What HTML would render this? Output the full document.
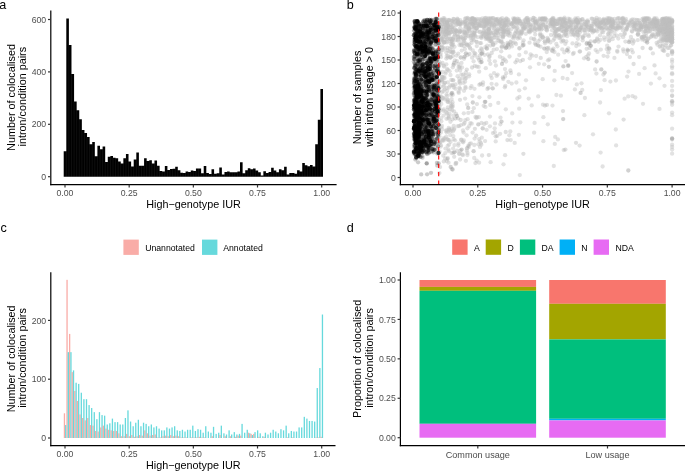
<!DOCTYPE html><html><head><meta charset="utf-8"><style>html,body{margin:0;padding:0;background:#fff;}svg{display:block;will-change:transform}text{font-family:"Liberation Sans", sans-serif;}</style></head><body>
<svg width="685" height="472" viewBox="0 0 685 472">
<rect x="0" y="0" width="685" height="472" fill="#fff"/>
<text x="-0.80" y="9.40" font-size="12.6" fill="#000" text-anchor="start" >a</text>
<text x="346.70" y="9.30" font-size="12.6" fill="#000" text-anchor="start" >b</text>
<text x="0.40" y="232.20" font-size="12.6" fill="#000" text-anchor="start" >c</text>
<text x="346.70" y="232.10" font-size="12.6" fill="#000" text-anchor="start" >d</text>
<path d="M63.70,176.70 L63.70,151.29 L66.30,151.29 L66.30,18.45 L68.89,18.45 L68.89,44.91 L71.48,44.91 L71.48,74.00 L74.08,74.00 L74.08,101.51 L76.67,101.51 L76.67,110.15 L79.26,110.15 L79.26,119.32 L81.85,119.32 L81.85,130.06 L84.45,130.06 L84.45,132.95 L87.04,132.95 L87.04,136.88 L89.63,136.88 L89.63,144.21 L92.23,144.21 L92.23,142.12 L94.82,142.12 L94.82,156.26 L97.41,156.26 L97.41,145.78 L100.00,145.78 L100.00,149.19 L102.60,149.19 L102.60,146.57 L105.19,146.57 L105.19,162.03 L107.78,162.03 L107.78,156.79 L110.38,156.79 L110.38,156.00 L112.97,156.00 L112.97,157.84 L115.56,157.84 L115.56,158.36 L118.16,158.36 L118.16,161.50 L120.75,161.50 L120.75,163.60 L123.34,163.60 L123.34,158.36 L125.93,158.36 L125.93,153.91 L128.53,153.91 L128.53,161.50 L131.12,161.50 L131.12,166.48 L133.71,166.48 L133.71,159.41 L136.31,159.41 L136.31,152.60 L138.90,152.60 L138.90,165.70 L141.49,165.70 L141.49,165.70 L144.08,165.70 L144.08,158.36 L146.68,158.36 L146.68,160.98 L149.27,160.98 L149.27,160.19 L151.86,160.19 L151.86,163.60 L154.46,163.60 L154.46,160.46 L157.05,160.46 L157.05,165.70 L159.64,165.70 L159.64,170.94 L162.23,170.94 L162.23,171.46 L164.83,171.46 L164.83,165.96 L167.42,165.96 L167.42,169.89 L170.01,169.89 L170.01,169.10 L172.61,169.10 L172.61,168.84 L175.20,168.84 L175.20,166.74 L177.79,166.74 L177.79,170.15 L180.39,170.15 L180.39,172.77 L182.98,172.77 L182.98,173.03 L185.57,173.03 L185.57,171.46 L188.16,171.46 L188.16,171.98 L190.76,171.98 L190.76,170.41 L193.35,170.41 L193.35,170.94 L195.94,170.94 L195.94,168.58 L198.54,168.58 L198.54,168.58 L201.13,168.58 L201.13,173.29 L203.72,173.29 L203.72,165.96 L206.31,165.96 L206.31,173.03 L208.91,173.03 L208.91,174.08 L211.50,174.08 L211.50,169.36 L214.09,169.36 L214.09,173.82 L216.69,173.82 L216.69,173.29 L219.28,173.29 L219.28,167.53 L221.87,167.53 L221.87,174.60 L224.47,174.60 L224.47,171.98 L227.06,171.98 L227.06,171.46 L229.65,171.46 L229.65,172.25 L232.24,172.25 L232.24,172.25 L234.84,172.25 L234.84,172.25 L237.43,172.25 L237.43,171.46 L240.02,171.46 L240.02,162.29 L242.62,162.29 L242.62,173.29 L245.21,173.29 L245.21,170.15 L247.80,170.15 L247.80,168.32 L250.39,168.32 L250.39,169.36 L252.99,169.36 L252.99,168.58 L255.58,168.58 L255.58,170.41 L258.17,170.41 L258.17,172.25 L260.77,172.25 L260.77,175.39 L263.36,175.39 L263.36,171.20 L265.95,171.20 L265.95,173.03 L268.54,173.03 L268.54,171.98 L271.14,171.98 L271.14,167.79 L273.73,167.79 L273.73,170.41 L276.32,170.41 L276.32,172.25 L278.92,172.25 L278.92,169.36 L281.51,169.36 L281.51,170.15 L284.10,170.15 L284.10,166.74 L286.70,166.74 L286.70,174.60 L289.29,174.60 L289.29,173.03 L291.88,173.03 L291.88,173.03 L294.47,173.03 L294.47,173.82 L297.07,173.82 L297.07,170.15 L299.66,170.15 L299.66,171.46 L302.25,171.46 L302.25,163.08 L304.85,163.08 L304.85,165.17 L307.44,165.17 L307.44,166.22 L310.03,166.22 L310.03,164.91 L312.62,164.91 L312.62,166.48 L315.22,166.48 L315.22,144.21 L317.81,144.21 L317.81,119.85 L320.40,119.85 L320.40,88.93 L323.00,88.93 L323.00,176.70 Z" fill="#000"/>
<line x1="66.30" y1="151.29" x2="66.30" y2="176.70" stroke="#fff" stroke-opacity="0.18" stroke-width="0.35"/>
<line x1="68.89" y1="44.91" x2="68.89" y2="176.70" stroke="#fff" stroke-opacity="0.18" stroke-width="0.35"/>
<line x1="71.48" y1="74.00" x2="71.48" y2="176.70" stroke="#fff" stroke-opacity="0.18" stroke-width="0.35"/>
<line x1="74.08" y1="101.51" x2="74.08" y2="176.70" stroke="#fff" stroke-opacity="0.18" stroke-width="0.35"/>
<line x1="76.67" y1="110.15" x2="76.67" y2="176.70" stroke="#fff" stroke-opacity="0.18" stroke-width="0.35"/>
<line x1="79.26" y1="119.32" x2="79.26" y2="176.70" stroke="#fff" stroke-opacity="0.18" stroke-width="0.35"/>
<line x1="81.85" y1="130.06" x2="81.85" y2="176.70" stroke="#fff" stroke-opacity="0.18" stroke-width="0.35"/>
<line x1="84.45" y1="132.95" x2="84.45" y2="176.70" stroke="#fff" stroke-opacity="0.18" stroke-width="0.35"/>
<line x1="87.04" y1="136.88" x2="87.04" y2="176.70" stroke="#fff" stroke-opacity="0.18" stroke-width="0.35"/>
<line x1="89.63" y1="144.21" x2="89.63" y2="176.70" stroke="#fff" stroke-opacity="0.18" stroke-width="0.35"/>
<line x1="92.23" y1="144.21" x2="92.23" y2="176.70" stroke="#fff" stroke-opacity="0.18" stroke-width="0.35"/>
<line x1="94.82" y1="156.26" x2="94.82" y2="176.70" stroke="#fff" stroke-opacity="0.18" stroke-width="0.35"/>
<line x1="97.41" y1="156.26" x2="97.41" y2="176.70" stroke="#fff" stroke-opacity="0.18" stroke-width="0.35"/>
<line x1="100.00" y1="149.19" x2="100.00" y2="176.70" stroke="#fff" stroke-opacity="0.18" stroke-width="0.35"/>
<line x1="102.60" y1="149.19" x2="102.60" y2="176.70" stroke="#fff" stroke-opacity="0.18" stroke-width="0.35"/>
<line x1="105.19" y1="162.03" x2="105.19" y2="176.70" stroke="#fff" stroke-opacity="0.18" stroke-width="0.35"/>
<line x1="107.78" y1="162.03" x2="107.78" y2="176.70" stroke="#fff" stroke-opacity="0.18" stroke-width="0.35"/>
<line x1="110.38" y1="156.79" x2="110.38" y2="176.70" stroke="#fff" stroke-opacity="0.18" stroke-width="0.35"/>
<line x1="112.97" y1="157.84" x2="112.97" y2="176.70" stroke="#fff" stroke-opacity="0.18" stroke-width="0.35"/>
<line x1="115.56" y1="158.36" x2="115.56" y2="176.70" stroke="#fff" stroke-opacity="0.18" stroke-width="0.35"/>
<line x1="118.16" y1="161.50" x2="118.16" y2="176.70" stroke="#fff" stroke-opacity="0.18" stroke-width="0.35"/>
<line x1="120.75" y1="163.60" x2="120.75" y2="176.70" stroke="#fff" stroke-opacity="0.18" stroke-width="0.35"/>
<line x1="123.34" y1="163.60" x2="123.34" y2="176.70" stroke="#fff" stroke-opacity="0.18" stroke-width="0.35"/>
<line x1="125.93" y1="158.36" x2="125.93" y2="176.70" stroke="#fff" stroke-opacity="0.18" stroke-width="0.35"/>
<line x1="128.53" y1="161.50" x2="128.53" y2="176.70" stroke="#fff" stroke-opacity="0.18" stroke-width="0.35"/>
<line x1="131.12" y1="166.48" x2="131.12" y2="176.70" stroke="#fff" stroke-opacity="0.18" stroke-width="0.35"/>
<line x1="133.71" y1="166.48" x2="133.71" y2="176.70" stroke="#fff" stroke-opacity="0.18" stroke-width="0.35"/>
<line x1="136.31" y1="159.41" x2="136.31" y2="176.70" stroke="#fff" stroke-opacity="0.18" stroke-width="0.35"/>
<line x1="138.90" y1="165.70" x2="138.90" y2="176.70" stroke="#fff" stroke-opacity="0.18" stroke-width="0.35"/>
<line x1="141.49" y1="165.70" x2="141.49" y2="176.70" stroke="#fff" stroke-opacity="0.18" stroke-width="0.35"/>
<line x1="144.08" y1="165.70" x2="144.08" y2="176.70" stroke="#fff" stroke-opacity="0.18" stroke-width="0.35"/>
<line x1="146.68" y1="160.98" x2="146.68" y2="176.70" stroke="#fff" stroke-opacity="0.18" stroke-width="0.35"/>
<line x1="149.27" y1="160.98" x2="149.27" y2="176.70" stroke="#fff" stroke-opacity="0.18" stroke-width="0.35"/>
<line x1="151.86" y1="163.60" x2="151.86" y2="176.70" stroke="#fff" stroke-opacity="0.18" stroke-width="0.35"/>
<line x1="154.46" y1="163.60" x2="154.46" y2="176.70" stroke="#fff" stroke-opacity="0.18" stroke-width="0.35"/>
<line x1="157.05" y1="165.70" x2="157.05" y2="176.70" stroke="#fff" stroke-opacity="0.18" stroke-width="0.35"/>
<line x1="159.64" y1="170.94" x2="159.64" y2="176.70" stroke="#fff" stroke-opacity="0.18" stroke-width="0.35"/>
<line x1="162.23" y1="171.46" x2="162.23" y2="176.70" stroke="#fff" stroke-opacity="0.18" stroke-width="0.35"/>
<line x1="164.83" y1="171.46" x2="164.83" y2="176.70" stroke="#fff" stroke-opacity="0.18" stroke-width="0.35"/>
<line x1="167.42" y1="169.89" x2="167.42" y2="176.70" stroke="#fff" stroke-opacity="0.18" stroke-width="0.35"/>
<line x1="170.01" y1="169.89" x2="170.01" y2="176.70" stroke="#fff" stroke-opacity="0.18" stroke-width="0.35"/>
<line x1="172.61" y1="169.10" x2="172.61" y2="176.70" stroke="#fff" stroke-opacity="0.18" stroke-width="0.35"/>
<line x1="175.20" y1="168.84" x2="175.20" y2="176.70" stroke="#fff" stroke-opacity="0.18" stroke-width="0.35"/>
<line x1="177.79" y1="170.15" x2="177.79" y2="176.70" stroke="#fff" stroke-opacity="0.18" stroke-width="0.35"/>
<line x1="180.39" y1="172.77" x2="180.39" y2="176.70" stroke="#fff" stroke-opacity="0.18" stroke-width="0.35"/>
<line x1="182.98" y1="173.03" x2="182.98" y2="176.70" stroke="#fff" stroke-opacity="0.18" stroke-width="0.35"/>
<line x1="185.57" y1="173.03" x2="185.57" y2="176.70" stroke="#fff" stroke-opacity="0.18" stroke-width="0.35"/>
<line x1="188.16" y1="171.98" x2="188.16" y2="176.70" stroke="#fff" stroke-opacity="0.18" stroke-width="0.35"/>
<line x1="190.76" y1="171.98" x2="190.76" y2="176.70" stroke="#fff" stroke-opacity="0.18" stroke-width="0.35"/>
<line x1="193.35" y1="170.94" x2="193.35" y2="176.70" stroke="#fff" stroke-opacity="0.18" stroke-width="0.35"/>
<line x1="195.94" y1="170.94" x2="195.94" y2="176.70" stroke="#fff" stroke-opacity="0.18" stroke-width="0.35"/>
<line x1="198.54" y1="168.58" x2="198.54" y2="176.70" stroke="#fff" stroke-opacity="0.18" stroke-width="0.35"/>
<line x1="201.13" y1="173.29" x2="201.13" y2="176.70" stroke="#fff" stroke-opacity="0.18" stroke-width="0.35"/>
<line x1="203.72" y1="173.29" x2="203.72" y2="176.70" stroke="#fff" stroke-opacity="0.18" stroke-width="0.35"/>
<line x1="206.31" y1="173.03" x2="206.31" y2="176.70" stroke="#fff" stroke-opacity="0.18" stroke-width="0.35"/>
<line x1="208.91" y1="174.08" x2="208.91" y2="176.70" stroke="#fff" stroke-opacity="0.18" stroke-width="0.35"/>
<line x1="211.50" y1="174.08" x2="211.50" y2="176.70" stroke="#fff" stroke-opacity="0.18" stroke-width="0.35"/>
<line x1="214.09" y1="173.82" x2="214.09" y2="176.70" stroke="#fff" stroke-opacity="0.18" stroke-width="0.35"/>
<line x1="216.69" y1="173.82" x2="216.69" y2="176.70" stroke="#fff" stroke-opacity="0.18" stroke-width="0.35"/>
<line x1="219.28" y1="173.29" x2="219.28" y2="176.70" stroke="#fff" stroke-opacity="0.18" stroke-width="0.35"/>
<line x1="221.87" y1="174.60" x2="221.87" y2="176.70" stroke="#fff" stroke-opacity="0.18" stroke-width="0.35"/>
<line x1="224.47" y1="174.60" x2="224.47" y2="176.70" stroke="#fff" stroke-opacity="0.18" stroke-width="0.35"/>
<line x1="227.06" y1="171.98" x2="227.06" y2="176.70" stroke="#fff" stroke-opacity="0.18" stroke-width="0.35"/>
<line x1="229.65" y1="172.25" x2="229.65" y2="176.70" stroke="#fff" stroke-opacity="0.18" stroke-width="0.35"/>
<line x1="232.24" y1="172.25" x2="232.24" y2="176.70" stroke="#fff" stroke-opacity="0.18" stroke-width="0.35"/>
<line x1="234.84" y1="172.25" x2="234.84" y2="176.70" stroke="#fff" stroke-opacity="0.18" stroke-width="0.35"/>
<line x1="237.43" y1="172.25" x2="237.43" y2="176.70" stroke="#fff" stroke-opacity="0.18" stroke-width="0.35"/>
<line x1="240.02" y1="171.46" x2="240.02" y2="176.70" stroke="#fff" stroke-opacity="0.18" stroke-width="0.35"/>
<line x1="242.62" y1="173.29" x2="242.62" y2="176.70" stroke="#fff" stroke-opacity="0.18" stroke-width="0.35"/>
<line x1="245.21" y1="173.29" x2="245.21" y2="176.70" stroke="#fff" stroke-opacity="0.18" stroke-width="0.35"/>
<line x1="247.80" y1="170.15" x2="247.80" y2="176.70" stroke="#fff" stroke-opacity="0.18" stroke-width="0.35"/>
<line x1="250.39" y1="169.36" x2="250.39" y2="176.70" stroke="#fff" stroke-opacity="0.18" stroke-width="0.35"/>
<line x1="252.99" y1="169.36" x2="252.99" y2="176.70" stroke="#fff" stroke-opacity="0.18" stroke-width="0.35"/>
<line x1="255.58" y1="170.41" x2="255.58" y2="176.70" stroke="#fff" stroke-opacity="0.18" stroke-width="0.35"/>
<line x1="258.17" y1="172.25" x2="258.17" y2="176.70" stroke="#fff" stroke-opacity="0.18" stroke-width="0.35"/>
<line x1="260.77" y1="175.39" x2="260.77" y2="176.70" stroke="#fff" stroke-opacity="0.18" stroke-width="0.35"/>
<line x1="263.36" y1="175.39" x2="263.36" y2="176.70" stroke="#fff" stroke-opacity="0.18" stroke-width="0.35"/>
<line x1="265.95" y1="173.03" x2="265.95" y2="176.70" stroke="#fff" stroke-opacity="0.18" stroke-width="0.35"/>
<line x1="268.54" y1="173.03" x2="268.54" y2="176.70" stroke="#fff" stroke-opacity="0.18" stroke-width="0.35"/>
<line x1="271.14" y1="171.98" x2="271.14" y2="176.70" stroke="#fff" stroke-opacity="0.18" stroke-width="0.35"/>
<line x1="273.73" y1="170.41" x2="273.73" y2="176.70" stroke="#fff" stroke-opacity="0.18" stroke-width="0.35"/>
<line x1="276.32" y1="172.25" x2="276.32" y2="176.70" stroke="#fff" stroke-opacity="0.18" stroke-width="0.35"/>
<line x1="278.92" y1="172.25" x2="278.92" y2="176.70" stroke="#fff" stroke-opacity="0.18" stroke-width="0.35"/>
<line x1="281.51" y1="170.15" x2="281.51" y2="176.70" stroke="#fff" stroke-opacity="0.18" stroke-width="0.35"/>
<line x1="284.10" y1="170.15" x2="284.10" y2="176.70" stroke="#fff" stroke-opacity="0.18" stroke-width="0.35"/>
<line x1="286.70" y1="174.60" x2="286.70" y2="176.70" stroke="#fff" stroke-opacity="0.18" stroke-width="0.35"/>
<line x1="289.29" y1="174.60" x2="289.29" y2="176.70" stroke="#fff" stroke-opacity="0.18" stroke-width="0.35"/>
<line x1="291.88" y1="173.03" x2="291.88" y2="176.70" stroke="#fff" stroke-opacity="0.18" stroke-width="0.35"/>
<line x1="294.47" y1="173.82" x2="294.47" y2="176.70" stroke="#fff" stroke-opacity="0.18" stroke-width="0.35"/>
<line x1="297.07" y1="173.82" x2="297.07" y2="176.70" stroke="#fff" stroke-opacity="0.18" stroke-width="0.35"/>
<line x1="299.66" y1="171.46" x2="299.66" y2="176.70" stroke="#fff" stroke-opacity="0.18" stroke-width="0.35"/>
<line x1="302.25" y1="171.46" x2="302.25" y2="176.70" stroke="#fff" stroke-opacity="0.18" stroke-width="0.35"/>
<line x1="304.85" y1="165.17" x2="304.85" y2="176.70" stroke="#fff" stroke-opacity="0.18" stroke-width="0.35"/>
<line x1="307.44" y1="166.22" x2="307.44" y2="176.70" stroke="#fff" stroke-opacity="0.18" stroke-width="0.35"/>
<line x1="310.03" y1="166.22" x2="310.03" y2="176.70" stroke="#fff" stroke-opacity="0.18" stroke-width="0.35"/>
<line x1="312.62" y1="166.48" x2="312.62" y2="176.70" stroke="#fff" stroke-opacity="0.18" stroke-width="0.35"/>
<line x1="315.22" y1="166.48" x2="315.22" y2="176.70" stroke="#fff" stroke-opacity="0.18" stroke-width="0.35"/>
<line x1="317.81" y1="144.21" x2="317.81" y2="176.70" stroke="#fff" stroke-opacity="0.18" stroke-width="0.35"/>
<line x1="320.40" y1="119.85" x2="320.40" y2="176.70" stroke="#fff" stroke-opacity="0.18" stroke-width="0.35"/>
<line x1="50.80" y1="10.60" x2="50.80" y2="185.30" stroke="#000" stroke-width="1.2" />
<line x1="48.00" y1="176.70" x2="50.80" y2="176.70" stroke="#333" stroke-width="1.2" />
<text x="46.20" y="179.80" font-size="8.7" fill="#4d4d4d" text-anchor="end" >0</text>
<line x1="48.00" y1="124.30" x2="50.80" y2="124.30" stroke="#333" stroke-width="1.2" />
<text x="46.20" y="127.40" font-size="8.7" fill="#4d4d4d" text-anchor="end" >200</text>
<line x1="48.00" y1="71.90" x2="50.80" y2="71.90" stroke="#333" stroke-width="1.2" />
<text x="46.20" y="75.00" font-size="8.7" fill="#4d4d4d" text-anchor="end" >400</text>
<line x1="48.00" y1="19.50" x2="50.80" y2="19.50" stroke="#333" stroke-width="1.2" />
<text x="46.20" y="22.60" font-size="8.7" fill="#4d4d4d" text-anchor="end" >600</text>
<line x1="50.20" y1="184.70" x2="336.60" y2="184.70" stroke="#000" stroke-width="1.2" />
<line x1="65.00" y1="184.70" x2="65.00" y2="187.50" stroke="#333" stroke-width="1.2" />
<text x="65.00" y="195.90" font-size="8.7" fill="#4d4d4d" text-anchor="middle" >0.00</text>
<line x1="129.18" y1="184.70" x2="129.18" y2="187.50" stroke="#333" stroke-width="1.2" />
<text x="129.18" y="195.90" font-size="8.7" fill="#4d4d4d" text-anchor="middle" >0.25</text>
<line x1="193.35" y1="184.70" x2="193.35" y2="187.50" stroke="#333" stroke-width="1.2" />
<text x="193.35" y="195.90" font-size="8.7" fill="#4d4d4d" text-anchor="middle" >0.50</text>
<line x1="257.52" y1="184.70" x2="257.52" y2="187.50" stroke="#333" stroke-width="1.2" />
<text x="257.52" y="195.90" font-size="8.7" fill="#4d4d4d" text-anchor="middle" >0.75</text>
<line x1="321.70" y1="184.70" x2="321.70" y2="187.50" stroke="#333" stroke-width="1.2" />
<text x="321.70" y="195.90" font-size="8.7" fill="#4d4d4d" text-anchor="middle" >1.00</text>
<text x="193.50" y="208.30" font-size="10.8" fill="#000" text-anchor="middle" >High−genotype IUR</text>
<text font-size="10.8" fill="#000" text-anchor="middle" transform="translate(14.8,97.5) rotate(-90)">Number of colocalised</text>
<text font-size="10.8" fill="#000" text-anchor="middle" transform="translate(26.0,96.7) rotate(-90)">intron/condition pairs</text>
<g fill="#bebebe" fill-opacity="0.45">
<circle cx="447.7" cy="145.8" r="2.15"/>
<circle cx="556.2" cy="36.3" r="2.15"/>
<circle cx="492.6" cy="18.1" r="2.15"/>
<circle cx="566.0" cy="30.6" r="2.15"/>
<circle cx="504.9" cy="46.4" r="2.15"/>
<circle cx="557.4" cy="35.7" r="2.15"/>
<circle cx="486.6" cy="22.4" r="2.15"/>
<circle cx="484.2" cy="23.9" r="2.15"/>
<circle cx="629.6" cy="40.6" r="2.15"/>
<circle cx="486.6" cy="20.1" r="2.15"/>
<circle cx="576.1" cy="26.5" r="2.15"/>
<circle cx="634.0" cy="28.3" r="2.15"/>
<circle cx="647.3" cy="18.5" r="2.15"/>
<circle cx="643.4" cy="26.4" r="2.15"/>
<circle cx="446.9" cy="29.6" r="2.15"/>
<circle cx="519.5" cy="97.0" r="2.15"/>
<circle cx="442.0" cy="126.0" r="2.15"/>
<circle cx="623.1" cy="37.2" r="2.15"/>
<circle cx="670.4" cy="34.1" r="2.15"/>
<circle cx="504.1" cy="26.1" r="2.15"/>
<circle cx="453.7" cy="27.8" r="2.15"/>
<circle cx="669.6" cy="23.9" r="2.15"/>
<circle cx="626.9" cy="54.1" r="2.15"/>
<circle cx="582.0" cy="19.4" r="2.15"/>
<circle cx="594.6" cy="19.4" r="2.15"/>
<circle cx="450.7" cy="41.5" r="2.15"/>
<circle cx="553.7" cy="24.4" r="2.15"/>
<circle cx="459.8" cy="81.1" r="2.15"/>
<circle cx="455.4" cy="88.7" r="2.15"/>
<circle cx="664.2" cy="25.4" r="2.15"/>
<circle cx="506.1" cy="61.5" r="2.15"/>
<circle cx="456.3" cy="162.8" r="2.15"/>
<circle cx="442.5" cy="63.0" r="2.15"/>
<circle cx="608.6" cy="27.9" r="2.15"/>
<circle cx="448.3" cy="131.6" r="2.15"/>
<circle cx="670.8" cy="34.8" r="2.15"/>
<circle cx="448.0" cy="139.7" r="2.15"/>
<circle cx="464.8" cy="38.8" r="2.15"/>
<circle cx="443.7" cy="36.4" r="2.15"/>
<circle cx="497.4" cy="33.0" r="2.15"/>
<circle cx="468.3" cy="18.6" r="2.15"/>
<circle cx="487.6" cy="33.8" r="2.15"/>
<circle cx="499.6" cy="22.2" r="2.15"/>
<circle cx="489.3" cy="60.4" r="2.15"/>
<circle cx="443.5" cy="78.1" r="2.15"/>
<circle cx="573.2" cy="29.6" r="2.15"/>
<circle cx="664.4" cy="21.7" r="2.15"/>
<circle cx="472.3" cy="18.3" r="2.15"/>
<circle cx="669.0" cy="21.7" r="2.15"/>
<circle cx="510.8" cy="44.8" r="2.15"/>
<circle cx="666.4" cy="39.4" r="2.15"/>
<circle cx="523.6" cy="29.7" r="2.15"/>
<circle cx="490.6" cy="18.2" r="2.15"/>
<circle cx="566.0" cy="34.4" r="2.15"/>
<circle cx="664.7" cy="37.9" r="2.15"/>
<circle cx="465.5" cy="86.9" r="2.15"/>
<circle cx="616.3" cy="28.4" r="2.15"/>
<circle cx="654.3" cy="26.1" r="2.15"/>
<circle cx="657.0" cy="22.5" r="2.15"/>
<circle cx="470.2" cy="33.0" r="2.15"/>
<circle cx="506.6" cy="24.8" r="2.15"/>
<circle cx="613.4" cy="21.6" r="2.15"/>
<circle cx="571.9" cy="32.0" r="2.15"/>
<circle cx="568.2" cy="48.4" r="2.15"/>
<circle cx="644.8" cy="22.2" r="2.15"/>
<circle cx="646.3" cy="28.5" r="2.15"/>
<circle cx="602.8" cy="22.0" r="2.15"/>
<circle cx="573.8" cy="52.9" r="2.15"/>
<circle cx="453.6" cy="64.7" r="2.15"/>
<circle cx="441.2" cy="19.9" r="2.15"/>
<circle cx="490.7" cy="40.9" r="2.15"/>
<circle cx="553.2" cy="24.0" r="2.15"/>
<circle cx="466.6" cy="135.3" r="2.15"/>
<circle cx="474.9" cy="21.0" r="2.15"/>
<circle cx="589.2" cy="25.3" r="2.15"/>
<circle cx="617.4" cy="51.8" r="2.15"/>
<circle cx="643.7" cy="20.2" r="2.15"/>
<circle cx="444.9" cy="22.5" r="2.15"/>
<circle cx="632.5" cy="19.4" r="2.15"/>
<circle cx="500.9" cy="34.0" r="2.15"/>
<circle cx="489.4" cy="26.2" r="2.15"/>
<circle cx="599.3" cy="18.8" r="2.15"/>
<circle cx="669.0" cy="20.6" r="2.15"/>
<circle cx="608.8" cy="20.9" r="2.15"/>
<circle cx="563.8" cy="35.7" r="2.15"/>
<circle cx="503.1" cy="36.9" r="2.15"/>
<circle cx="443.8" cy="140.4" r="2.15"/>
<circle cx="455.9" cy="21.0" r="2.15"/>
<circle cx="607.6" cy="37.1" r="2.15"/>
<circle cx="473.9" cy="40.2" r="2.15"/>
<circle cx="576.7" cy="43.2" r="2.15"/>
<circle cx="542.9" cy="37.4" r="2.15"/>
<circle cx="474.0" cy="22.9" r="2.15"/>
<circle cx="463.8" cy="113.3" r="2.15"/>
<circle cx="463.2" cy="142.3" r="2.15"/>
<circle cx="664.8" cy="24.9" r="2.15"/>
<circle cx="563.8" cy="31.7" r="2.15"/>
<circle cx="665.4" cy="21.3" r="2.15"/>
<circle cx="572.1" cy="73.1" r="2.15"/>
<circle cx="585.1" cy="32.7" r="2.15"/>
<circle cx="670.4" cy="25.7" r="2.15"/>
<circle cx="442.1" cy="80.1" r="2.15"/>
<circle cx="446.3" cy="52.6" r="2.15"/>
<circle cx="547.8" cy="124.3" r="2.15"/>
<circle cx="483.1" cy="36.6" r="2.15"/>
<circle cx="658.1" cy="21.2" r="2.15"/>
<circle cx="627.4" cy="27.2" r="2.15"/>
<circle cx="575.4" cy="18.4" r="2.15"/>
<circle cx="458.5" cy="143.6" r="2.15"/>
<circle cx="447.9" cy="107.4" r="2.15"/>
<circle cx="476.2" cy="28.2" r="2.15"/>
<circle cx="463.9" cy="41.2" r="2.15"/>
<circle cx="506.3" cy="18.3" r="2.15"/>
<circle cx="470.7" cy="22.2" r="2.15"/>
<circle cx="463.2" cy="21.9" r="2.15"/>
<circle cx="506.4" cy="20.3" r="2.15"/>
<circle cx="453.7" cy="22.2" r="2.15"/>
<circle cx="485.6" cy="33.3" r="2.15"/>
<circle cx="520.0" cy="21.1" r="2.15"/>
<circle cx="656.8" cy="20.1" r="2.15"/>
<circle cx="465.9" cy="72.5" r="2.15"/>
<circle cx="448.0" cy="55.6" r="2.15"/>
<circle cx="637.8" cy="40.1" r="2.15"/>
<circle cx="637.8" cy="20.2" r="2.15"/>
<circle cx="586.3" cy="57.0" r="2.15"/>
<circle cx="458.5" cy="91.7" r="2.15"/>
<circle cx="633.9" cy="41.3" r="2.15"/>
<circle cx="600.8" cy="49.6" r="2.15"/>
<circle cx="487.6" cy="23.3" r="2.15"/>
<circle cx="440.9" cy="145.2" r="2.15"/>
<circle cx="448.9" cy="33.5" r="2.15"/>
<circle cx="466.2" cy="33.1" r="2.15"/>
<circle cx="546.9" cy="48.1" r="2.15"/>
<circle cx="559.4" cy="28.4" r="2.15"/>
<circle cx="542.7" cy="79.2" r="2.15"/>
<circle cx="550.7" cy="24.0" r="2.15"/>
<circle cx="446.9" cy="22.8" r="2.15"/>
<circle cx="447.9" cy="26.7" r="2.15"/>
<circle cx="527.8" cy="20.1" r="2.15"/>
<circle cx="576.3" cy="46.0" r="2.15"/>
<circle cx="443.9" cy="109.5" r="2.15"/>
<circle cx="459.1" cy="154.0" r="2.15"/>
<circle cx="444.7" cy="89.3" r="2.15"/>
<circle cx="530.0" cy="67.3" r="2.15"/>
<circle cx="671.6" cy="21.9" r="2.15"/>
<circle cx="639.2" cy="25.8" r="2.15"/>
<circle cx="539.2" cy="29.7" r="2.15"/>
<circle cx="516.4" cy="82.5" r="2.15"/>
<circle cx="453.2" cy="85.3" r="2.15"/>
<circle cx="564.5" cy="17.7" r="2.15"/>
<circle cx="476.8" cy="66.6" r="2.15"/>
<circle cx="511.5" cy="29.1" r="2.15"/>
<circle cx="667.1" cy="27.0" r="2.15"/>
<circle cx="439.3" cy="61.8" r="2.15"/>
<circle cx="496.8" cy="37.9" r="2.15"/>
<circle cx="465.1" cy="98.6" r="2.15"/>
<circle cx="519.5" cy="48.1" r="2.15"/>
<circle cx="452.9" cy="56.0" r="2.15"/>
<circle cx="561.8" cy="27.1" r="2.15"/>
<circle cx="465.1" cy="81.7" r="2.15"/>
<circle cx="507.5" cy="42.9" r="2.15"/>
<circle cx="446.2" cy="37.2" r="2.15"/>
<circle cx="442.1" cy="81.6" r="2.15"/>
<circle cx="453.6" cy="139.2" r="2.15"/>
<circle cx="564.7" cy="19.8" r="2.15"/>
<circle cx="534.8" cy="21.9" r="2.15"/>
<circle cx="649.5" cy="27.8" r="2.15"/>
<circle cx="671.6" cy="38.1" r="2.15"/>
<circle cx="485.8" cy="68.2" r="2.15"/>
<circle cx="439.6" cy="106.7" r="2.15"/>
<circle cx="560.9" cy="18.7" r="2.15"/>
<circle cx="519.8" cy="175.1" r="2.15"/>
<circle cx="446.0" cy="131.0" r="2.15"/>
<circle cx="607.1" cy="18.4" r="2.15"/>
<circle cx="541.5" cy="26.2" r="2.15"/>
<circle cx="602.6" cy="166.5" r="2.15"/>
<circle cx="460.4" cy="24.1" r="2.15"/>
<circle cx="468.4" cy="29.1" r="2.15"/>
<circle cx="451.8" cy="169.1" r="2.15"/>
<circle cx="584.1" cy="58.3" r="2.15"/>
<circle cx="558.0" cy="29.1" r="2.15"/>
<circle cx="631.1" cy="20.1" r="2.15"/>
<circle cx="486.3" cy="122.9" r="2.15"/>
<circle cx="666.7" cy="24.6" r="2.15"/>
<circle cx="563.1" cy="22.0" r="2.15"/>
<circle cx="650.1" cy="28.9" r="2.15"/>
<circle cx="491.3" cy="33.1" r="2.15"/>
<circle cx="444.0" cy="66.5" r="2.15"/>
<circle cx="579.9" cy="20.1" r="2.15"/>
<circle cx="451.6" cy="128.6" r="2.15"/>
<circle cx="478.6" cy="66.9" r="2.15"/>
<circle cx="588.6" cy="30.1" r="2.15"/>
<circle cx="456.7" cy="70.6" r="2.15"/>
<circle cx="467.2" cy="25.1" r="2.15"/>
<circle cx="613.2" cy="23.8" r="2.15"/>
<circle cx="439.4" cy="32.2" r="2.15"/>
<circle cx="604.5" cy="72.8" r="2.15"/>
<circle cx="560.1" cy="25.2" r="2.15"/>
<circle cx="542.7" cy="18.5" r="2.15"/>
<circle cx="667.0" cy="18.1" r="2.15"/>
<circle cx="578.0" cy="22.3" r="2.15"/>
<circle cx="457.3" cy="18.7" r="2.15"/>
<circle cx="492.3" cy="26.4" r="2.15"/>
<circle cx="536.3" cy="21.9" r="2.15"/>
<circle cx="518.8" cy="33.4" r="2.15"/>
<circle cx="664.6" cy="18.9" r="2.15"/>
<circle cx="566.5" cy="23.3" r="2.15"/>
<circle cx="525.6" cy="20.8" r="2.15"/>
<circle cx="481.5" cy="36.1" r="2.15"/>
<circle cx="584.6" cy="24.2" r="2.15"/>
<circle cx="447.8" cy="57.6" r="2.15"/>
<circle cx="448.7" cy="115.9" r="2.15"/>
<circle cx="615.5" cy="20.8" r="2.15"/>
<circle cx="632.8" cy="52.3" r="2.15"/>
<circle cx="514.7" cy="18.7" r="2.15"/>
<circle cx="561.0" cy="19.3" r="2.15"/>
<circle cx="663.4" cy="50.4" r="2.15"/>
<circle cx="443.4" cy="30.4" r="2.15"/>
<circle cx="450.3" cy="85.5" r="2.15"/>
<circle cx="490.6" cy="162.2" r="2.15"/>
<circle cx="670.2" cy="27.4" r="2.15"/>
<circle cx="478.2" cy="25.3" r="2.15"/>
<circle cx="536.1" cy="56.0" r="2.15"/>
<circle cx="607.8" cy="20.3" r="2.15"/>
<circle cx="656.6" cy="26.2" r="2.15"/>
<circle cx="632.5" cy="96.1" r="2.15"/>
<circle cx="664.9" cy="23.7" r="2.15"/>
<circle cx="474.3" cy="33.0" r="2.15"/>
<circle cx="610.7" cy="37.1" r="2.15"/>
<circle cx="588.0" cy="55.3" r="2.15"/>
<circle cx="517.5" cy="22.2" r="2.15"/>
<circle cx="625.1" cy="22.6" r="2.15"/>
<circle cx="652.4" cy="24.2" r="2.15"/>
<circle cx="442.9" cy="47.7" r="2.15"/>
<circle cx="669.9" cy="21.2" r="2.15"/>
<circle cx="451.6" cy="153.0" r="2.15"/>
<circle cx="442.3" cy="129.4" r="2.15"/>
<circle cx="476.7" cy="42.0" r="2.15"/>
<circle cx="487.7" cy="21.9" r="2.15"/>
<circle cx="461.2" cy="37.4" r="2.15"/>
<circle cx="552.4" cy="22.0" r="2.15"/>
<circle cx="658.6" cy="28.7" r="2.15"/>
<circle cx="508.2" cy="21.0" r="2.15"/>
<circle cx="645.7" cy="38.4" r="2.15"/>
<circle cx="533.5" cy="26.8" r="2.15"/>
<circle cx="657.1" cy="28.4" r="2.15"/>
<circle cx="546.4" cy="26.8" r="2.15"/>
<circle cx="600.9" cy="90.1" r="2.15"/>
<circle cx="476.0" cy="20.9" r="2.15"/>
<circle cx="447.9" cy="100.1" r="2.15"/>
<circle cx="453.2" cy="152.8" r="2.15"/>
<circle cx="618.6" cy="25.7" r="2.15"/>
<circle cx="658.3" cy="35.1" r="2.15"/>
<circle cx="534.8" cy="22.3" r="2.15"/>
<circle cx="458.8" cy="92.9" r="2.15"/>
<circle cx="486.1" cy="26.7" r="2.15"/>
<circle cx="444.5" cy="41.9" r="2.15"/>
<circle cx="547.0" cy="29.7" r="2.15"/>
<circle cx="653.5" cy="20.8" r="2.15"/>
<circle cx="609.0" cy="113.3" r="2.15"/>
<circle cx="452.3" cy="29.0" r="2.15"/>
<circle cx="456.1" cy="113.9" r="2.15"/>
<circle cx="534.5" cy="39.4" r="2.15"/>
<circle cx="668.3" cy="35.5" r="2.15"/>
<circle cx="536.9" cy="29.7" r="2.15"/>
<circle cx="636.7" cy="19.9" r="2.15"/>
<circle cx="529.8" cy="26.5" r="2.15"/>
<circle cx="584.1" cy="21.6" r="2.15"/>
<circle cx="486.4" cy="30.8" r="2.15"/>
<circle cx="582.9" cy="37.8" r="2.15"/>
<circle cx="529.7" cy="32.4" r="2.15"/>
<circle cx="465.4" cy="75.5" r="2.15"/>
<circle cx="541.5" cy="19.6" r="2.15"/>
<circle cx="460.5" cy="37.2" r="2.15"/>
<circle cx="554.1" cy="28.1" r="2.15"/>
<circle cx="651.8" cy="36.2" r="2.15"/>
<circle cx="670.9" cy="35.1" r="2.15"/>
<circle cx="608.2" cy="29.8" r="2.15"/>
<circle cx="447.4" cy="159.1" r="2.15"/>
<circle cx="600.6" cy="23.1" r="2.15"/>
<circle cx="512.5" cy="23.4" r="2.15"/>
<circle cx="471.1" cy="35.8" r="2.15"/>
<circle cx="531.7" cy="105.4" r="2.15"/>
<circle cx="648.3" cy="38.7" r="2.15"/>
<circle cx="447.0" cy="69.0" r="2.15"/>
<circle cx="667.8" cy="48.1" r="2.15"/>
<circle cx="488.8" cy="18.5" r="2.15"/>
<circle cx="491.6" cy="83.8" r="2.15"/>
<circle cx="655.8" cy="20.8" r="2.15"/>
<circle cx="663.4" cy="28.8" r="2.15"/>
<circle cx="484.3" cy="28.0" r="2.15"/>
<circle cx="653.4" cy="28.8" r="2.15"/>
<circle cx="556.3" cy="44.0" r="2.15"/>
<circle cx="452.8" cy="131.5" r="2.15"/>
<circle cx="485.1" cy="141.1" r="2.15"/>
<circle cx="450.8" cy="131.3" r="2.15"/>
<circle cx="481.3" cy="144.7" r="2.15"/>
<circle cx="669.4" cy="40.7" r="2.15"/>
<circle cx="479.2" cy="71.7" r="2.15"/>
<circle cx="513.2" cy="18.5" r="2.15"/>
<circle cx="596.7" cy="24.1" r="2.15"/>
<circle cx="465.1" cy="78.7" r="2.15"/>
<circle cx="611.1" cy="26.6" r="2.15"/>
<circle cx="652.1" cy="25.9" r="2.15"/>
<circle cx="597.1" cy="31.3" r="2.15"/>
<circle cx="547.7" cy="41.4" r="2.15"/>
<circle cx="460.1" cy="83.5" r="2.15"/>
<circle cx="453.3" cy="136.1" r="2.15"/>
<circle cx="539.7" cy="18.4" r="2.15"/>
<circle cx="490.1" cy="19.2" r="2.15"/>
<circle cx="669.8" cy="30.2" r="2.15"/>
<circle cx="453.8" cy="125.8" r="2.15"/>
<circle cx="446.5" cy="118.8" r="2.15"/>
<circle cx="494.1" cy="26.1" r="2.15"/>
<circle cx="580.4" cy="27.9" r="2.15"/>
<circle cx="478.5" cy="25.8" r="2.15"/>
<circle cx="494.0" cy="24.8" r="2.15"/>
<circle cx="473.6" cy="61.3" r="2.15"/>
<circle cx="609.5" cy="30.6" r="2.15"/>
<circle cx="625.5" cy="20.6" r="2.15"/>
<circle cx="590.7" cy="25.6" r="2.15"/>
<circle cx="447.9" cy="25.6" r="2.15"/>
<circle cx="659.5" cy="78.3" r="2.15"/>
<circle cx="565.4" cy="21.1" r="2.15"/>
<circle cx="578.0" cy="22.4" r="2.15"/>
<circle cx="635.6" cy="24.1" r="2.15"/>
<circle cx="668.8" cy="18.7" r="2.15"/>
<circle cx="446.3" cy="34.8" r="2.15"/>
<circle cx="641.4" cy="37.1" r="2.15"/>
<circle cx="560.8" cy="24.3" r="2.15"/>
<circle cx="449.0" cy="35.6" r="2.15"/>
<circle cx="576.0" cy="21.8" r="2.15"/>
<circle cx="579.4" cy="30.0" r="2.15"/>
<circle cx="446.9" cy="22.2" r="2.15"/>
<circle cx="660.9" cy="38.5" r="2.15"/>
<circle cx="527.4" cy="17.9" r="2.15"/>
<circle cx="579.6" cy="51.6" r="2.15"/>
<circle cx="517.4" cy="24.1" r="2.15"/>
<circle cx="508.5" cy="28.9" r="2.15"/>
<circle cx="445.5" cy="30.2" r="2.15"/>
<circle cx="451.1" cy="106.1" r="2.15"/>
<circle cx="462.0" cy="67.5" r="2.15"/>
<circle cx="487.4" cy="89.0" r="2.15"/>
<circle cx="644.7" cy="21.5" r="2.15"/>
<circle cx="631.4" cy="21.5" r="2.15"/>
<circle cx="601.6" cy="28.4" r="2.15"/>
<circle cx="582.5" cy="37.5" r="2.15"/>
<circle cx="465.0" cy="33.0" r="2.15"/>
<circle cx="489.9" cy="126.3" r="2.15"/>
<circle cx="582.6" cy="19.2" r="2.15"/>
<circle cx="497.7" cy="31.1" r="2.15"/>
<circle cx="663.8" cy="32.3" r="2.15"/>
<circle cx="513.9" cy="35.9" r="2.15"/>
<circle cx="610.3" cy="28.1" r="2.15"/>
<circle cx="452.9" cy="39.5" r="2.15"/>
<circle cx="511.4" cy="24.6" r="2.15"/>
<circle cx="520.9" cy="34.2" r="2.15"/>
<circle cx="660.7" cy="29.1" r="2.15"/>
<circle cx="483.3" cy="26.8" r="2.15"/>
<circle cx="526.3" cy="24.5" r="2.15"/>
<circle cx="501.0" cy="25.8" r="2.15"/>
<circle cx="534.8" cy="31.2" r="2.15"/>
<circle cx="506.2" cy="73.2" r="2.15"/>
<circle cx="599.4" cy="27.1" r="2.15"/>
<circle cx="445.6" cy="34.8" r="2.15"/>
<circle cx="610.5" cy="33.6" r="2.15"/>
<circle cx="441.4" cy="40.5" r="2.15"/>
<circle cx="562.7" cy="78.0" r="2.15"/>
<circle cx="667.1" cy="30.0" r="2.15"/>
<circle cx="464.2" cy="56.8" r="2.15"/>
<circle cx="542.7" cy="37.3" r="2.15"/>
<circle cx="444.9" cy="48.4" r="2.15"/>
<circle cx="622.9" cy="17.8" r="2.15"/>
<circle cx="500.9" cy="29.1" r="2.15"/>
<circle cx="439.8" cy="98.2" r="2.15"/>
<circle cx="481.9" cy="53.4" r="2.15"/>
<circle cx="666.4" cy="23.2" r="2.15"/>
<circle cx="654.6" cy="19.0" r="2.15"/>
<circle cx="670.3" cy="30.0" r="2.15"/>
<circle cx="447.3" cy="33.8" r="2.15"/>
<circle cx="469.2" cy="126.1" r="2.15"/>
<circle cx="493.3" cy="18.1" r="2.15"/>
<circle cx="500.5" cy="19.2" r="2.15"/>
<circle cx="627.4" cy="49.6" r="2.15"/>
<circle cx="440.7" cy="53.7" r="2.15"/>
<circle cx="522.9" cy="42.7" r="2.15"/>
<circle cx="486.5" cy="21.7" r="2.15"/>
<circle cx="639.3" cy="30.2" r="2.15"/>
<circle cx="602.9" cy="28.1" r="2.15"/>
<circle cx="493.3" cy="44.9" r="2.15"/>
<circle cx="447.2" cy="22.5" r="2.15"/>
<circle cx="453.9" cy="19.1" r="2.15"/>
<circle cx="646.1" cy="36.0" r="2.15"/>
<circle cx="502.7" cy="58.2" r="2.15"/>
<circle cx="463.8" cy="45.9" r="2.15"/>
<circle cx="443.7" cy="65.7" r="2.15"/>
<circle cx="463.8" cy="39.7" r="2.15"/>
<circle cx="526.4" cy="19.0" r="2.15"/>
<circle cx="439.0" cy="83.6" r="2.15"/>
<circle cx="439.2" cy="106.8" r="2.15"/>
<circle cx="595.6" cy="50.1" r="2.15"/>
<circle cx="449.0" cy="144.7" r="2.15"/>
<circle cx="528.5" cy="21.3" r="2.15"/>
<circle cx="562.9" cy="40.7" r="2.15"/>
<circle cx="609.4" cy="21.5" r="2.15"/>
<circle cx="501.0" cy="40.9" r="2.15"/>
<circle cx="493.4" cy="21.7" r="2.15"/>
<circle cx="459.7" cy="66.6" r="2.15"/>
<circle cx="662.7" cy="43.9" r="2.15"/>
<circle cx="569.8" cy="21.8" r="2.15"/>
<circle cx="499.0" cy="23.1" r="2.15"/>
<circle cx="469.2" cy="44.4" r="2.15"/>
<circle cx="472.2" cy="26.9" r="2.15"/>
<circle cx="618.3" cy="38.6" r="2.15"/>
<circle cx="551.6" cy="23.6" r="2.15"/>
<circle cx="471.6" cy="42.8" r="2.15"/>
<circle cx="546.7" cy="52.0" r="2.15"/>
<circle cx="644.7" cy="36.6" r="2.15"/>
<circle cx="590.4" cy="45.6" r="2.15"/>
<circle cx="523.8" cy="44.9" r="2.15"/>
<circle cx="552.9" cy="20.5" r="2.15"/>
<circle cx="528.5" cy="31.4" r="2.15"/>
<circle cx="472.7" cy="18.2" r="2.15"/>
<circle cx="633.5" cy="24.3" r="2.15"/>
<circle cx="447.5" cy="101.6" r="2.15"/>
<circle cx="621.2" cy="26.4" r="2.15"/>
<circle cx="611.6" cy="25.8" r="2.15"/>
<circle cx="442.8" cy="98.1" r="2.15"/>
<circle cx="488.5" cy="34.9" r="2.15"/>
<circle cx="538.2" cy="96.4" r="2.15"/>
<circle cx="671.6" cy="21.5" r="2.15"/>
<circle cx="660.2" cy="24.6" r="2.15"/>
<circle cx="489.8" cy="38.0" r="2.15"/>
<circle cx="481.6" cy="122.9" r="2.15"/>
<circle cx="667.4" cy="40.9" r="2.15"/>
<circle cx="501.2" cy="51.3" r="2.15"/>
<circle cx="624.1" cy="23.3" r="2.15"/>
<circle cx="510.7" cy="140.1" r="2.15"/>
<circle cx="634.5" cy="19.6" r="2.15"/>
<circle cx="482.9" cy="84.8" r="2.15"/>
<circle cx="524.3" cy="27.8" r="2.15"/>
<circle cx="520.5" cy="23.7" r="2.15"/>
<circle cx="604.7" cy="72.6" r="2.15"/>
<circle cx="660.4" cy="28.8" r="2.15"/>
<circle cx="454.3" cy="128.6" r="2.15"/>
<circle cx="568.2" cy="32.4" r="2.15"/>
<circle cx="659.8" cy="25.4" r="2.15"/>
<circle cx="599.3" cy="28.9" r="2.15"/>
<circle cx="454.5" cy="46.8" r="2.15"/>
<circle cx="473.9" cy="26.8" r="2.15"/>
<circle cx="643.4" cy="39.1" r="2.15"/>
<circle cx="444.3" cy="24.1" r="2.15"/>
<circle cx="556.4" cy="21.0" r="2.15"/>
<circle cx="514.5" cy="27.2" r="2.15"/>
<circle cx="630.1" cy="23.2" r="2.15"/>
<circle cx="591.6" cy="18.7" r="2.15"/>
<circle cx="569.0" cy="21.2" r="2.15"/>
<circle cx="442.1" cy="38.9" r="2.15"/>
<circle cx="626.2" cy="28.9" r="2.15"/>
<circle cx="574.9" cy="89.4" r="2.15"/>
<circle cx="648.9" cy="27.5" r="2.15"/>
<circle cx="482.1" cy="155.5" r="2.15"/>
<circle cx="654.6" cy="21.3" r="2.15"/>
<circle cx="479.8" cy="55.7" r="2.15"/>
<circle cx="594.1" cy="22.3" r="2.15"/>
<circle cx="448.0" cy="19.8" r="2.15"/>
<circle cx="586.9" cy="21.5" r="2.15"/>
<circle cx="625.9" cy="19.0" r="2.15"/>
<circle cx="440.9" cy="100.3" r="2.15"/>
<circle cx="609.4" cy="49.0" r="2.15"/>
<circle cx="575.0" cy="30.1" r="2.15"/>
<circle cx="446.3" cy="64.3" r="2.15"/>
<circle cx="641.0" cy="29.5" r="2.15"/>
<circle cx="670.8" cy="38.7" r="2.15"/>
<circle cx="645.9" cy="26.6" r="2.15"/>
<circle cx="650.9" cy="83.6" r="2.15"/>
<circle cx="643.7" cy="20.2" r="2.15"/>
<circle cx="643.0" cy="103.8" r="2.15"/>
<circle cx="450.1" cy="30.0" r="2.15"/>
<circle cx="550.4" cy="42.4" r="2.15"/>
<circle cx="452.8" cy="80.2" r="2.15"/>
<circle cx="443.3" cy="91.1" r="2.15"/>
<circle cx="546.9" cy="30.6" r="2.15"/>
<circle cx="469.5" cy="28.7" r="2.15"/>
<circle cx="440.1" cy="54.9" r="2.15"/>
<circle cx="566.4" cy="22.8" r="2.15"/>
<circle cx="464.9" cy="19.0" r="2.15"/>
<circle cx="470.5" cy="23.6" r="2.15"/>
<circle cx="488.5" cy="38.6" r="2.15"/>
<circle cx="577.3" cy="35.1" r="2.15"/>
<circle cx="559.4" cy="18.9" r="2.15"/>
<circle cx="463.1" cy="74.7" r="2.15"/>
<circle cx="551.2" cy="20.6" r="2.15"/>
<circle cx="657.8" cy="24.6" r="2.15"/>
<circle cx="662.3" cy="19.5" r="2.15"/>
<circle cx="641.6" cy="27.7" r="2.15"/>
<circle cx="553.8" cy="166.0" r="2.15"/>
<circle cx="440.1" cy="142.7" r="2.15"/>
<circle cx="483.9" cy="21.4" r="2.15"/>
<circle cx="440.0" cy="72.4" r="2.15"/>
<circle cx="581.5" cy="83.3" r="2.15"/>
<circle cx="442.0" cy="92.3" r="2.15"/>
<circle cx="586.6" cy="43.7" r="2.15"/>
<circle cx="616.9" cy="35.6" r="2.15"/>
<circle cx="442.8" cy="50.2" r="2.15"/>
<circle cx="505.3" cy="85.8" r="2.15"/>
<circle cx="461.5" cy="63.0" r="2.15"/>
<circle cx="632.6" cy="25.4" r="2.15"/>
<circle cx="554.5" cy="52.0" r="2.15"/>
<circle cx="618.8" cy="27.5" r="2.15"/>
<circle cx="630.9" cy="37.0" r="2.15"/>
<circle cx="511.0" cy="73.0" r="2.15"/>
<circle cx="439.6" cy="24.6" r="2.15"/>
<circle cx="543.0" cy="104.7" r="2.15"/>
<circle cx="483.3" cy="22.2" r="2.15"/>
<circle cx="449.8" cy="129.9" r="2.15"/>
<circle cx="505.0" cy="76.5" r="2.15"/>
<circle cx="641.5" cy="26.6" r="2.15"/>
<circle cx="538.9" cy="24.6" r="2.15"/>
<circle cx="620.4" cy="27.6" r="2.15"/>
<circle cx="577.0" cy="31.9" r="2.15"/>
<circle cx="558.8" cy="20.5" r="2.15"/>
<circle cx="451.6" cy="41.0" r="2.15"/>
<circle cx="445.7" cy="31.3" r="2.15"/>
<circle cx="667.5" cy="32.9" r="2.15"/>
<circle cx="663.2" cy="18.6" r="2.15"/>
<circle cx="472.3" cy="32.7" r="2.15"/>
<circle cx="463.4" cy="32.1" r="2.15"/>
<circle cx="522.3" cy="25.8" r="2.15"/>
<circle cx="479.9" cy="22.4" r="2.15"/>
<circle cx="577.6" cy="22.0" r="2.15"/>
<circle cx="646.3" cy="32.9" r="2.15"/>
<circle cx="599.7" cy="26.0" r="2.15"/>
<circle cx="669.1" cy="37.3" r="2.15"/>
<circle cx="492.0" cy="25.2" r="2.15"/>
<circle cx="566.5" cy="29.9" r="2.15"/>
<circle cx="664.6" cy="24.2" r="2.15"/>
<circle cx="544.4" cy="20.3" r="2.15"/>
<circle cx="489.6" cy="56.0" r="2.15"/>
<circle cx="585.2" cy="22.2" r="2.15"/>
<circle cx="472.6" cy="132.6" r="2.15"/>
<circle cx="607.5" cy="56.6" r="2.15"/>
<circle cx="488.4" cy="29.3" r="2.15"/>
<circle cx="601.6" cy="22.4" r="2.15"/>
<circle cx="577.6" cy="31.9" r="2.15"/>
<circle cx="540.5" cy="46.7" r="2.15"/>
<circle cx="664.3" cy="36.7" r="2.15"/>
<circle cx="579.7" cy="32.4" r="2.15"/>
<circle cx="484.7" cy="102.0" r="2.15"/>
<circle cx="656.9" cy="21.2" r="2.15"/>
<circle cx="662.4" cy="23.8" r="2.15"/>
<circle cx="659.7" cy="46.8" r="2.15"/>
<circle cx="448.1" cy="27.0" r="2.15"/>
<circle cx="563.1" cy="22.2" r="2.15"/>
<circle cx="660.2" cy="31.0" r="2.15"/>
<circle cx="444.3" cy="42.7" r="2.15"/>
<circle cx="466.0" cy="26.4" r="2.15"/>
<circle cx="466.9" cy="31.5" r="2.15"/>
<circle cx="596.8" cy="20.3" r="2.15"/>
<circle cx="496.7" cy="20.2" r="2.15"/>
<circle cx="460.6" cy="39.0" r="2.15"/>
<circle cx="546.1" cy="27.5" r="2.15"/>
<circle cx="488.4" cy="32.4" r="2.15"/>
<circle cx="441.6" cy="27.1" r="2.15"/>
<circle cx="662.1" cy="38.8" r="2.15"/>
<circle cx="610.0" cy="18.4" r="2.15"/>
<circle cx="443.9" cy="84.9" r="2.15"/>
<circle cx="664.3" cy="19.4" r="2.15"/>
<circle cx="666.6" cy="28.1" r="2.15"/>
<circle cx="671.1" cy="34.1" r="2.15"/>
<circle cx="452.8" cy="42.7" r="2.15"/>
<circle cx="554.3" cy="35.6" r="2.15"/>
<circle cx="624.8" cy="33.3" r="2.15"/>
<circle cx="460.2" cy="88.9" r="2.15"/>
<circle cx="554.7" cy="70.9" r="2.15"/>
<circle cx="503.3" cy="43.8" r="2.15"/>
<circle cx="623.0" cy="30.5" r="2.15"/>
<circle cx="614.7" cy="22.9" r="2.15"/>
<circle cx="443.3" cy="21.6" r="2.15"/>
<circle cx="496.2" cy="19.3" r="2.15"/>
<circle cx="543.5" cy="19.4" r="2.15"/>
<circle cx="471.5" cy="40.1" r="2.15"/>
<circle cx="477.9" cy="24.0" r="2.15"/>
<circle cx="645.7" cy="19.2" r="2.15"/>
<circle cx="564.3" cy="52.4" r="2.15"/>
<circle cx="569.8" cy="21.9" r="2.15"/>
<circle cx="458.1" cy="37.2" r="2.15"/>
<circle cx="495.1" cy="19.7" r="2.15"/>
<circle cx="498.7" cy="22.2" r="2.15"/>
<circle cx="486.4" cy="32.2" r="2.15"/>
<circle cx="604.6" cy="29.8" r="2.15"/>
<circle cx="454.8" cy="60.4" r="2.15"/>
<circle cx="609.4" cy="40.4" r="2.15"/>
<circle cx="544.7" cy="41.2" r="2.15"/>
<circle cx="454.0" cy="111.4" r="2.15"/>
<circle cx="559.3" cy="29.3" r="2.15"/>
<circle cx="517.6" cy="27.7" r="2.15"/>
<circle cx="528.9" cy="31.0" r="2.15"/>
<circle cx="465.0" cy="21.8" r="2.15"/>
<circle cx="538.4" cy="41.2" r="2.15"/>
<circle cx="573.9" cy="28.0" r="2.15"/>
<circle cx="474.8" cy="65.9" r="2.15"/>
<circle cx="451.9" cy="21.2" r="2.15"/>
<circle cx="593.5" cy="31.2" r="2.15"/>
<circle cx="669.0" cy="33.4" r="2.15"/>
<circle cx="502.1" cy="26.3" r="2.15"/>
<circle cx="468.1" cy="45.6" r="2.15"/>
<circle cx="540.3" cy="33.7" r="2.15"/>
<circle cx="446.9" cy="42.4" r="2.15"/>
<circle cx="450.9" cy="43.9" r="2.15"/>
<circle cx="617.5" cy="18.7" r="2.15"/>
<circle cx="450.5" cy="20.7" r="2.15"/>
<circle cx="442.9" cy="139.8" r="2.15"/>
<circle cx="519.3" cy="55.0" r="2.15"/>
<circle cx="563.6" cy="19.0" r="2.15"/>
<circle cx="570.5" cy="26.7" r="2.15"/>
<circle cx="654.3" cy="34.6" r="2.15"/>
<circle cx="463.2" cy="38.6" r="2.15"/>
<circle cx="654.1" cy="36.4" r="2.15"/>
<circle cx="460.1" cy="159.5" r="2.15"/>
<circle cx="447.5" cy="50.5" r="2.15"/>
<circle cx="519.2" cy="90.3" r="2.15"/>
<circle cx="442.0" cy="76.8" r="2.15"/>
<circle cx="482.5" cy="52.1" r="2.15"/>
<circle cx="554.7" cy="25.6" r="2.15"/>
<circle cx="445.2" cy="26.8" r="2.15"/>
<circle cx="668.1" cy="26.4" r="2.15"/>
<circle cx="555.0" cy="28.6" r="2.15"/>
<circle cx="529.8" cy="24.3" r="2.15"/>
<circle cx="479.8" cy="141.3" r="2.15"/>
<circle cx="503.3" cy="27.3" r="2.15"/>
<circle cx="596.1" cy="30.0" r="2.15"/>
<circle cx="522.0" cy="32.6" r="2.15"/>
<circle cx="454.1" cy="129.8" r="2.15"/>
<circle cx="555.6" cy="31.8" r="2.15"/>
<circle cx="494.9" cy="61.3" r="2.15"/>
<circle cx="577.9" cy="38.8" r="2.15"/>
<circle cx="461.7" cy="50.6" r="2.15"/>
<circle cx="450.7" cy="57.5" r="2.15"/>
<circle cx="639.9" cy="23.5" r="2.15"/>
<circle cx="457.6" cy="19.4" r="2.15"/>
<circle cx="663.8" cy="29.5" r="2.15"/>
<circle cx="449.5" cy="113.8" r="2.15"/>
<circle cx="486.7" cy="33.9" r="2.15"/>
<circle cx="513.1" cy="22.7" r="2.15"/>
<circle cx="626.7" cy="28.1" r="2.15"/>
<circle cx="517.4" cy="98.5" r="2.15"/>
<circle cx="464.9" cy="22.6" r="2.15"/>
<circle cx="484.2" cy="124.0" r="2.15"/>
<circle cx="498.3" cy="102.9" r="2.15"/>
<circle cx="662.9" cy="40.1" r="2.15"/>
<circle cx="504.8" cy="25.6" r="2.15"/>
<circle cx="439.5" cy="99.7" r="2.15"/>
<circle cx="569.5" cy="22.7" r="2.15"/>
<circle cx="551.9" cy="23.0" r="2.15"/>
<circle cx="543.4" cy="141.2" r="2.15"/>
<circle cx="642.1" cy="24.6" r="2.15"/>
<circle cx="586.7" cy="48.8" r="2.15"/>
<circle cx="449.6" cy="71.2" r="2.15"/>
<circle cx="449.0" cy="129.4" r="2.15"/>
<circle cx="576.8" cy="84.4" r="2.15"/>
<circle cx="586.9" cy="43.0" r="2.15"/>
<circle cx="567.1" cy="29.4" r="2.15"/>
<circle cx="622.9" cy="18.5" r="2.15"/>
<circle cx="511.0" cy="23.6" r="2.15"/>
<circle cx="503.7" cy="32.2" r="2.15"/>
<circle cx="647.6" cy="28.4" r="2.15"/>
<circle cx="540.8" cy="27.7" r="2.15"/>
<circle cx="603.3" cy="23.0" r="2.15"/>
<circle cx="535.8" cy="23.4" r="2.15"/>
<circle cx="517.0" cy="36.5" r="2.15"/>
<circle cx="452.3" cy="85.2" r="2.15"/>
<circle cx="627.5" cy="25.0" r="2.15"/>
<circle cx="496.4" cy="26.5" r="2.15"/>
<circle cx="502.7" cy="20.9" r="2.15"/>
<circle cx="450.1" cy="57.6" r="2.15"/>
<circle cx="601.8" cy="32.1" r="2.15"/>
<circle cx="523.3" cy="21.5" r="2.15"/>
<circle cx="471.9" cy="23.4" r="2.15"/>
<circle cx="506.2" cy="26.3" r="2.15"/>
<circle cx="484.0" cy="31.7" r="2.15"/>
<circle cx="468.8" cy="29.1" r="2.15"/>
<circle cx="563.2" cy="31.4" r="2.15"/>
<circle cx="441.4" cy="80.0" r="2.15"/>
<circle cx="634.4" cy="23.1" r="2.15"/>
<circle cx="514.7" cy="142.9" r="2.15"/>
<circle cx="584.9" cy="98.0" r="2.15"/>
<circle cx="467.6" cy="119.2" r="2.15"/>
<circle cx="671.0" cy="21.4" r="2.15"/>
<circle cx="564.5" cy="19.2" r="2.15"/>
<circle cx="664.7" cy="47.5" r="2.15"/>
<circle cx="439.2" cy="110.7" r="2.15"/>
<circle cx="444.8" cy="33.9" r="2.15"/>
<circle cx="442.0" cy="32.9" r="2.15"/>
<circle cx="485.9" cy="17.8" r="2.15"/>
<circle cx="453.2" cy="44.8" r="2.15"/>
<circle cx="452.1" cy="110.3" r="2.15"/>
<circle cx="441.8" cy="29.6" r="2.15"/>
<circle cx="642.4" cy="18.9" r="2.15"/>
<circle cx="485.4" cy="106.9" r="2.15"/>
<circle cx="664.5" cy="85.8" r="2.15"/>
<circle cx="664.2" cy="28.6" r="2.15"/>
<circle cx="570.6" cy="27.9" r="2.15"/>
<circle cx="545.6" cy="18.4" r="2.15"/>
<circle cx="506.5" cy="18.8" r="2.15"/>
<circle cx="439.7" cy="140.1" r="2.15"/>
<circle cx="664.5" cy="33.2" r="2.15"/>
<circle cx="496.3" cy="20.4" r="2.15"/>
<circle cx="654.4" cy="18.2" r="2.15"/>
<circle cx="500.1" cy="133.8" r="2.15"/>
<circle cx="565.6" cy="61.1" r="2.15"/>
<circle cx="457.9" cy="126.2" r="2.15"/>
<circle cx="442.4" cy="19.9" r="2.15"/>
<circle cx="472.8" cy="50.5" r="2.15"/>
<circle cx="475.0" cy="23.0" r="2.15"/>
<circle cx="636.8" cy="30.1" r="2.15"/>
<circle cx="665.8" cy="40.4" r="2.15"/>
<circle cx="495.5" cy="24.6" r="2.15"/>
<circle cx="644.7" cy="31.5" r="2.15"/>
<circle cx="489.2" cy="21.9" r="2.15"/>
<circle cx="664.0" cy="36.3" r="2.15"/>
<circle cx="611.7" cy="19.4" r="2.15"/>
<circle cx="567.4" cy="26.9" r="2.15"/>
<circle cx="639.1" cy="73.9" r="2.15"/>
<circle cx="558.2" cy="54.7" r="2.15"/>
<circle cx="514.4" cy="20.5" r="2.15"/>
<circle cx="467.1" cy="35.6" r="2.15"/>
<circle cx="608.9" cy="40.9" r="2.15"/>
<circle cx="604.0" cy="37.5" r="2.15"/>
<circle cx="545.0" cy="43.3" r="2.15"/>
<circle cx="452.3" cy="20.7" r="2.15"/>
<circle cx="526.1" cy="27.2" r="2.15"/>
<circle cx="559.9" cy="21.1" r="2.15"/>
<circle cx="441.3" cy="121.3" r="2.15"/>
<circle cx="448.8" cy="20.5" r="2.15"/>
<circle cx="441.7" cy="29.3" r="2.15"/>
<circle cx="669.0" cy="32.9" r="2.15"/>
<circle cx="516.0" cy="44.0" r="2.15"/>
<circle cx="524.9" cy="88.3" r="2.15"/>
<circle cx="645.8" cy="31.2" r="2.15"/>
<circle cx="464.6" cy="122.8" r="2.15"/>
<circle cx="563.7" cy="150.1" r="2.15"/>
<circle cx="582.2" cy="89.9" r="2.15"/>
<circle cx="476.9" cy="28.2" r="2.15"/>
<circle cx="640.8" cy="25.6" r="2.15"/>
<circle cx="660.9" cy="24.8" r="2.15"/>
<circle cx="468.1" cy="27.3" r="2.15"/>
<circle cx="638.7" cy="30.2" r="2.15"/>
<circle cx="617.7" cy="27.6" r="2.15"/>
<circle cx="668.5" cy="20.4" r="2.15"/>
<circle cx="617.2" cy="50.8" r="2.15"/>
<circle cx="495.6" cy="42.7" r="2.15"/>
<circle cx="530.6" cy="54.5" r="2.15"/>
<circle cx="562.4" cy="21.9" r="2.15"/>
<circle cx="622.5" cy="27.5" r="2.15"/>
<circle cx="546.4" cy="19.9" r="2.15"/>
<circle cx="505.1" cy="155.2" r="2.15"/>
<circle cx="446.5" cy="94.5" r="2.15"/>
<circle cx="518.5" cy="19.9" r="2.15"/>
<circle cx="484.2" cy="22.3" r="2.15"/>
<circle cx="657.1" cy="26.2" r="2.15"/>
<circle cx="452.5" cy="104.7" r="2.15"/>
<circle cx="640.6" cy="27.3" r="2.15"/>
<circle cx="444.8" cy="32.3" r="2.15"/>
<circle cx="462.4" cy="154.3" r="2.15"/>
<circle cx="566.3" cy="41.4" r="2.15"/>
<circle cx="453.9" cy="31.8" r="2.15"/>
<circle cx="615.9" cy="80.5" r="2.15"/>
<circle cx="671.4" cy="21.6" r="2.15"/>
<circle cx="535.2" cy="34.6" r="2.15"/>
<circle cx="569.5" cy="25.3" r="2.15"/>
<circle cx="489.7" cy="28.7" r="2.15"/>
<circle cx="494.7" cy="128.3" r="2.15"/>
<circle cx="597.2" cy="38.5" r="2.15"/>
<circle cx="451.9" cy="27.6" r="2.15"/>
<circle cx="531.8" cy="29.7" r="2.15"/>
<circle cx="655.1" cy="22.3" r="2.15"/>
<circle cx="443.6" cy="115.6" r="2.15"/>
<circle cx="440.1" cy="167.1" r="2.15"/>
<circle cx="665.0" cy="32.0" r="2.15"/>
<circle cx="563.6" cy="21.3" r="2.15"/>
<circle cx="540.3" cy="20.9" r="2.15"/>
<circle cx="456.2" cy="25.2" r="2.15"/>
<circle cx="448.3" cy="27.0" r="2.15"/>
<circle cx="608.7" cy="33.6" r="2.15"/>
<circle cx="496.6" cy="75.9" r="2.15"/>
<circle cx="470.2" cy="48.5" r="2.15"/>
<circle cx="656.7" cy="27.6" r="2.15"/>
<circle cx="586.9" cy="25.9" r="2.15"/>
<circle cx="581.4" cy="27.9" r="2.15"/>
<circle cx="616.1" cy="145.4" r="2.15"/>
<circle cx="667.5" cy="27.2" r="2.15"/>
<circle cx="491.5" cy="19.2" r="2.15"/>
<circle cx="654.6" cy="29.5" r="2.15"/>
<circle cx="448.5" cy="118.5" r="2.15"/>
<circle cx="539.4" cy="26.9" r="2.15"/>
<circle cx="569.5" cy="26.3" r="2.15"/>
<circle cx="525.8" cy="52.4" r="2.15"/>
<circle cx="577.7" cy="21.8" r="2.15"/>
<circle cx="459.5" cy="24.1" r="2.15"/>
<circle cx="515.9" cy="20.6" r="2.15"/>
<circle cx="656.5" cy="22.8" r="2.15"/>
<circle cx="592.3" cy="18.8" r="2.15"/>
<circle cx="612.5" cy="29.7" r="2.15"/>
<circle cx="539.9" cy="19.2" r="2.15"/>
<circle cx="555.2" cy="136.9" r="2.15"/>
<circle cx="667.8" cy="36.7" r="2.15"/>
<circle cx="518.9" cy="19.0" r="2.15"/>
<circle cx="468.3" cy="112.9" r="2.15"/>
<circle cx="441.5" cy="97.0" r="2.15"/>
<circle cx="665.6" cy="40.2" r="2.15"/>
<circle cx="669.0" cy="28.6" r="2.15"/>
<circle cx="474.5" cy="55.3" r="2.15"/>
<circle cx="480.9" cy="143.1" r="2.15"/>
<circle cx="518.9" cy="134.8" r="2.15"/>
<circle cx="584.5" cy="29.9" r="2.15"/>
<circle cx="528.1" cy="22.3" r="2.15"/>
<circle cx="620.6" cy="34.9" r="2.15"/>
<circle cx="597.3" cy="39.5" r="2.15"/>
<circle cx="598.2" cy="22.4" r="2.15"/>
<circle cx="544.9" cy="105.6" r="2.15"/>
<circle cx="440.8" cy="132.6" r="2.15"/>
<circle cx="496.5" cy="23.9" r="2.15"/>
<circle cx="483.9" cy="20.4" r="2.15"/>
<circle cx="473.0" cy="23.5" r="2.15"/>
<circle cx="494.8" cy="132.2" r="2.15"/>
<circle cx="672.1" cy="22.0" r="2.15"/>
<circle cx="496.9" cy="49.1" r="2.15"/>
<circle cx="501.8" cy="46.2" r="2.15"/>
<circle cx="461.0" cy="22.3" r="2.15"/>
<circle cx="666.5" cy="27.1" r="2.15"/>
<circle cx="667.0" cy="40.1" r="2.15"/>
<circle cx="442.7" cy="40.8" r="2.15"/>
<circle cx="669.0" cy="34.3" r="2.15"/>
<circle cx="618.2" cy="18.1" r="2.15"/>
<circle cx="667.7" cy="24.1" r="2.15"/>
<circle cx="476.6" cy="31.0" r="2.15"/>
<circle cx="450.7" cy="52.1" r="2.15"/>
<circle cx="542.7" cy="19.2" r="2.15"/>
<circle cx="548.0" cy="49.2" r="2.15"/>
<circle cx="510.7" cy="41.5" r="2.15"/>
<circle cx="666.4" cy="30.2" r="2.15"/>
<circle cx="650.3" cy="22.3" r="2.15"/>
<circle cx="439.4" cy="173.1" r="2.15"/>
<circle cx="444.8" cy="138.3" r="2.15"/>
<circle cx="503.3" cy="35.8" r="2.15"/>
<circle cx="471.7" cy="123.7" r="2.15"/>
<circle cx="455.9" cy="30.5" r="2.15"/>
<circle cx="635.3" cy="97.5" r="2.15"/>
<circle cx="543.1" cy="24.6" r="2.15"/>
<circle cx="539.5" cy="28.6" r="2.15"/>
<circle cx="504.1" cy="23.0" r="2.15"/>
<circle cx="502.5" cy="32.0" r="2.15"/>
<circle cx="560.9" cy="95.7" r="2.15"/>
<circle cx="538.8" cy="63.8" r="2.15"/>
<circle cx="455.0" cy="35.4" r="2.15"/>
<circle cx="670.3" cy="18.3" r="2.15"/>
<circle cx="606.7" cy="49.1" r="2.15"/>
<circle cx="481.0" cy="26.1" r="2.15"/>
<circle cx="474.3" cy="26.5" r="2.15"/>
<circle cx="614.4" cy="57.9" r="2.15"/>
<circle cx="445.8" cy="27.6" r="2.15"/>
<circle cx="670.6" cy="37.5" r="2.15"/>
<circle cx="669.1" cy="38.6" r="2.15"/>
<circle cx="589.5" cy="43.5" r="2.15"/>
<circle cx="645.1" cy="18.7" r="2.15"/>
<circle cx="459.1" cy="126.1" r="2.15"/>
<circle cx="593.0" cy="22.5" r="2.15"/>
<circle cx="511.5" cy="24.2" r="2.15"/>
<circle cx="472.8" cy="24.0" r="2.15"/>
<circle cx="627.1" cy="76.6" r="2.15"/>
<circle cx="551.7" cy="19.9" r="2.15"/>
<circle cx="668.6" cy="30.7" r="2.15"/>
<circle cx="443.9" cy="42.5" r="2.15"/>
<circle cx="528.5" cy="19.8" r="2.15"/>
<circle cx="593.6" cy="30.1" r="2.15"/>
<circle cx="648.9" cy="18.5" r="2.15"/>
<circle cx="441.5" cy="37.6" r="2.15"/>
<circle cx="565.6" cy="22.6" r="2.15"/>
<circle cx="669.8" cy="23.9" r="2.15"/>
<circle cx="642.0" cy="36.9" r="2.15"/>
<circle cx="439.5" cy="142.4" r="2.15"/>
<circle cx="442.0" cy="76.7" r="2.15"/>
<circle cx="578.4" cy="35.0" r="2.15"/>
<circle cx="664.7" cy="20.6" r="2.15"/>
<circle cx="512.4" cy="122.6" r="2.15"/>
<circle cx="658.1" cy="34.7" r="2.15"/>
<circle cx="552.8" cy="50.7" r="2.15"/>
<circle cx="540.7" cy="35.7" r="2.15"/>
<circle cx="440.7" cy="19.5" r="2.15"/>
<circle cx="481.9" cy="53.3" r="2.15"/>
<circle cx="573.3" cy="22.1" r="2.15"/>
<circle cx="660.6" cy="27.0" r="2.15"/>
<circle cx="610.7" cy="25.9" r="2.15"/>
<circle cx="497.8" cy="29.3" r="2.15"/>
<circle cx="485.3" cy="24.5" r="2.15"/>
<circle cx="472.1" cy="57.7" r="2.15"/>
<circle cx="490.7" cy="22.6" r="2.15"/>
<circle cx="665.6" cy="29.3" r="2.15"/>
<circle cx="520.3" cy="61.2" r="2.15"/>
<circle cx="663.4" cy="34.0" r="2.15"/>
<circle cx="461.5" cy="139.7" r="2.15"/>
<circle cx="469.6" cy="143.9" r="2.15"/>
<circle cx="450.6" cy="141.8" r="2.15"/>
<circle cx="563.2" cy="40.6" r="2.15"/>
<circle cx="519.8" cy="23.5" r="2.15"/>
<circle cx="469.7" cy="47.5" r="2.15"/>
<circle cx="450.4" cy="39.0" r="2.15"/>
<circle cx="658.1" cy="33.7" r="2.15"/>
<circle cx="502.8" cy="29.0" r="2.15"/>
<circle cx="664.1" cy="40.4" r="2.15"/>
<circle cx="585.6" cy="27.1" r="2.15"/>
<circle cx="595.2" cy="41.3" r="2.15"/>
<circle cx="473.0" cy="18.7" r="2.15"/>
<circle cx="635.6" cy="23.2" r="2.15"/>
<circle cx="606.1" cy="24.1" r="2.15"/>
<circle cx="557.7" cy="22.2" r="2.15"/>
<circle cx="439.0" cy="119.9" r="2.15"/>
<circle cx="439.3" cy="37.3" r="2.15"/>
<circle cx="467.5" cy="18.0" r="2.15"/>
<circle cx="459.7" cy="31.8" r="2.15"/>
<circle cx="509.2" cy="35.7" r="2.15"/>
<circle cx="476.8" cy="46.1" r="2.15"/>
<circle cx="465.9" cy="160.8" r="2.15"/>
<circle cx="518.3" cy="20.9" r="2.15"/>
<circle cx="444.9" cy="82.6" r="2.15"/>
<circle cx="529.3" cy="31.7" r="2.15"/>
<circle cx="474.4" cy="53.1" r="2.15"/>
<circle cx="443.3" cy="27.1" r="2.15"/>
<circle cx="533.0" cy="20.4" r="2.15"/>
<circle cx="660.6" cy="32.5" r="2.15"/>
<circle cx="493.0" cy="43.9" r="2.15"/>
<circle cx="444.5" cy="18.5" r="2.15"/>
<circle cx="484.9" cy="18.2" r="2.15"/>
<circle cx="465.5" cy="43.5" r="2.15"/>
<circle cx="645.8" cy="29.0" r="2.15"/>
<circle cx="612.9" cy="22.2" r="2.15"/>
<circle cx="460.1" cy="20.2" r="2.15"/>
<circle cx="634.9" cy="26.1" r="2.15"/>
<circle cx="622.4" cy="23.3" r="2.15"/>
<circle cx="541.5" cy="29.6" r="2.15"/>
<circle cx="451.4" cy="105.9" r="2.15"/>
<circle cx="446.8" cy="130.2" r="2.15"/>
<circle cx="497.4" cy="20.6" r="2.15"/>
<circle cx="522.5" cy="26.7" r="2.15"/>
<circle cx="661.5" cy="31.0" r="2.15"/>
<circle cx="517.8" cy="38.6" r="2.15"/>
<circle cx="458.6" cy="67.0" r="2.15"/>
<circle cx="480.0" cy="31.6" r="2.15"/>
<circle cx="495.7" cy="141.4" r="2.15"/>
<circle cx="566.1" cy="30.0" r="2.15"/>
<circle cx="445.8" cy="71.8" r="2.15"/>
<circle cx="449.0" cy="140.2" r="2.15"/>
<circle cx="587.5" cy="20.5" r="2.15"/>
<circle cx="467.5" cy="55.0" r="2.15"/>
<circle cx="597.5" cy="51.9" r="2.15"/>
<circle cx="482.7" cy="128.6" r="2.15"/>
<circle cx="647.0" cy="18.5" r="2.15"/>
<circle cx="517.4" cy="18.6" r="2.15"/>
<circle cx="588.3" cy="21.8" r="2.15"/>
<circle cx="462.5" cy="78.5" r="2.15"/>
<circle cx="669.3" cy="28.3" r="2.15"/>
<circle cx="448.8" cy="32.6" r="2.15"/>
<circle cx="667.5" cy="24.0" r="2.15"/>
<circle cx="500.3" cy="22.3" r="2.15"/>
<circle cx="607.9" cy="34.1" r="2.15"/>
<circle cx="668.9" cy="19.0" r="2.15"/>
<circle cx="628.0" cy="25.7" r="2.15"/>
<circle cx="494.2" cy="28.5" r="2.15"/>
<circle cx="555.7" cy="29.3" r="2.15"/>
<circle cx="523.3" cy="28.7" r="2.15"/>
<circle cx="656.6" cy="42.8" r="2.15"/>
<circle cx="459.0" cy="24.0" r="2.15"/>
<circle cx="466.9" cy="150.7" r="2.15"/>
<circle cx="463.0" cy="130.5" r="2.15"/>
<circle cx="442.3" cy="24.1" r="2.15"/>
<circle cx="666.4" cy="27.3" r="2.15"/>
<circle cx="668.2" cy="22.3" r="2.15"/>
<circle cx="545.5" cy="26.2" r="2.15"/>
<circle cx="439.3" cy="90.7" r="2.15"/>
<circle cx="671.2" cy="36.6" r="2.15"/>
<circle cx="525.5" cy="24.6" r="2.15"/>
<circle cx="455.4" cy="29.6" r="2.15"/>
<circle cx="614.5" cy="32.8" r="2.15"/>
<circle cx="557.0" cy="23.9" r="2.15"/>
<circle cx="610.4" cy="21.7" r="2.15"/>
<circle cx="518.8" cy="37.1" r="2.15"/>
<circle cx="553.5" cy="23.9" r="2.15"/>
<circle cx="617.8" cy="26.1" r="2.15"/>
<circle cx="565.4" cy="23.0" r="2.15"/>
<circle cx="615.8" cy="129.5" r="2.15"/>
<circle cx="539.2" cy="28.5" r="2.15"/>
<circle cx="481.3" cy="25.9" r="2.15"/>
<circle cx="490.7" cy="32.7" r="2.15"/>
<circle cx="446.1" cy="31.2" r="2.15"/>
<circle cx="460.1" cy="28.2" r="2.15"/>
<circle cx="603.1" cy="21.2" r="2.15"/>
<circle cx="458.2" cy="22.2" r="2.15"/>
<circle cx="452.2" cy="92.9" r="2.15"/>
<circle cx="537.4" cy="21.7" r="2.15"/>
<circle cx="604.7" cy="39.8" r="2.15"/>
<circle cx="646.0" cy="19.6" r="2.15"/>
<circle cx="592.3" cy="26.4" r="2.15"/>
<circle cx="578.6" cy="23.9" r="2.15"/>
<circle cx="483.6" cy="30.4" r="2.15"/>
<circle cx="616.4" cy="25.6" r="2.15"/>
<circle cx="645.1" cy="24.6" r="2.15"/>
<circle cx="450.4" cy="57.0" r="2.15"/>
<circle cx="481.4" cy="38.1" r="2.15"/>
<circle cx="503.5" cy="164.3" r="2.15"/>
<circle cx="513.6" cy="26.4" r="2.15"/>
<circle cx="459.3" cy="78.7" r="2.15"/>
<circle cx="671.1" cy="21.1" r="2.15"/>
<circle cx="613.2" cy="27.3" r="2.15"/>
<circle cx="493.4" cy="33.1" r="2.15"/>
<circle cx="452.7" cy="106.5" r="2.15"/>
<circle cx="464.3" cy="29.2" r="2.15"/>
<circle cx="452.8" cy="94.8" r="2.15"/>
<circle cx="497.6" cy="74.6" r="2.15"/>
<circle cx="535.7" cy="23.6" r="2.15"/>
<circle cx="596.9" cy="26.4" r="2.15"/>
<circle cx="637.8" cy="33.9" r="2.15"/>
<circle cx="447.8" cy="82.4" r="2.15"/>
<circle cx="494.0" cy="29.8" r="2.15"/>
<circle cx="542.2" cy="28.5" r="2.15"/>
<circle cx="662.1" cy="30.0" r="2.15"/>
<circle cx="500.8" cy="19.6" r="2.15"/>
<circle cx="463.5" cy="82.9" r="2.15"/>
<circle cx="512.5" cy="37.0" r="2.15"/>
<circle cx="664.6" cy="30.1" r="2.15"/>
<circle cx="508.5" cy="32.5" r="2.15"/>
<circle cx="479.1" cy="162.7" r="2.15"/>
<circle cx="439.4" cy="113.4" r="2.15"/>
<circle cx="603.0" cy="19.8" r="2.15"/>
<circle cx="508.2" cy="19.7" r="2.15"/>
<circle cx="572.9" cy="54.0" r="2.15"/>
<circle cx="661.7" cy="19.5" r="2.15"/>
<circle cx="571.3" cy="34.7" r="2.15"/>
<circle cx="448.1" cy="102.2" r="2.15"/>
<circle cx="666.9" cy="34.0" r="2.15"/>
<circle cx="668.2" cy="36.0" r="2.15"/>
<circle cx="560.9" cy="36.3" r="2.15"/>
<circle cx="546.0" cy="29.6" r="2.15"/>
<circle cx="493.7" cy="34.9" r="2.15"/>
<circle cx="465.4" cy="37.7" r="2.15"/>
<circle cx="518.9" cy="74.4" r="2.15"/>
<circle cx="486.7" cy="20.6" r="2.15"/>
<circle cx="623.6" cy="23.5" r="2.15"/>
<circle cx="477.7" cy="24.1" r="2.15"/>
<circle cx="456.4" cy="20.1" r="2.15"/>
<circle cx="641.9" cy="37.9" r="2.15"/>
<circle cx="474.4" cy="19.6" r="2.15"/>
<circle cx="548.0" cy="60.3" r="2.15"/>
<circle cx="603.6" cy="55.8" r="2.15"/>
<circle cx="471.9" cy="29.6" r="2.15"/>
<circle cx="662.4" cy="46.2" r="2.15"/>
<circle cx="667.6" cy="37.7" r="2.15"/>
<circle cx="604.0" cy="24.0" r="2.15"/>
<circle cx="575.6" cy="21.8" r="2.15"/>
<circle cx="642.6" cy="27.1" r="2.15"/>
<circle cx="521.6" cy="30.4" r="2.15"/>
<circle cx="550.7" cy="23.9" r="2.15"/>
<circle cx="653.8" cy="21.6" r="2.15"/>
<circle cx="506.2" cy="22.1" r="2.15"/>
<circle cx="545.2" cy="19.1" r="2.15"/>
<circle cx="467.2" cy="104.4" r="2.15"/>
<circle cx="640.7" cy="26.9" r="2.15"/>
<circle cx="472.4" cy="19.4" r="2.15"/>
<circle cx="443.4" cy="37.1" r="2.15"/>
<circle cx="567.1" cy="36.2" r="2.15"/>
<circle cx="504.8" cy="87.3" r="2.15"/>
<circle cx="489.3" cy="24.3" r="2.15"/>
<circle cx="470.4" cy="18.9" r="2.15"/>
<circle cx="456.5" cy="24.1" r="2.15"/>
<circle cx="544.9" cy="18.4" r="2.15"/>
<circle cx="445.2" cy="158.4" r="2.15"/>
<circle cx="491.5" cy="41.5" r="2.15"/>
<circle cx="473.1" cy="23.8" r="2.15"/>
<circle cx="540.2" cy="39.2" r="2.15"/>
<circle cx="671.0" cy="45.3" r="2.15"/>
<circle cx="500.5" cy="117.6" r="2.15"/>
<circle cx="625.8" cy="30.4" r="2.15"/>
<circle cx="552.8" cy="19.2" r="2.15"/>
<circle cx="518.2" cy="30.3" r="2.15"/>
<circle cx="514.8" cy="22.5" r="2.15"/>
<circle cx="504.2" cy="20.9" r="2.15"/>
<circle cx="446.8" cy="88.0" r="2.15"/>
<circle cx="448.3" cy="32.8" r="2.15"/>
<circle cx="549.4" cy="59.4" r="2.15"/>
<circle cx="473.8" cy="25.5" r="2.15"/>
<circle cx="559.2" cy="35.3" r="2.15"/>
<circle cx="467.4" cy="155.1" r="2.15"/>
<circle cx="558.1" cy="19.5" r="2.15"/>
<circle cx="655.6" cy="73.4" r="2.15"/>
<circle cx="659.7" cy="31.4" r="2.15"/>
<circle cx="548.3" cy="22.9" r="2.15"/>
<circle cx="463.7" cy="43.2" r="2.15"/>
<circle cx="460.1" cy="70.5" r="2.15"/>
<circle cx="574.4" cy="34.3" r="2.15"/>
<circle cx="668.1" cy="28.3" r="2.15"/>
<circle cx="474.2" cy="18.9" r="2.15"/>
<circle cx="598.5" cy="41.7" r="2.15"/>
<circle cx="641.1" cy="27.0" r="2.15"/>
<circle cx="537.7" cy="44.9" r="2.15"/>
<circle cx="645.1" cy="23.4" r="2.15"/>
<circle cx="610.4" cy="81.6" r="2.15"/>
<circle cx="506.8" cy="29.9" r="2.15"/>
<circle cx="456.1" cy="30.6" r="2.15"/>
<circle cx="504.6" cy="59.6" r="2.15"/>
<circle cx="554.7" cy="32.3" r="2.15"/>
<circle cx="644.7" cy="21.3" r="2.15"/>
<circle cx="489.5" cy="41.1" r="2.15"/>
<circle cx="476.8" cy="28.6" r="2.15"/>
<circle cx="658.1" cy="22.2" r="2.15"/>
<circle cx="651.0" cy="23.4" r="2.15"/>
<circle cx="439.6" cy="151.7" r="2.15"/>
<circle cx="447.3" cy="99.4" r="2.15"/>
<circle cx="502.9" cy="61.1" r="2.15"/>
<circle cx="603.8" cy="18.8" r="2.15"/>
<circle cx="580.9" cy="27.9" r="2.15"/>
<circle cx="666.3" cy="18.8" r="2.15"/>
<circle cx="631.7" cy="49.8" r="2.15"/>
<circle cx="452.8" cy="67.3" r="2.15"/>
<circle cx="497.9" cy="18.9" r="2.15"/>
<circle cx="520.9" cy="32.0" r="2.15"/>
<circle cx="495.6" cy="31.8" r="2.15"/>
<circle cx="444.4" cy="40.1" r="2.15"/>
<circle cx="492.4" cy="88.3" r="2.15"/>
<circle cx="666.3" cy="24.5" r="2.15"/>
<circle cx="484.6" cy="54.8" r="2.15"/>
<circle cx="440.6" cy="20.5" r="2.15"/>
<circle cx="488.8" cy="33.5" r="2.15"/>
<circle cx="568.4" cy="51.6" r="2.15"/>
<circle cx="469.2" cy="74.3" r="2.15"/>
<circle cx="657.5" cy="22.6" r="2.15"/>
<circle cx="495.8" cy="34.9" r="2.15"/>
<circle cx="646.9" cy="40.6" r="2.15"/>
<circle cx="490.0" cy="116.6" r="2.15"/>
<circle cx="460.5" cy="43.1" r="2.15"/>
<circle cx="447.1" cy="91.0" r="2.15"/>
<circle cx="616.9" cy="29.5" r="2.15"/>
<circle cx="649.3" cy="25.9" r="2.15"/>
<circle cx="520.3" cy="122.3" r="2.15"/>
<circle cx="569.4" cy="19.9" r="2.15"/>
<circle cx="445.3" cy="153.1" r="2.15"/>
<circle cx="454.7" cy="33.9" r="2.15"/>
<circle cx="669.8" cy="21.4" r="2.15"/>
<circle cx="563.9" cy="25.9" r="2.15"/>
<circle cx="606.9" cy="27.5" r="2.15"/>
<circle cx="577.2" cy="28.1" r="2.15"/>
<circle cx="473.5" cy="36.6" r="2.15"/>
<circle cx="489.0" cy="28.9" r="2.15"/>
<circle cx="643.6" cy="32.2" r="2.15"/>
<circle cx="655.3" cy="22.5" r="2.15"/>
<circle cx="519.9" cy="33.7" r="2.15"/>
<circle cx="494.1" cy="73.1" r="2.15"/>
<circle cx="448.5" cy="162.7" r="2.15"/>
<circle cx="439.4" cy="27.4" r="2.15"/>
<circle cx="465.5" cy="88.2" r="2.15"/>
<circle cx="443.4" cy="18.1" r="2.15"/>
<circle cx="603.4" cy="27.2" r="2.15"/>
<circle cx="580.3" cy="20.1" r="2.15"/>
<circle cx="669.7" cy="33.9" r="2.15"/>
<circle cx="612.2" cy="27.4" r="2.15"/>
<circle cx="440.6" cy="110.0" r="2.15"/>
<circle cx="601.1" cy="26.3" r="2.15"/>
<circle cx="495.0" cy="123.4" r="2.15"/>
<circle cx="535.2" cy="29.1" r="2.15"/>
<circle cx="554.4" cy="20.4" r="2.15"/>
<circle cx="458.1" cy="63.8" r="2.15"/>
<circle cx="441.2" cy="118.1" r="2.15"/>
<circle cx="655.1" cy="23.7" r="2.15"/>
<circle cx="474.1" cy="34.4" r="2.15"/>
<circle cx="465.3" cy="120.1" r="2.15"/>
<circle cx="441.1" cy="40.1" r="2.15"/>
<circle cx="447.0" cy="113.5" r="2.15"/>
<circle cx="445.6" cy="73.6" r="2.15"/>
<circle cx="447.3" cy="41.7" r="2.15"/>
<circle cx="453.7" cy="64.7" r="2.15"/>
<circle cx="556.4" cy="24.0" r="2.15"/>
<circle cx="503.2" cy="79.0" r="2.15"/>
<circle cx="559.9" cy="22.7" r="2.15"/>
<circle cx="556.5" cy="24.2" r="2.15"/>
<circle cx="545.8" cy="26.7" r="2.15"/>
<circle cx="440.9" cy="127.2" r="2.15"/>
<circle cx="548.4" cy="47.9" r="2.15"/>
<circle cx="470.4" cy="123.1" r="2.15"/>
<circle cx="579.9" cy="21.7" r="2.15"/>
<circle cx="469.1" cy="76.3" r="2.15"/>
<circle cx="601.9" cy="28.4" r="2.15"/>
<circle cx="661.2" cy="29.6" r="2.15"/>
<circle cx="614.3" cy="36.2" r="2.15"/>
<circle cx="446.7" cy="132.4" r="2.15"/>
<circle cx="475.6" cy="19.7" r="2.15"/>
<circle cx="591.6" cy="26.0" r="2.15"/>
<circle cx="656.4" cy="23.4" r="2.15"/>
<circle cx="576.4" cy="19.5" r="2.15"/>
<circle cx="535.1" cy="21.3" r="2.15"/>
<circle cx="599.9" cy="23.0" r="2.15"/>
<circle cx="612.6" cy="39.2" r="2.15"/>
<circle cx="670.3" cy="33.1" r="2.15"/>
<circle cx="651.5" cy="22.7" r="2.15"/>
<circle cx="443.3" cy="155.7" r="2.15"/>
<circle cx="556.2" cy="31.3" r="2.15"/>
<circle cx="657.4" cy="44.7" r="2.15"/>
<circle cx="599.8" cy="22.1" r="2.15"/>
<circle cx="467.4" cy="128.3" r="2.15"/>
<circle cx="611.7" cy="23.6" r="2.15"/>
<circle cx="553.4" cy="21.9" r="2.15"/>
<circle cx="594.3" cy="30.9" r="2.15"/>
<circle cx="666.7" cy="22.1" r="2.15"/>
<circle cx="632.9" cy="43.5" r="2.15"/>
<circle cx="457.6" cy="76.2" r="2.15"/>
<circle cx="454.5" cy="145.1" r="2.15"/>
<circle cx="449.9" cy="33.3" r="2.15"/>
<circle cx="606.2" cy="28.1" r="2.15"/>
<circle cx="481.0" cy="59.3" r="2.15"/>
<circle cx="469.7" cy="24.5" r="2.15"/>
<circle cx="529.8" cy="58.3" r="2.15"/>
<circle cx="489.8" cy="39.1" r="2.15"/>
<circle cx="561.8" cy="25.1" r="2.15"/>
<circle cx="450.8" cy="24.8" r="2.15"/>
<circle cx="589.1" cy="29.5" r="2.15"/>
<circle cx="659.3" cy="30.4" r="2.15"/>
<circle cx="595.1" cy="69.4" r="2.15"/>
<circle cx="668.0" cy="31.8" r="2.15"/>
<circle cx="446.1" cy="112.5" r="2.15"/>
<circle cx="467.2" cy="44.9" r="2.15"/>
<circle cx="557.5" cy="30.5" r="2.15"/>
<circle cx="443.6" cy="20.2" r="2.15"/>
<circle cx="663.4" cy="28.5" r="2.15"/>
<circle cx="475.5" cy="117.0" r="2.15"/>
<circle cx="458.0" cy="22.9" r="2.15"/>
<circle cx="568.2" cy="18.6" r="2.15"/>
<circle cx="668.9" cy="38.2" r="2.15"/>
<circle cx="604.4" cy="23.7" r="2.15"/>
<circle cx="439.2" cy="24.2" r="2.15"/>
<circle cx="637.8" cy="34.8" r="2.15"/>
<circle cx="577.8" cy="18.1" r="2.15"/>
<circle cx="637.7" cy="23.0" r="2.15"/>
<circle cx="490.3" cy="31.9" r="2.15"/>
<circle cx="455.5" cy="84.5" r="2.15"/>
<circle cx="628.6" cy="24.7" r="2.15"/>
<circle cx="663.6" cy="26.6" r="2.15"/>
<circle cx="528.1" cy="22.5" r="2.15"/>
<circle cx="505.8" cy="109.3" r="2.15"/>
<circle cx="439.3" cy="24.4" r="2.15"/>
<circle cx="491.9" cy="41.8" r="2.15"/>
<circle cx="467.2" cy="19.5" r="2.15"/>
<circle cx="605.4" cy="25.1" r="2.15"/>
<circle cx="662.8" cy="29.2" r="2.15"/>
<circle cx="469.2" cy="21.6" r="2.15"/>
<circle cx="488.0" cy="18.7" r="2.15"/>
<circle cx="456.4" cy="31.2" r="2.15"/>
<circle cx="451.9" cy="107.4" r="2.15"/>
<circle cx="625.4" cy="41.6" r="2.15"/>
<circle cx="565.9" cy="32.8" r="2.15"/>
<circle cx="648.6" cy="21.8" r="2.15"/>
<circle cx="535.7" cy="24.5" r="2.15"/>
<circle cx="554.8" cy="33.5" r="2.15"/>
<circle cx="662.2" cy="23.9" r="2.15"/>
<circle cx="502.8" cy="37.5" r="2.15"/>
<circle cx="459.5" cy="67.9" r="2.15"/>
<circle cx="489.5" cy="21.0" r="2.15"/>
<circle cx="668.0" cy="32.3" r="2.15"/>
<circle cx="593.0" cy="134.3" r="2.15"/>
<circle cx="447.2" cy="95.9" r="2.15"/>
<circle cx="605.0" cy="20.2" r="2.15"/>
<circle cx="600.5" cy="39.8" r="2.15"/>
<circle cx="526.6" cy="18.2" r="2.15"/>
<circle cx="577.4" cy="22.3" r="2.15"/>
<circle cx="490.3" cy="24.6" r="2.15"/>
<circle cx="611.5" cy="21.5" r="2.15"/>
<circle cx="563.2" cy="27.0" r="2.15"/>
<circle cx="654.5" cy="23.0" r="2.15"/>
<circle cx="642.2" cy="39.7" r="2.15"/>
<circle cx="475.1" cy="31.0" r="2.15"/>
<circle cx="480.0" cy="43.2" r="2.15"/>
<circle cx="479.6" cy="24.8" r="2.15"/>
<circle cx="619.6" cy="28.1" r="2.15"/>
<circle cx="457.0" cy="150.6" r="2.15"/>
<circle cx="622.1" cy="19.1" r="2.15"/>
<circle cx="656.5" cy="18.3" r="2.15"/>
<circle cx="459.6" cy="32.6" r="2.15"/>
<circle cx="468.4" cy="36.0" r="2.15"/>
<circle cx="512.2" cy="113.4" r="2.15"/>
<circle cx="492.9" cy="88.4" r="2.15"/>
<circle cx="662.6" cy="21.3" r="2.15"/>
<circle cx="466.9" cy="23.4" r="2.15"/>
<circle cx="471.0" cy="35.8" r="2.15"/>
<circle cx="439.0" cy="52.1" r="2.15"/>
<circle cx="494.8" cy="34.5" r="2.15"/>
<circle cx="503.2" cy="22.5" r="2.15"/>
<circle cx="457.0" cy="31.1" r="2.15"/>
<circle cx="452.2" cy="52.4" r="2.15"/>
<circle cx="663.1" cy="20.0" r="2.15"/>
<circle cx="474.6" cy="138.6" r="2.15"/>
<circle cx="478.3" cy="144.3" r="2.15"/>
<circle cx="588.0" cy="27.3" r="2.15"/>
<circle cx="667.5" cy="24.2" r="2.15"/>
<circle cx="649.0" cy="18.8" r="2.15"/>
<circle cx="467.5" cy="153.1" r="2.15"/>
<circle cx="523.4" cy="23.3" r="2.15"/>
<circle cx="666.3" cy="27.2" r="2.15"/>
<circle cx="658.3" cy="30.2" r="2.15"/>
<circle cx="662.3" cy="23.1" r="2.15"/>
<circle cx="668.8" cy="25.5" r="2.15"/>
<circle cx="469.5" cy="25.9" r="2.15"/>
<circle cx="457.8" cy="39.6" r="2.15"/>
<circle cx="543.4" cy="18.4" r="2.15"/>
<circle cx="469.0" cy="28.2" r="2.15"/>
<circle cx="543.4" cy="117.2" r="2.15"/>
<circle cx="613.2" cy="25.0" r="2.15"/>
<circle cx="653.7" cy="22.4" r="2.15"/>
<circle cx="451.2" cy="32.0" r="2.15"/>
<circle cx="576.4" cy="19.9" r="2.15"/>
<circle cx="447.7" cy="25.8" r="2.15"/>
<circle cx="665.9" cy="37.1" r="2.15"/>
<circle cx="657.0" cy="31.5" r="2.15"/>
<circle cx="482.4" cy="33.9" r="2.15"/>
<circle cx="516.1" cy="20.8" r="2.15"/>
<circle cx="539.2" cy="26.0" r="2.15"/>
<circle cx="516.7" cy="23.6" r="2.15"/>
<circle cx="464.5" cy="32.7" r="2.15"/>
<circle cx="504.9" cy="24.8" r="2.15"/>
<circle cx="517.0" cy="60.0" r="2.15"/>
<circle cx="548.3" cy="27.0" r="2.15"/>
<circle cx="623.1" cy="49.4" r="2.15"/>
<circle cx="554.6" cy="21.1" r="2.15"/>
<circle cx="444.1" cy="42.0" r="2.15"/>
<circle cx="666.2" cy="35.8" r="2.15"/>
<circle cx="510.4" cy="33.4" r="2.15"/>
<circle cx="668.7" cy="31.7" r="2.15"/>
<circle cx="500.3" cy="124.3" r="2.15"/>
<circle cx="671.2" cy="29.0" r="2.15"/>
<circle cx="439.0" cy="143.7" r="2.15"/>
<circle cx="611.7" cy="26.3" r="2.15"/>
<circle cx="445.2" cy="20.1" r="2.15"/>
<circle cx="481.9" cy="49.5" r="2.15"/>
<circle cx="620.2" cy="20.8" r="2.15"/>
<circle cx="485.4" cy="47.1" r="2.15"/>
<circle cx="475.9" cy="22.8" r="2.15"/>
<circle cx="474.1" cy="32.8" r="2.15"/>
<circle cx="571.4" cy="25.2" r="2.15"/>
<circle cx="652.4" cy="20.8" r="2.15"/>
<circle cx="590.6" cy="41.4" r="2.15"/>
<circle cx="599.8" cy="23.9" r="2.15"/>
<circle cx="458.0" cy="22.3" r="2.15"/>
<circle cx="502.2" cy="36.2" r="2.15"/>
<circle cx="661.1" cy="35.2" r="2.15"/>
<circle cx="505.9" cy="31.7" r="2.15"/>
<circle cx="479.4" cy="97.3" r="2.15"/>
<circle cx="474.2" cy="158.0" r="2.15"/>
<circle cx="576.0" cy="23.9" r="2.15"/>
<circle cx="584.4" cy="115.2" r="2.15"/>
<circle cx="443.1" cy="31.9" r="2.15"/>
<circle cx="514.1" cy="19.5" r="2.15"/>
<circle cx="519.4" cy="48.5" r="2.15"/>
<circle cx="482.9" cy="32.8" r="2.15"/>
<circle cx="486.4" cy="24.9" r="2.15"/>
<circle cx="599.0" cy="20.2" r="2.15"/>
<circle cx="513.7" cy="21.4" r="2.15"/>
<circle cx="479.8" cy="25.4" r="2.15"/>
<circle cx="521.6" cy="33.4" r="2.15"/>
<circle cx="460.4" cy="31.6" r="2.15"/>
<circle cx="572.5" cy="43.4" r="2.15"/>
<circle cx="542.7" cy="20.1" r="2.15"/>
<circle cx="542.0" cy="19.0" r="2.15"/>
<circle cx="600.1" cy="102.5" r="2.15"/>
<circle cx="655.9" cy="25.5" r="2.15"/>
<circle cx="483.0" cy="82.5" r="2.15"/>
<circle cx="578.6" cy="35.6" r="2.15"/>
<circle cx="550.3" cy="26.2" r="2.15"/>
<circle cx="447.2" cy="22.2" r="2.15"/>
<circle cx="547.3" cy="37.8" r="2.15"/>
<circle cx="656.1" cy="25.5" r="2.15"/>
<circle cx="448.6" cy="151.1" r="2.15"/>
<circle cx="516.6" cy="28.1" r="2.15"/>
<circle cx="441.3" cy="21.4" r="2.15"/>
<circle cx="586.5" cy="24.6" r="2.15"/>
<circle cx="639.2" cy="20.4" r="2.15"/>
<circle cx="644.6" cy="68.2" r="2.15"/>
<circle cx="565.9" cy="26.2" r="2.15"/>
<circle cx="550.1" cy="20.2" r="2.15"/>
<circle cx="491.4" cy="38.7" r="2.15"/>
<circle cx="476.4" cy="118.0" r="2.15"/>
<circle cx="480.7" cy="19.3" r="2.15"/>
<circle cx="668.6" cy="19.8" r="2.15"/>
<circle cx="442.4" cy="24.1" r="2.15"/>
<circle cx="452.1" cy="40.7" r="2.15"/>
<circle cx="556.4" cy="95.0" r="2.15"/>
<circle cx="668.5" cy="30.7" r="2.15"/>
<circle cx="465.3" cy="35.3" r="2.15"/>
<circle cx="519.3" cy="21.1" r="2.15"/>
<circle cx="449.3" cy="19.9" r="2.15"/>
<circle cx="459.3" cy="82.0" r="2.15"/>
<circle cx="561.6" cy="29.9" r="2.15"/>
<circle cx="457.8" cy="40.5" r="2.15"/>
<circle cx="504.6" cy="30.3" r="2.15"/>
<circle cx="554.8" cy="143.9" r="2.15"/>
<circle cx="476.9" cy="18.8" r="2.15"/>
<circle cx="524.9" cy="20.0" r="2.15"/>
<circle cx="509.0" cy="47.7" r="2.15"/>
<circle cx="459.5" cy="45.1" r="2.15"/>
<circle cx="652.4" cy="22.4" r="2.15"/>
<circle cx="537.0" cy="20.9" r="2.15"/>
<circle cx="458.0" cy="36.1" r="2.15"/>
<circle cx="466.9" cy="44.7" r="2.15"/>
<circle cx="455.4" cy="32.6" r="2.15"/>
<circle cx="442.6" cy="140.8" r="2.15"/>
<circle cx="481.8" cy="137.7" r="2.15"/>
<circle cx="441.7" cy="34.1" r="2.15"/>
<circle cx="486.0" cy="37.1" r="2.15"/>
<circle cx="615.7" cy="29.0" r="2.15"/>
<circle cx="448.7" cy="127.9" r="2.15"/>
<circle cx="471.5" cy="86.2" r="2.15"/>
<circle cx="502.1" cy="18.2" r="2.15"/>
<circle cx="441.0" cy="38.9" r="2.15"/>
<circle cx="603.4" cy="74.6" r="2.15"/>
<circle cx="670.7" cy="45.6" r="2.15"/>
<circle cx="490.3" cy="63.8" r="2.15"/>
<circle cx="484.7" cy="35.5" r="2.15"/>
<circle cx="460.4" cy="150.7" r="2.15"/>
<circle cx="515.2" cy="32.9" r="2.15"/>
<circle cx="666.0" cy="45.4" r="2.15"/>
<circle cx="614.7" cy="18.8" r="2.15"/>
<circle cx="481.0" cy="43.2" r="2.15"/>
<circle cx="486.9" cy="23.7" r="2.15"/>
<circle cx="558.8" cy="34.9" r="2.15"/>
<circle cx="614.9" cy="28.1" r="2.15"/>
<circle cx="580.1" cy="51.4" r="2.15"/>
<circle cx="453.2" cy="38.5" r="2.15"/>
<circle cx="661.8" cy="28.9" r="2.15"/>
<circle cx="443.7" cy="97.9" r="2.15"/>
<circle cx="479.9" cy="51.0" r="2.15"/>
<circle cx="504.3" cy="28.6" r="2.15"/>
<circle cx="446.2" cy="31.3" r="2.15"/>
<circle cx="579.9" cy="29.6" r="2.15"/>
<circle cx="534.1" cy="132.7" r="2.15"/>
<circle cx="662.7" cy="19.0" r="2.15"/>
<circle cx="461.0" cy="139.9" r="2.15"/>
<circle cx="523.6" cy="40.3" r="2.15"/>
<circle cx="461.4" cy="74.6" r="2.15"/>
<circle cx="503.5" cy="29.7" r="2.15"/>
<circle cx="453.3" cy="80.3" r="2.15"/>
<circle cx="517.1" cy="32.0" r="2.15"/>
<circle cx="458.1" cy="23.8" r="2.15"/>
<circle cx="581.7" cy="24.4" r="2.15"/>
<circle cx="479.7" cy="32.2" r="2.15"/>
<circle cx="473.0" cy="34.9" r="2.15"/>
<circle cx="657.3" cy="28.8" r="2.15"/>
<circle cx="557.9" cy="139.4" r="2.15"/>
<circle cx="540.0" cy="34.9" r="2.15"/>
<circle cx="565.4" cy="29.0" r="2.15"/>
<circle cx="475.6" cy="21.8" r="2.15"/>
<circle cx="450.2" cy="39.2" r="2.15"/>
<circle cx="532.7" cy="25.7" r="2.15"/>
<circle cx="663.8" cy="26.9" r="2.15"/>
<circle cx="480.5" cy="62.3" r="2.15"/>
<circle cx="547.9" cy="39.1" r="2.15"/>
<circle cx="585.7" cy="24.6" r="2.15"/>
<circle cx="449.8" cy="48.4" r="2.15"/>
<circle cx="447.4" cy="48.0" r="2.15"/>
<circle cx="554.4" cy="38.6" r="2.15"/>
<circle cx="460.3" cy="23.5" r="2.15"/>
<circle cx="601.0" cy="23.0" r="2.15"/>
<circle cx="450.2" cy="109.4" r="2.15"/>
<circle cx="641.4" cy="23.1" r="2.15"/>
<circle cx="659.5" cy="108.9" r="2.15"/>
<circle cx="612.9" cy="27.1" r="2.15"/>
<circle cx="553.1" cy="25.0" r="2.15"/>
<circle cx="471.9" cy="19.7" r="2.15"/>
<circle cx="591.6" cy="29.1" r="2.15"/>
<circle cx="461.7" cy="45.4" r="2.15"/>
<circle cx="507.9" cy="34.7" r="2.15"/>
<circle cx="457.2" cy="34.2" r="2.15"/>
<circle cx="510.7" cy="42.2" r="2.15"/>
<circle cx="441.4" cy="50.2" r="2.15"/>
<circle cx="451.2" cy="95.1" r="2.15"/>
<circle cx="494.4" cy="37.6" r="2.15"/>
<circle cx="634.5" cy="28.6" r="2.15"/>
<circle cx="649.3" cy="23.8" r="2.15"/>
<circle cx="645.8" cy="26.1" r="2.15"/>
<circle cx="465.7" cy="24.0" r="2.15"/>
<circle cx="452.9" cy="50.4" r="2.15"/>
<circle cx="670.4" cy="37.0" r="2.15"/>
<circle cx="598.1" cy="26.3" r="2.15"/>
<circle cx="488.0" cy="21.7" r="2.15"/>
<circle cx="584.9" cy="35.6" r="2.15"/>
<circle cx="548.4" cy="41.1" r="2.15"/>
<circle cx="652.8" cy="34.2" r="2.15"/>
<circle cx="485.7" cy="19.5" r="2.15"/>
<circle cx="493.2" cy="22.3" r="2.15"/>
<circle cx="514.1" cy="36.6" r="2.15"/>
<circle cx="509.7" cy="22.3" r="2.15"/>
<circle cx="507.9" cy="29.7" r="2.15"/>
<circle cx="638.4" cy="24.1" r="2.15"/>
<circle cx="467.0" cy="148.6" r="2.15"/>
<circle cx="462.6" cy="141.6" r="2.15"/>
<circle cx="491.7" cy="78.1" r="2.15"/>
<circle cx="662.5" cy="20.6" r="2.15"/>
<circle cx="586.9" cy="43.7" r="2.15"/>
<circle cx="479.2" cy="19.1" r="2.15"/>
<circle cx="499.5" cy="31.5" r="2.15"/>
<circle cx="452.5" cy="102.2" r="2.15"/>
<circle cx="481.0" cy="37.1" r="2.15"/>
<circle cx="439.4" cy="136.3" r="2.15"/>
<circle cx="453.1" cy="148.6" r="2.15"/>
<circle cx="504.1" cy="31.0" r="2.15"/>
<circle cx="476.9" cy="104.1" r="2.15"/>
<circle cx="600.6" cy="152.6" r="2.15"/>
<circle cx="447.6" cy="109.9" r="2.15"/>
<circle cx="447.4" cy="38.6" r="2.15"/>
<circle cx="604.6" cy="80.2" r="2.15"/>
<circle cx="479.9" cy="21.0" r="2.15"/>
<circle cx="619.4" cy="18.5" r="2.15"/>
<circle cx="447.7" cy="30.5" r="2.15"/>
<circle cx="472.4" cy="96.1" r="2.15"/>
<circle cx="475.3" cy="53.7" r="2.15"/>
<circle cx="588.8" cy="36.2" r="2.15"/>
<circle cx="669.8" cy="20.2" r="2.15"/>
<circle cx="668.6" cy="27.9" r="2.15"/>
<circle cx="636.8" cy="29.2" r="2.15"/>
<circle cx="668.2" cy="39.8" r="2.15"/>
<circle cx="579.1" cy="44.6" r="2.15"/>
<circle cx="582.9" cy="36.5" r="2.15"/>
<circle cx="667.2" cy="24.4" r="2.15"/>
<circle cx="565.9" cy="24.0" r="2.15"/>
<circle cx="562.2" cy="23.7" r="2.15"/>
<circle cx="505.0" cy="69.1" r="2.15"/>
<circle cx="486.6" cy="129.8" r="2.15"/>
<circle cx="451.5" cy="47.2" r="2.15"/>
<circle cx="562.3" cy="49.4" r="2.15"/>
<circle cx="665.5" cy="18.1" r="2.15"/>
<circle cx="665.8" cy="24.8" r="2.15"/>
<circle cx="561.9" cy="26.2" r="2.15"/>
<circle cx="526.0" cy="80.3" r="2.15"/>
<circle cx="551.8" cy="19.2" r="2.15"/>
<circle cx="576.8" cy="20.5" r="2.15"/>
<circle cx="440.6" cy="86.7" r="2.15"/>
<circle cx="668.4" cy="20.4" r="2.15"/>
<circle cx="660.3" cy="41.3" r="2.15"/>
<circle cx="441.3" cy="103.9" r="2.15"/>
<circle cx="496.5" cy="84.5" r="2.15"/>
<circle cx="450.4" cy="25.1" r="2.15"/>
<circle cx="658.9" cy="20.9" r="2.15"/>
<circle cx="649.4" cy="31.4" r="2.15"/>
<circle cx="514.9" cy="42.6" r="2.15"/>
<circle cx="511.9" cy="46.4" r="2.15"/>
<circle cx="647.5" cy="20.6" r="2.15"/>
<circle cx="569.8" cy="18.9" r="2.15"/>
<circle cx="668.1" cy="33.2" r="2.15"/>
<circle cx="514.4" cy="20.3" r="2.15"/>
<circle cx="543.0" cy="24.9" r="2.15"/>
<circle cx="446.2" cy="28.0" r="2.15"/>
<circle cx="650.2" cy="23.5" r="2.15"/>
<circle cx="593.8" cy="24.0" r="2.15"/>
<circle cx="468.3" cy="28.4" r="2.15"/>
<circle cx="554.8" cy="20.9" r="2.15"/>
<circle cx="659.4" cy="30.3" r="2.15"/>
<circle cx="458.3" cy="145.5" r="2.15"/>
<circle cx="534.6" cy="122.9" r="2.15"/>
<circle cx="638.4" cy="33.5" r="2.15"/>
<circle cx="652.0" cy="35.2" r="2.15"/>
<circle cx="575.8" cy="27.2" r="2.15"/>
<circle cx="446.2" cy="136.7" r="2.15"/>
<circle cx="458.1" cy="20.6" r="2.15"/>
<circle cx="524.0" cy="24.1" r="2.15"/>
<circle cx="502.1" cy="42.1" r="2.15"/>
<circle cx="666.5" cy="43.3" r="2.15"/>
<circle cx="446.3" cy="58.6" r="2.15"/>
<circle cx="529.5" cy="42.7" r="2.15"/>
<circle cx="538.6" cy="27.6" r="2.15"/>
<circle cx="667.7" cy="39.8" r="2.15"/>
<circle cx="533.6" cy="17.8" r="2.15"/>
<circle cx="654.7" cy="19.4" r="2.15"/>
<circle cx="473.1" cy="38.9" r="2.15"/>
<circle cx="455.7" cy="164.2" r="2.15"/>
<circle cx="453.4" cy="19.0" r="2.15"/>
<circle cx="670.0" cy="39.8" r="2.15"/>
<circle cx="647.9" cy="31.7" r="2.15"/>
<circle cx="667.1" cy="25.6" r="2.15"/>
<circle cx="573.2" cy="20.5" r="2.15"/>
<circle cx="591.2" cy="28.2" r="2.15"/>
<circle cx="663.5" cy="38.5" r="2.15"/>
<circle cx="472.0" cy="18.3" r="2.15"/>
<circle cx="498.5" cy="38.0" r="2.15"/>
<circle cx="479.3" cy="84.8" r="2.15"/>
<circle cx="652.9" cy="53.4" r="2.15"/>
<circle cx="479.2" cy="25.5" r="2.15"/>
<circle cx="446.3" cy="28.7" r="2.15"/>
<circle cx="645.6" cy="19.4" r="2.15"/>
<circle cx="510.3" cy="131.5" r="2.15"/>
<circle cx="588.4" cy="34.7" r="2.15"/>
<circle cx="535.2" cy="18.8" r="2.15"/>
<circle cx="446.6" cy="25.5" r="2.15"/>
<circle cx="565.1" cy="34.5" r="2.15"/>
<circle cx="661.3" cy="26.8" r="2.15"/>
<circle cx="509.0" cy="25.1" r="2.15"/>
<circle cx="635.8" cy="25.2" r="2.15"/>
<circle cx="499.4" cy="41.2" r="2.15"/>
<circle cx="656.2" cy="25.5" r="2.15"/>
<circle cx="595.5" cy="23.6" r="2.15"/>
<circle cx="483.7" cy="33.7" r="2.15"/>
<circle cx="508.7" cy="32.0" r="2.15"/>
<circle cx="639.7" cy="22.9" r="2.15"/>
<circle cx="552.3" cy="26.3" r="2.15"/>
<circle cx="477.0" cy="117.1" r="2.15"/>
<circle cx="664.2" cy="51.1" r="2.15"/>
<circle cx="465.6" cy="21.2" r="2.15"/>
<circle cx="607.0" cy="20.4" r="2.15"/>
<circle cx="588.4" cy="27.3" r="2.15"/>
<circle cx="541.6" cy="18.7" r="2.15"/>
<circle cx="440.4" cy="63.8" r="2.15"/>
<circle cx="487.1" cy="48.7" r="2.15"/>
<circle cx="573.4" cy="34.5" r="2.15"/>
<circle cx="453.6" cy="52.2" r="2.15"/>
<circle cx="585.1" cy="28.4" r="2.15"/>
<circle cx="579.6" cy="145.6" r="2.15"/>
<circle cx="666.2" cy="21.1" r="2.15"/>
<circle cx="446.8" cy="161.1" r="2.15"/>
<circle cx="495.9" cy="65.5" r="2.15"/>
<circle cx="495.8" cy="22.7" r="2.15"/>
<circle cx="464.9" cy="49.0" r="2.15"/>
<circle cx="655.9" cy="37.1" r="2.15"/>
<circle cx="589.5" cy="47.9" r="2.15"/>
<circle cx="525.9" cy="28.6" r="2.15"/>
<circle cx="609.8" cy="23.5" r="2.15"/>
<circle cx="451.6" cy="38.7" r="2.15"/>
<circle cx="490.3" cy="105.0" r="2.15"/>
<circle cx="508.0" cy="45.7" r="2.15"/>
<circle cx="447.2" cy="39.1" r="2.15"/>
<circle cx="671.0" cy="31.6" r="2.15"/>
<circle cx="577.5" cy="23.5" r="2.15"/>
<circle cx="450.2" cy="135.1" r="2.15"/>
<circle cx="553.6" cy="18.4" r="2.15"/>
<circle cx="459.5" cy="153.4" r="2.15"/>
<circle cx="497.5" cy="30.1" r="2.15"/>
<circle cx="570.3" cy="29.0" r="2.15"/>
<circle cx="452.4" cy="23.7" r="2.15"/>
<circle cx="558.4" cy="29.0" r="2.15"/>
<circle cx="466.0" cy="18.1" r="2.15"/>
<circle cx="514.9" cy="18.7" r="2.15"/>
<circle cx="581.8" cy="26.9" r="2.15"/>
<circle cx="548.5" cy="40.0" r="2.15"/>
<circle cx="572.1" cy="30.2" r="2.15"/>
<circle cx="493.7" cy="49.7" r="2.15"/>
<circle cx="668.3" cy="25.0" r="2.15"/>
<circle cx="662.8" cy="32.2" r="2.15"/>
<circle cx="660.9" cy="29.4" r="2.15"/>
<circle cx="505.7" cy="48.2" r="2.15"/>
<circle cx="531.1" cy="38.4" r="2.15"/>
<circle cx="589.0" cy="53.4" r="2.15"/>
<circle cx="463.7" cy="124.2" r="2.15"/>
<circle cx="567.4" cy="78.9" r="2.15"/>
<circle cx="668.7" cy="37.0" r="2.15"/>
<circle cx="446.5" cy="32.7" r="2.15"/>
<circle cx="608.8" cy="19.0" r="2.15"/>
<circle cx="661.5" cy="34.0" r="2.15"/>
<circle cx="664.4" cy="20.5" r="2.15"/>
<circle cx="513.5" cy="26.5" r="2.15"/>
<circle cx="468.9" cy="30.5" r="2.15"/>
<circle cx="446.7" cy="56.0" r="2.15"/>
<circle cx="451.8" cy="32.1" r="2.15"/>
<circle cx="441.8" cy="45.1" r="2.15"/>
<circle cx="635.3" cy="29.6" r="2.15"/>
<circle cx="600.1" cy="35.3" r="2.15"/>
<circle cx="605.8" cy="20.6" r="2.15"/>
<circle cx="541.7" cy="23.5" r="2.15"/>
<circle cx="450.4" cy="121.8" r="2.15"/>
<circle cx="487.1" cy="45.7" r="2.15"/>
<circle cx="565.3" cy="43.8" r="2.15"/>
<circle cx="638.0" cy="34.6" r="2.15"/>
<circle cx="489.3" cy="57.0" r="2.15"/>
<circle cx="568.0" cy="26.6" r="2.15"/>
<circle cx="606.5" cy="23.6" r="2.15"/>
<circle cx="628.2" cy="96.4" r="2.15"/>
<circle cx="551.0" cy="35.0" r="2.15"/>
<circle cx="618.4" cy="22.6" r="2.15"/>
<circle cx="665.7" cy="34.3" r="2.15"/>
<circle cx="474.5" cy="88.8" r="2.15"/>
<circle cx="559.3" cy="38.2" r="2.15"/>
<circle cx="498.3" cy="40.3" r="2.15"/>
<circle cx="577.6" cy="25.4" r="2.15"/>
<circle cx="629.4" cy="23.2" r="2.15"/>
<circle cx="634.4" cy="23.2" r="2.15"/>
<circle cx="504.4" cy="20.0" r="2.15"/>
<circle cx="486.4" cy="37.5" r="2.15"/>
<circle cx="668.7" cy="30.0" r="2.15"/>
<circle cx="650.9" cy="37.0" r="2.15"/>
<circle cx="658.2" cy="32.6" r="2.15"/>
<circle cx="475.7" cy="28.2" r="2.15"/>
<circle cx="566.7" cy="27.3" r="2.15"/>
<circle cx="489.6" cy="35.7" r="2.15"/>
<circle cx="631.8" cy="31.0" r="2.15"/>
<circle cx="501.0" cy="42.1" r="2.15"/>
<circle cx="650.2" cy="30.9" r="2.15"/>
<circle cx="669.9" cy="20.9" r="2.15"/>
<circle cx="645.3" cy="41.2" r="2.15"/>
<circle cx="500.3" cy="21.3" r="2.15"/>
<circle cx="477.6" cy="37.2" r="2.15"/>
<circle cx="577.3" cy="31.7" r="2.15"/>
<circle cx="611.4" cy="31.0" r="2.15"/>
<circle cx="671.0" cy="31.1" r="2.15"/>
<circle cx="571.4" cy="31.4" r="2.15"/>
<circle cx="528.7" cy="98.6" r="2.15"/>
<circle cx="596.5" cy="23.5" r="2.15"/>
<circle cx="591.1" cy="30.3" r="2.15"/>
<circle cx="531.1" cy="24.7" r="2.15"/>
<circle cx="545.5" cy="22.2" r="2.15"/>
<circle cx="514.2" cy="21.7" r="2.15"/>
<circle cx="499.7" cy="24.8" r="2.15"/>
<circle cx="524.9" cy="27.3" r="2.15"/>
<circle cx="473.3" cy="21.0" r="2.15"/>
<circle cx="528.7" cy="25.2" r="2.15"/>
<circle cx="670.9" cy="32.6" r="2.15"/>
<circle cx="607.8" cy="22.6" r="2.15"/>
<circle cx="448.0" cy="69.8" r="2.15"/>
<circle cx="526.4" cy="22.2" r="2.15"/>
<circle cx="465.2" cy="25.0" r="2.15"/>
<circle cx="459.3" cy="87.9" r="2.15"/>
<circle cx="622.7" cy="22.3" r="2.15"/>
<circle cx="455.0" cy="140.3" r="2.15"/>
<circle cx="441.6" cy="48.0" r="2.15"/>
<circle cx="470.9" cy="143.3" r="2.15"/>
<circle cx="671.2" cy="42.3" r="2.15"/>
<circle cx="499.8" cy="28.6" r="2.15"/>
<circle cx="535.9" cy="44.9" r="2.15"/>
<circle cx="607.2" cy="45.7" r="2.15"/>
<circle cx="452.4" cy="30.5" r="2.15"/>
<circle cx="439.8" cy="80.8" r="2.15"/>
<circle cx="487.2" cy="38.3" r="2.15"/>
<circle cx="603.0" cy="20.4" r="2.15"/>
<circle cx="453.7" cy="87.4" r="2.15"/>
<circle cx="496.4" cy="30.8" r="2.15"/>
<circle cx="467.3" cy="32.0" r="2.15"/>
<circle cx="503.1" cy="24.3" r="2.15"/>
<circle cx="563.0" cy="19.8" r="2.15"/>
<circle cx="480.0" cy="22.8" r="2.15"/>
<circle cx="632.3" cy="22.2" r="2.15"/>
<circle cx="440.7" cy="146.5" r="2.15"/>
<circle cx="523.6" cy="27.7" r="2.15"/>
<circle cx="638.6" cy="28.0" r="2.15"/>
<circle cx="668.9" cy="35.6" r="2.15"/>
<circle cx="628.5" cy="71.6" r="2.15"/>
<circle cx="574.7" cy="32.3" r="2.15"/>
<circle cx="572.9" cy="24.4" r="2.15"/>
<circle cx="584.9" cy="30.3" r="2.15"/>
<circle cx="634.0" cy="26.4" r="2.15"/>
<circle cx="452.6" cy="26.7" r="2.15"/>
<circle cx="501.3" cy="28.7" r="2.15"/>
<circle cx="656.7" cy="22.8" r="2.15"/>
<circle cx="669.3" cy="47.9" r="2.15"/>
<circle cx="552.5" cy="22.5" r="2.15"/>
<circle cx="561.8" cy="27.1" r="2.15"/>
<circle cx="647.9" cy="19.2" r="2.15"/>
<circle cx="450.5" cy="75.0" r="2.15"/>
<circle cx="444.8" cy="99.4" r="2.15"/>
<circle cx="516.0" cy="31.0" r="2.15"/>
<circle cx="445.5" cy="148.6" r="2.15"/>
<circle cx="448.5" cy="149.7" r="2.15"/>
<circle cx="497.2" cy="135.9" r="2.15"/>
<circle cx="622.3" cy="18.8" r="2.15"/>
<circle cx="456.5" cy="55.6" r="2.15"/>
<circle cx="544.4" cy="19.3" r="2.15"/>
<circle cx="509.3" cy="135.3" r="2.15"/>
<circle cx="653.0" cy="25.6" r="2.15"/>
<circle cx="560.3" cy="19.4" r="2.15"/>
<circle cx="561.4" cy="30.9" r="2.15"/>
<circle cx="529.9" cy="19.2" r="2.15"/>
<circle cx="488.5" cy="29.3" r="2.15"/>
<circle cx="492.4" cy="23.3" r="2.15"/>
<circle cx="611.9" cy="18.8" r="2.15"/>
<circle cx="671.1" cy="31.3" r="2.15"/>
<circle cx="564.7" cy="29.5" r="2.15"/>
<circle cx="631.5" cy="26.7" r="2.15"/>
<circle cx="474.3" cy="145.0" r="2.15"/>
<circle cx="443.5" cy="110.8" r="2.15"/>
<circle cx="662.2" cy="20.9" r="2.15"/>
<circle cx="667.1" cy="19.9" r="2.15"/>
<circle cx="516.3" cy="22.3" r="2.15"/>
<circle cx="447.6" cy="23.2" r="2.15"/>
<circle cx="463.6" cy="132.6" r="2.15"/>
<circle cx="551.5" cy="21.8" r="2.15"/>
<circle cx="517.9" cy="21.0" r="2.15"/>
<circle cx="556.4" cy="35.3" r="2.15"/>
<circle cx="618.5" cy="46.6" r="2.15"/>
<circle cx="544.9" cy="41.6" r="2.15"/>
<circle cx="648.5" cy="27.6" r="2.15"/>
<circle cx="552.4" cy="23.3" r="2.15"/>
<circle cx="669.4" cy="30.4" r="2.15"/>
<circle cx="463.8" cy="140.5" r="2.15"/>
<circle cx="639.1" cy="57.1" r="2.15"/>
<circle cx="544.2" cy="64.3" r="2.15"/>
<circle cx="632.8" cy="39.9" r="2.15"/>
<circle cx="643.5" cy="18.3" r="2.15"/>
<circle cx="448.0" cy="30.4" r="2.15"/>
<circle cx="581.6" cy="30.4" r="2.15"/>
<circle cx="444.6" cy="78.0" r="2.15"/>
<circle cx="483.7" cy="26.1" r="2.15"/>
<circle cx="548.0" cy="40.5" r="2.15"/>
<circle cx="665.9" cy="22.3" r="2.15"/>
<circle cx="496.5" cy="32.5" r="2.15"/>
<circle cx="652.3" cy="27.0" r="2.15"/>
<circle cx="560.2" cy="37.5" r="2.15"/>
<circle cx="576.0" cy="28.1" r="2.15"/>
<circle cx="643.7" cy="20.2" r="2.15"/>
<circle cx="624.6" cy="98.7" r="2.15"/>
<circle cx="508.1" cy="32.5" r="2.15"/>
<circle cx="476.7" cy="160.6" r="2.15"/>
<circle cx="439.0" cy="109.3" r="2.15"/>
<circle cx="473.8" cy="108.2" r="2.15"/>
<circle cx="612.1" cy="20.5" r="2.15"/>
<circle cx="455.7" cy="40.0" r="2.15"/>
<circle cx="463.4" cy="35.5" r="2.15"/>
<circle cx="449.6" cy="51.4" r="2.15"/>
<circle cx="571.6" cy="23.4" r="2.15"/>
<circle cx="462.9" cy="155.2" r="2.15"/>
<circle cx="484.9" cy="26.3" r="2.15"/>
<circle cx="657.9" cy="25.4" r="2.15"/>
<circle cx="439.5" cy="32.5" r="2.15"/>
<circle cx="444.6" cy="82.9" r="2.15"/>
<circle cx="551.9" cy="50.0" r="2.15"/>
<circle cx="624.4" cy="20.1" r="2.15"/>
<circle cx="442.4" cy="72.0" r="2.15"/>
<circle cx="666.0" cy="33.0" r="2.15"/>
<circle cx="451.9" cy="44.2" r="2.15"/>
<circle cx="453.3" cy="115.6" r="2.15"/>
<circle cx="519.2" cy="108.7" r="2.15"/>
<circle cx="450.1" cy="102.6" r="2.15"/>
<circle cx="492.9" cy="133.1" r="2.15"/>
<circle cx="582.7" cy="40.4" r="2.15"/>
<circle cx="553.2" cy="23.8" r="2.15"/>
<circle cx="464.0" cy="58.8" r="2.15"/>
<circle cx="609.7" cy="23.9" r="2.15"/>
<circle cx="535.7" cy="21.4" r="2.15"/>
<circle cx="538.4" cy="24.6" r="2.15"/>
<circle cx="599.8" cy="27.4" r="2.15"/>
<circle cx="441.4" cy="79.4" r="2.15"/>
<circle cx="596.6" cy="17.9" r="2.15"/>
<circle cx="460.5" cy="24.7" r="2.15"/>
<circle cx="541.9" cy="35.4" r="2.15"/>
<circle cx="443.4" cy="138.5" r="2.15"/>
<circle cx="451.6" cy="99.1" r="2.15"/>
<circle cx="647.5" cy="23.9" r="2.15"/>
<circle cx="662.5" cy="23.2" r="2.15"/>
<circle cx="554.3" cy="80.3" r="2.15"/>
<circle cx="552.6" cy="22.7" r="2.15"/>
<circle cx="492.9" cy="38.0" r="2.15"/>
<circle cx="553.5" cy="26.1" r="2.15"/>
<circle cx="557.3" cy="23.8" r="2.15"/>
<circle cx="474.7" cy="26.2" r="2.15"/>
<circle cx="443.5" cy="76.8" r="2.15"/>
<circle cx="513.6" cy="38.5" r="2.15"/>
<circle cx="635.4" cy="25.8" r="2.15"/>
<circle cx="482.7" cy="128.2" r="2.15"/>
<circle cx="660.3" cy="46.0" r="2.15"/>
<circle cx="457.5" cy="36.9" r="2.15"/>
<circle cx="479.1" cy="139.1" r="2.15"/>
<circle cx="490.5" cy="45.6" r="2.15"/>
<circle cx="449.0" cy="87.5" r="2.15"/>
<circle cx="647.2" cy="26.0" r="2.15"/>
<circle cx="465.7" cy="26.9" r="2.15"/>
<circle cx="543.0" cy="37.3" r="2.15"/>
<circle cx="490.7" cy="75.5" r="2.15"/>
<circle cx="535.4" cy="28.2" r="2.15"/>
<circle cx="443.9" cy="19.9" r="2.15"/>
<circle cx="507.4" cy="25.4" r="2.15"/>
<circle cx="481.2" cy="48.4" r="2.15"/>
<circle cx="487.9" cy="54.5" r="2.15"/>
<circle cx="552.5" cy="105.6" r="2.15"/>
<circle cx="603.0" cy="32.4" r="2.15"/>
<circle cx="468.8" cy="147.0" r="2.15"/>
<circle cx="461.2" cy="44.7" r="2.15"/>
<circle cx="512.9" cy="43.1" r="2.15"/>
<circle cx="485.8" cy="39.0" r="2.15"/>
<circle cx="596.9" cy="24.8" r="2.15"/>
<circle cx="621.1" cy="22.8" r="2.15"/>
<circle cx="561.5" cy="41.7" r="2.15"/>
<circle cx="483.5" cy="19.8" r="2.15"/>
<circle cx="509.5" cy="56.5" r="2.15"/>
<circle cx="443.5" cy="86.8" r="2.15"/>
<circle cx="591.0" cy="30.4" r="2.15"/>
<circle cx="579.4" cy="29.7" r="2.15"/>
<circle cx="448.9" cy="29.3" r="2.15"/>
<circle cx="653.4" cy="26.8" r="2.15"/>
<circle cx="563.3" cy="25.8" r="2.15"/>
<circle cx="662.7" cy="40.4" r="2.15"/>
<circle cx="530.8" cy="29.7" r="2.15"/>
<circle cx="525.8" cy="33.8" r="2.15"/>
<circle cx="488.7" cy="29.8" r="2.15"/>
<circle cx="504.4" cy="24.8" r="2.15"/>
<circle cx="643.6" cy="36.3" r="2.15"/>
<circle cx="466.2" cy="78.1" r="2.15"/>
<circle cx="477.6" cy="57.6" r="2.15"/>
<circle cx="445.1" cy="24.3" r="2.15"/>
<circle cx="624.4" cy="34.5" r="2.15"/>
<circle cx="640.6" cy="29.4" r="2.15"/>
<circle cx="503.5" cy="33.8" r="2.15"/>
<circle cx="665.4" cy="20.6" r="2.15"/>
<circle cx="648.4" cy="38.6" r="2.15"/>
<circle cx="521.9" cy="31.6" r="2.15"/>
<circle cx="454.7" cy="22.5" r="2.15"/>
<circle cx="481.9" cy="22.9" r="2.15"/>
<circle cx="464.0" cy="90.8" r="2.15"/>
<circle cx="505.4" cy="34.6" r="2.15"/>
<circle cx="568.2" cy="65.1" r="2.15"/>
<circle cx="460.9" cy="125.1" r="2.15"/>
<circle cx="452.9" cy="52.3" r="2.15"/>
<circle cx="475.2" cy="36.3" r="2.15"/>
<circle cx="508.4" cy="81.8" r="2.15"/>
<circle cx="489.6" cy="21.9" r="2.15"/>
<circle cx="552.3" cy="51.2" r="2.15"/>
<circle cx="441.0" cy="26.7" r="2.15"/>
<circle cx="557.4" cy="46.3" r="2.15"/>
<circle cx="533.8" cy="39.0" r="2.15"/>
<circle cx="671.0" cy="40.8" r="2.15"/>
<circle cx="448.8" cy="117.5" r="2.15"/>
<circle cx="503.8" cy="31.9" r="2.15"/>
<circle cx="505.5" cy="22.8" r="2.15"/>
<circle cx="447.2" cy="139.4" r="2.15"/>
<circle cx="608.6" cy="21.8" r="2.15"/>
<circle cx="499.7" cy="24.3" r="2.15"/>
<circle cx="521.6" cy="23.8" r="2.15"/>
<circle cx="460.6" cy="31.3" r="2.15"/>
<circle cx="480.0" cy="146.9" r="2.15"/>
<circle cx="671.1" cy="33.3" r="2.15"/>
<circle cx="482.4" cy="18.4" r="2.15"/>
<circle cx="670.2" cy="40.7" r="2.15"/>
<circle cx="464.4" cy="31.4" r="2.15"/>
<circle cx="488.1" cy="39.3" r="2.15"/>
<circle cx="498.4" cy="34.7" r="2.15"/>
<circle cx="608.5" cy="18.1" r="2.15"/>
<circle cx="447.0" cy="23.2" r="2.15"/>
<circle cx="552.0" cy="30.2" r="2.15"/>
<circle cx="451.3" cy="80.0" r="2.15"/>
<circle cx="627.0" cy="29.2" r="2.15"/>
<circle cx="592.7" cy="32.4" r="2.15"/>
<circle cx="632.2" cy="31.6" r="2.15"/>
<circle cx="613.3" cy="23.2" r="2.15"/>
<circle cx="519.7" cy="21.1" r="2.15"/>
<circle cx="653.0" cy="29.4" r="2.15"/>
<circle cx="661.1" cy="27.2" r="2.15"/>
<circle cx="470.4" cy="21.7" r="2.15"/>
<circle cx="663.4" cy="21.5" r="2.15"/>
<circle cx="507.4" cy="22.0" r="2.15"/>
<circle cx="530.1" cy="27.0" r="2.15"/>
<circle cx="440.2" cy="96.1" r="2.15"/>
<circle cx="493.2" cy="44.8" r="2.15"/>
<circle cx="666.8" cy="21.3" r="2.15"/>
<circle cx="500.3" cy="23.3" r="2.15"/>
<circle cx="668.1" cy="27.4" r="2.15"/>
<circle cx="503.4" cy="32.1" r="2.15"/>
<circle cx="452.2" cy="45.3" r="2.15"/>
<circle cx="611.4" cy="23.8" r="2.15"/>
<circle cx="595.0" cy="21.5" r="2.15"/>
<circle cx="441.8" cy="47.2" r="2.15"/>
<circle cx="534.7" cy="28.2" r="2.15"/>
<circle cx="496.3" cy="19.2" r="2.15"/>
<circle cx="458.4" cy="22.1" r="2.15"/>
<circle cx="651.8" cy="20.1" r="2.15"/>
<circle cx="454.2" cy="156.8" r="2.15"/>
<circle cx="453.8" cy="36.9" r="2.15"/>
<circle cx="596.2" cy="20.1" r="2.15"/>
<circle cx="476.4" cy="41.8" r="2.15"/>
<circle cx="449.5" cy="27.0" r="2.15"/>
<circle cx="653.9" cy="20.4" r="2.15"/>
<circle cx="658.8" cy="41.6" r="2.15"/>
<circle cx="486.0" cy="36.4" r="2.15"/>
<circle cx="662.9" cy="21.8" r="2.15"/>
<circle cx="470.5" cy="88.1" r="2.15"/>
<circle cx="520.0" cy="38.1" r="2.15"/>
<circle cx="668.9" cy="24.9" r="2.15"/>
<circle cx="489.4" cy="36.3" r="2.15"/>
<circle cx="664.9" cy="31.1" r="2.15"/>
<circle cx="628.7" cy="22.0" r="2.15"/>
<circle cx="618.1" cy="23.4" r="2.15"/>
<circle cx="576.5" cy="20.5" r="2.15"/>
<circle cx="572.8" cy="21.7" r="2.15"/>
<circle cx="645.5" cy="18.1" r="2.15"/>
<circle cx="529.9" cy="29.5" r="2.15"/>
<circle cx="596.4" cy="73.6" r="2.15"/>
<circle cx="489.4" cy="97.0" r="2.15"/>
<circle cx="475.2" cy="19.9" r="2.15"/>
<circle cx="441.0" cy="57.0" r="2.15"/>
<circle cx="587.8" cy="21.9" r="2.15"/>
<circle cx="532.8" cy="20.0" r="2.15"/>
<circle cx="643.9" cy="36.3" r="2.15"/>
<circle cx="607.4" cy="22.6" r="2.15"/>
<circle cx="553.4" cy="40.3" r="2.15"/>
<circle cx="668.2" cy="31.9" r="2.15"/>
<circle cx="623.4" cy="22.4" r="2.15"/>
<circle cx="478.9" cy="117.1" r="2.15"/>
<circle cx="499.9" cy="56.7" r="2.15"/>
<circle cx="542.8" cy="24.1" r="2.15"/>
<circle cx="666.8" cy="31.7" r="2.15"/>
<circle cx="657.2" cy="34.1" r="2.15"/>
<circle cx="667.7" cy="33.3" r="2.15"/>
<circle cx="662.5" cy="49.9" r="2.15"/>
<circle cx="646.2" cy="25.9" r="2.15"/>
<circle cx="642.3" cy="25.6" r="2.15"/>
<circle cx="467.3" cy="147.9" r="2.15"/>
<circle cx="586.2" cy="24.8" r="2.15"/>
<circle cx="591.4" cy="28.5" r="2.15"/>
<circle cx="486.5" cy="23.5" r="2.15"/>
<circle cx="574.9" cy="35.5" r="2.15"/>
<circle cx="483.7" cy="105.8" r="2.15"/>
<circle cx="645.4" cy="28.2" r="2.15"/>
<circle cx="459.9" cy="30.6" r="2.15"/>
<circle cx="470.6" cy="37.7" r="2.15"/>
<circle cx="511.7" cy="83.6" r="2.15"/>
<circle cx="531.3" cy="30.8" r="2.15"/>
<circle cx="552.8" cy="17.9" r="2.15"/>
<circle cx="533.4" cy="18.0" r="2.15"/>
<circle cx="446.5" cy="24.6" r="2.15"/>
<circle cx="455.7" cy="163.1" r="2.15"/>
<circle cx="623.6" cy="51.5" r="2.15"/>
<circle cx="474.8" cy="34.9" r="2.15"/>
<circle cx="462.7" cy="23.3" r="2.15"/>
<circle cx="582.1" cy="25.1" r="2.15"/>
<circle cx="458.2" cy="53.6" r="2.15"/>
<circle cx="515.1" cy="33.9" r="2.15"/>
<circle cx="532.2" cy="55.7" r="2.15"/>
<circle cx="672.1" cy="102.6" r="2.15"/>
<circle cx="672.1" cy="39.0" r="2.15"/>
<circle cx="672.1" cy="39.2" r="2.15"/>
<circle cx="672.1" cy="95.5" r="2.15"/>
<circle cx="672.1" cy="22.1" r="2.15"/>
<circle cx="672.1" cy="73.2" r="2.15"/>
<circle cx="672.1" cy="112.6" r="2.15"/>
<circle cx="672.1" cy="68.0" r="2.15"/>
<circle cx="672.1" cy="128.7" r="2.15"/>
<circle cx="672.1" cy="90.7" r="2.15"/>
<circle cx="672.1" cy="96.1" r="2.15"/>
<circle cx="672.1" cy="21.2" r="2.15"/>
<circle cx="672.1" cy="138.6" r="2.15"/>
<circle cx="672.1" cy="42.1" r="2.15"/>
<circle cx="672.1" cy="37.0" r="2.15"/>
<circle cx="672.1" cy="26.4" r="2.15"/>
<circle cx="672.1" cy="34.3" r="2.15"/>
<circle cx="672.1" cy="42.2" r="2.15"/>
<circle cx="672.1" cy="42.7" r="2.15"/>
<circle cx="672.1" cy="115.2" r="2.15"/>
<circle cx="672.1" cy="37.9" r="2.15"/>
<circle cx="672.1" cy="51.3" r="2.15"/>
<circle cx="672.1" cy="27.9" r="2.15"/>
<circle cx="672.1" cy="39.3" r="2.15"/>
<circle cx="672.1" cy="52.4" r="2.15"/>
<circle cx="672.1" cy="146.9" r="2.15"/>
<circle cx="672.1" cy="52.3" r="2.15"/>
<circle cx="672.1" cy="41.7" r="2.15"/>
<circle cx="672.1" cy="74.2" r="2.15"/>
<circle cx="672.1" cy="30.6" r="2.15"/>
<circle cx="672.1" cy="153.7" r="2.15"/>
<circle cx="672.1" cy="66.2" r="2.15"/>
<circle cx="672.1" cy="19.9" r="2.15"/>
<circle cx="672.1" cy="31.9" r="2.15"/>
<circle cx="672.1" cy="28.7" r="2.15"/>
<circle cx="672.1" cy="80.9" r="2.15"/>
<circle cx="672.1" cy="32.5" r="2.15"/>
<circle cx="672.1" cy="35.4" r="2.15"/>
<circle cx="672.1" cy="50.8" r="2.15"/>
<circle cx="672.1" cy="59.7" r="2.15"/>
<circle cx="672.1" cy="20.5" r="2.15"/>
<circle cx="672.1" cy="20.6" r="2.15"/>
<circle cx="672.1" cy="39.9" r="2.15"/>
<circle cx="672.1" cy="54.0" r="2.15"/>
<circle cx="672.1" cy="104.8" r="2.15"/>
<circle cx="672.1" cy="144.7" r="2.15"/>
<circle cx="672.1" cy="85.9" r="2.15"/>
<circle cx="672.1" cy="29.9" r="2.15"/>
<circle cx="672.1" cy="62.0" r="2.15"/>
<circle cx="672.1" cy="149.6" r="2.15"/>
<circle cx="672.1" cy="32.5" r="2.15"/>
<circle cx="672.1" cy="29.8" r="2.15"/>
<circle cx="672.1" cy="35.2" r="2.15"/>
<circle cx="672.1" cy="37.7" r="2.15"/>
<circle cx="672.1" cy="25.8" r="2.15"/>
<circle cx="672.1" cy="22.9" r="2.15"/>
<circle cx="672.1" cy="139.5" r="2.15"/>
<circle cx="672.1" cy="33.2" r="2.15"/>
</g>
<g fill="#8c8c8c" fill-opacity="0.28">
<circle cx="510.4" cy="70.5" r="2.15"/>
<circle cx="540.7" cy="57.9" r="2.15"/>
<circle cx="447.7" cy="158.1" r="2.15"/>
<circle cx="460.7" cy="120.0" r="2.15"/>
<circle cx="479.1" cy="59.9" r="2.15"/>
<circle cx="642.6" cy="48.0" r="2.15"/>
<circle cx="486.6" cy="48.4" r="2.15"/>
<circle cx="468.3" cy="145.8" r="2.15"/>
<circle cx="507.4" cy="140.1" r="2.15"/>
<circle cx="538.4" cy="45.8" r="2.15"/>
<circle cx="535.0" cy="43.5" r="2.15"/>
<circle cx="456.8" cy="61.1" r="2.15"/>
<circle cx="475.4" cy="163.1" r="2.15"/>
<circle cx="476.1" cy="135.6" r="2.15"/>
<circle cx="472.4" cy="111.9" r="2.15"/>
<circle cx="563.0" cy="111.1" r="2.15"/>
<circle cx="623.6" cy="119.6" r="2.15"/>
<circle cx="546.9" cy="104.9" r="2.15"/>
<circle cx="501.8" cy="47.3" r="2.15"/>
<circle cx="466.8" cy="69.6" r="2.15"/>
<circle cx="474.9" cy="128.8" r="2.15"/>
<circle cx="491.7" cy="53.0" r="2.15"/>
<circle cx="458.1" cy="118.3" r="2.15"/>
<circle cx="488.8" cy="155.1" r="2.15"/>
<circle cx="633.6" cy="64.0" r="2.15"/>
<circle cx="515.5" cy="62.3" r="2.15"/>
<circle cx="565.4" cy="149.6" r="2.15"/>
<circle cx="608.9" cy="48.2" r="2.15"/>
<circle cx="481.6" cy="53.8" r="2.15"/>
<circle cx="654.5" cy="65.4" r="2.15"/>
<circle cx="505.7" cy="132.0" r="2.15"/>
<circle cx="576.0" cy="142.8" r="2.15"/>
<circle cx="443.8" cy="161.4" r="2.15"/>
<circle cx="452.4" cy="119.3" r="2.15"/>
<circle cx="460.0" cy="99.8" r="2.15"/>
<circle cx="454.0" cy="62.9" r="2.15"/>
<circle cx="667.8" cy="55.0" r="2.15"/>
<circle cx="502.9" cy="77.5" r="2.15"/>
<circle cx="464.9" cy="56.7" r="2.15"/>
<circle cx="495.7" cy="136.3" r="2.15"/>
<circle cx="608.4" cy="52.4" r="2.15"/>
<circle cx="472.1" cy="67.5" r="2.15"/>
<circle cx="522.9" cy="59.9" r="2.15"/>
<circle cx="553.4" cy="48.6" r="2.15"/>
<circle cx="480.5" cy="83.8" r="2.15"/>
<circle cx="523.4" cy="153.8" r="2.15"/>
<circle cx="488.4" cy="87.8" r="2.15"/>
<circle cx="629.9" cy="57.1" r="2.15"/>
<circle cx="594.4" cy="41.4" r="2.15"/>
<circle cx="455.3" cy="118.6" r="2.15"/>
<circle cx="469.5" cy="54.0" r="2.15"/>
</g>
<g fill="#8c8c8c" fill-opacity="0.4">
<circle cx="502.0" cy="63.9" r="2.15"/>
<circle cx="506.2" cy="47.5" r="2.15"/>
<circle cx="627.9" cy="50.6" r="2.15"/>
<circle cx="481.6" cy="62.1" r="2.15"/>
<circle cx="548.9" cy="66.8" r="2.15"/>
<circle cx="601.3" cy="69.4" r="2.15"/>
<circle cx="473.6" cy="151.2" r="2.15"/>
<circle cx="568.2" cy="65.9" r="2.15"/>
<circle cx="468.2" cy="107.9" r="2.15"/>
<circle cx="567.0" cy="50.2" r="2.15"/>
<circle cx="588.3" cy="59.1" r="2.15"/>
<circle cx="544.3" cy="48.6" r="2.15"/>
<circle cx="454.4" cy="152.3" r="2.15"/>
<circle cx="580.6" cy="92.9" r="2.15"/>
<circle cx="588.9" cy="43.6" r="2.15"/>
<circle cx="451.6" cy="93.5" r="2.15"/>
<circle cx="590.9" cy="45.8" r="2.15"/>
<circle cx="628.3" cy="170.5" r="2.15"/>
<circle cx="485.3" cy="101.8" r="2.15"/>
<circle cx="460.7" cy="57.5" r="2.15"/>
<circle cx="465.9" cy="53.3" r="2.15"/>
<circle cx="461.6" cy="149.6" r="2.15"/>
<circle cx="452.6" cy="169.5" r="2.15"/>
<circle cx="563.2" cy="119.1" r="2.15"/>
<circle cx="456.9" cy="116.0" r="2.15"/>
<circle cx="647.2" cy="42.5" r="2.15"/>
<circle cx="522.8" cy="45.5" r="2.15"/>
<circle cx="563.4" cy="66.4" r="2.15"/>
<circle cx="450.7" cy="166.9" r="2.15"/>
<circle cx="501.5" cy="121.6" r="2.15"/>
<circle cx="472.8" cy="102.5" r="2.15"/>
<circle cx="596.6" cy="61.5" r="2.15"/>
<circle cx="629.1" cy="42.2" r="2.15"/>
<circle cx="478.3" cy="124.4" r="2.15"/>
<circle cx="508.3" cy="44.4" r="2.15"/>
<circle cx="650.6" cy="48.4" r="2.15"/>
<circle cx="672.1" cy="138.5" r="2.15"/>
<circle cx="672.1" cy="101.2" r="2.15"/>
</g>
<g fill="#000">
<circle cx="422.7" cy="29.6" r="2.15" fill-opacity="0.200"/>
<circle cx="415.0" cy="87.1" r="2.15" fill-opacity="0.360"/>
<circle cx="413.9" cy="152.7" r="2.15" fill-opacity="0.590"/>
<circle cx="418.6" cy="62.9" r="2.15" fill-opacity="0.200"/>
<circle cx="418.7" cy="142.8" r="2.15" fill-opacity="0.488"/>
<circle cx="426.1" cy="132.2" r="2.15" fill-opacity="0.200"/>
<circle cx="423.5" cy="150.4" r="2.15" fill-opacity="0.200"/>
<circle cx="423.3" cy="142.6" r="2.15" fill-opacity="0.200"/>
<circle cx="417.7" cy="58.7" r="2.15" fill-opacity="0.200"/>
<circle cx="422.3" cy="81.4" r="2.15" fill-opacity="0.200"/>
<circle cx="428.4" cy="74.0" r="2.15" fill-opacity="0.200"/>
<circle cx="420.7" cy="106.4" r="2.15" fill-opacity="0.200"/>
<circle cx="420.5" cy="34.1" r="2.15" fill-opacity="0.200"/>
<circle cx="423.4" cy="41.8" r="2.15" fill-opacity="0.200"/>
<circle cx="437.7" cy="112.1" r="2.15" fill-opacity="0.931"/>
<circle cx="418.4" cy="60.9" r="2.15" fill-opacity="0.200"/>
<circle cx="433.8" cy="95.0" r="2.15" fill-opacity="0.590"/>
<circle cx="438.8" cy="100.3" r="2.15" fill-opacity="0.200"/>
<circle cx="424.1" cy="133.4" r="2.15" fill-opacity="0.200"/>
<circle cx="415.7" cy="135.2" r="2.15" fill-opacity="0.488"/>
<circle cx="415.6" cy="38.4" r="2.15" fill-opacity="0.914"/>
<circle cx="417.2" cy="130.8" r="2.15" fill-opacity="0.200"/>
<circle cx="435.1" cy="141.8" r="2.15" fill-opacity="0.200"/>
<circle cx="426.7" cy="95.3" r="2.15" fill-opacity="0.488"/>
<circle cx="425.6" cy="44.0" r="2.15" fill-opacity="0.488"/>
<circle cx="429.1" cy="137.6" r="2.15" fill-opacity="0.360"/>
<circle cx="426.8" cy="139.0" r="2.15" fill-opacity="0.200"/>
<circle cx="419.7" cy="51.8" r="2.15" fill-opacity="0.200"/>
<circle cx="415.4" cy="38.7" r="2.15" fill-opacity="0.488"/>
<circle cx="426.9" cy="110.4" r="2.15" fill-opacity="0.200"/>
<circle cx="418.9" cy="25.6" r="2.15" fill-opacity="0.672"/>
<circle cx="431.9" cy="65.5" r="2.15" fill-opacity="0.200"/>
<circle cx="430.9" cy="72.0" r="2.15" fill-opacity="0.200"/>
<circle cx="420.3" cy="79.9" r="2.15" fill-opacity="0.200"/>
<circle cx="421.5" cy="108.5" r="2.15" fill-opacity="0.360"/>
<circle cx="426.7" cy="103.6" r="2.15" fill-opacity="0.832"/>
<circle cx="414.6" cy="99.6" r="2.15" fill-opacity="0.488"/>
<circle cx="427.9" cy="39.3" r="2.15" fill-opacity="0.200"/>
<circle cx="429.9" cy="104.9" r="2.15" fill-opacity="0.790"/>
<circle cx="420.1" cy="32.7" r="2.15" fill-opacity="0.200"/>
<circle cx="429.3" cy="114.3" r="2.15" fill-opacity="0.200"/>
<circle cx="423.4" cy="66.7" r="2.15" fill-opacity="0.200"/>
<circle cx="428.8" cy="108.0" r="2.15" fill-opacity="0.200"/>
<circle cx="416.4" cy="75.5" r="2.15" fill-opacity="0.200"/>
<circle cx="432.8" cy="135.5" r="2.15" fill-opacity="0.200"/>
<circle cx="423.5" cy="97.9" r="2.15" fill-opacity="0.672"/>
<circle cx="425.5" cy="131.5" r="2.15" fill-opacity="0.590"/>
<circle cx="435.3" cy="140.0" r="2.15" fill-opacity="0.200"/>
<circle cx="425.0" cy="129.7" r="2.15" fill-opacity="0.590"/>
<circle cx="423.5" cy="127.8" r="2.15" fill-opacity="0.200"/>
<circle cx="436.5" cy="107.8" r="2.15" fill-opacity="0.672"/>
<circle cx="416.9" cy="111.0" r="2.15" fill-opacity="0.200"/>
<circle cx="414.7" cy="102.2" r="2.15" fill-opacity="0.488"/>
<circle cx="438.0" cy="135.1" r="2.15" fill-opacity="0.200"/>
<circle cx="420.2" cy="68.7" r="2.15" fill-opacity="0.200"/>
<circle cx="426.6" cy="102.0" r="2.15" fill-opacity="0.200"/>
<circle cx="415.3" cy="159.6" r="2.15" fill-opacity="0.200"/>
<circle cx="418.9" cy="28.7" r="2.15" fill-opacity="0.200"/>
<circle cx="430.6" cy="80.1" r="2.15" fill-opacity="0.200"/>
<circle cx="418.2" cy="105.4" r="2.15" fill-opacity="0.200"/>
<circle cx="418.0" cy="46.7" r="2.15" fill-opacity="0.200"/>
<circle cx="432.5" cy="48.4" r="2.15" fill-opacity="0.360"/>
<circle cx="415.8" cy="106.7" r="2.15" fill-opacity="0.200"/>
<circle cx="418.7" cy="38.3" r="2.15" fill-opacity="0.200"/>
<circle cx="427.8" cy="31.3" r="2.15" fill-opacity="0.360"/>
<circle cx="416.5" cy="150.9" r="2.15" fill-opacity="0.590"/>
<circle cx="416.6" cy="151.0" r="2.15" fill-opacity="0.200"/>
<circle cx="423.9" cy="101.2" r="2.15" fill-opacity="0.200"/>
<circle cx="421.4" cy="146.4" r="2.15" fill-opacity="0.672"/>
<circle cx="426.9" cy="115.5" r="2.15" fill-opacity="0.200"/>
<circle cx="414.7" cy="124.1" r="2.15" fill-opacity="0.200"/>
<circle cx="436.6" cy="24.4" r="2.15" fill-opacity="0.200"/>
<circle cx="429.9" cy="60.0" r="2.15" fill-opacity="0.200"/>
<circle cx="437.8" cy="27.5" r="2.15" fill-opacity="0.200"/>
<circle cx="423.1" cy="104.8" r="2.15" fill-opacity="0.200"/>
<circle cx="419.5" cy="144.9" r="2.15" fill-opacity="0.200"/>
<circle cx="428.5" cy="86.8" r="2.15" fill-opacity="0.672"/>
<circle cx="424.5" cy="81.8" r="2.15" fill-opacity="0.200"/>
<circle cx="416.9" cy="52.7" r="2.15" fill-opacity="0.360"/>
<circle cx="416.0" cy="72.4" r="2.15" fill-opacity="0.200"/>
<circle cx="419.5" cy="112.0" r="2.15" fill-opacity="0.360"/>
<circle cx="415.5" cy="116.5" r="2.15" fill-opacity="0.360"/>
<circle cx="418.2" cy="156.6" r="2.15" fill-opacity="0.200"/>
<circle cx="418.3" cy="115.1" r="2.15" fill-opacity="0.590"/>
<circle cx="426.3" cy="119.1" r="2.15" fill-opacity="0.200"/>
<circle cx="415.3" cy="27.1" r="2.15" fill-opacity="0.360"/>
<circle cx="434.6" cy="114.4" r="2.15" fill-opacity="0.360"/>
<circle cx="427.7" cy="105.7" r="2.15" fill-opacity="0.832"/>
<circle cx="417.1" cy="128.4" r="2.15" fill-opacity="0.200"/>
<circle cx="415.7" cy="112.7" r="2.15" fill-opacity="0.200"/>
<circle cx="428.5" cy="134.8" r="2.15" fill-opacity="0.488"/>
<circle cx="417.7" cy="94.1" r="2.15" fill-opacity="0.590"/>
<circle cx="417.6" cy="92.3" r="2.15" fill-opacity="0.200"/>
<circle cx="414.9" cy="73.7" r="2.15" fill-opacity="0.200"/>
<circle cx="432.9" cy="120.9" r="2.15" fill-opacity="0.200"/>
<circle cx="414.6" cy="114.9" r="2.15" fill-opacity="0.360"/>
<circle cx="421.4" cy="147.1" r="2.15" fill-opacity="0.200"/>
<circle cx="424.8" cy="50.9" r="2.15" fill-opacity="0.200"/>
<circle cx="413.8" cy="61.6" r="2.15" fill-opacity="0.200"/>
<circle cx="426.6" cy="76.7" r="2.15" fill-opacity="0.200"/>
<circle cx="416.9" cy="128.1" r="2.15" fill-opacity="0.832"/>
<circle cx="434.2" cy="132.3" r="2.15" fill-opacity="0.200"/>
<circle cx="431.0" cy="42.5" r="2.15" fill-opacity="0.738"/>
<circle cx="427.6" cy="69.7" r="2.15" fill-opacity="0.200"/>
<circle cx="426.5" cy="140.8" r="2.15" fill-opacity="0.200"/>
<circle cx="434.7" cy="108.6" r="2.15" fill-opacity="0.672"/>
<circle cx="422.4" cy="39.7" r="2.15" fill-opacity="0.200"/>
<circle cx="417.4" cy="46.2" r="2.15" fill-opacity="0.200"/>
<circle cx="419.2" cy="133.7" r="2.15" fill-opacity="0.914"/>
<circle cx="421.6" cy="41.8" r="2.15" fill-opacity="0.200"/>
<circle cx="414.7" cy="147.9" r="2.15" fill-opacity="0.200"/>
<circle cx="424.8" cy="20.5" r="2.15" fill-opacity="0.200"/>
<circle cx="425.2" cy="28.7" r="2.15" fill-opacity="0.590"/>
<circle cx="434.7" cy="109.1" r="2.15" fill-opacity="0.200"/>
<circle cx="418.3" cy="97.4" r="2.15" fill-opacity="0.590"/>
<circle cx="431.0" cy="46.8" r="2.15" fill-opacity="0.200"/>
<circle cx="434.7" cy="95.9" r="2.15" fill-opacity="0.200"/>
<circle cx="429.8" cy="46.6" r="2.15" fill-opacity="0.200"/>
<circle cx="416.3" cy="90.5" r="2.15" fill-opacity="0.590"/>
<circle cx="420.5" cy="92.3" r="2.15" fill-opacity="0.200"/>
<circle cx="423.6" cy="32.2" r="2.15" fill-opacity="0.200"/>
<circle cx="429.1" cy="41.7" r="2.15" fill-opacity="0.200"/>
<circle cx="414.3" cy="116.0" r="2.15" fill-opacity="0.360"/>
<circle cx="414.5" cy="52.8" r="2.15" fill-opacity="0.360"/>
<circle cx="416.4" cy="100.9" r="2.15" fill-opacity="0.488"/>
<circle cx="417.7" cy="90.1" r="2.15" fill-opacity="0.200"/>
<circle cx="428.7" cy="59.2" r="2.15" fill-opacity="0.200"/>
<circle cx="416.4" cy="136.5" r="2.15" fill-opacity="0.360"/>
<circle cx="422.9" cy="45.7" r="2.15" fill-opacity="0.200"/>
<circle cx="419.5" cy="87.5" r="2.15" fill-opacity="0.200"/>
<circle cx="417.6" cy="73.0" r="2.15" fill-opacity="0.200"/>
<circle cx="415.5" cy="63.6" r="2.15" fill-opacity="0.200"/>
<circle cx="431.2" cy="119.0" r="2.15" fill-opacity="0.200"/>
<circle cx="414.7" cy="122.8" r="2.15" fill-opacity="0.200"/>
<circle cx="425.8" cy="146.1" r="2.15" fill-opacity="0.200"/>
<circle cx="423.4" cy="21.3" r="2.15" fill-opacity="0.488"/>
<circle cx="416.0" cy="47.4" r="2.15" fill-opacity="0.360"/>
<circle cx="429.2" cy="81.9" r="2.15" fill-opacity="0.200"/>
<circle cx="424.4" cy="131.9" r="2.15" fill-opacity="0.200"/>
<circle cx="421.1" cy="34.4" r="2.15" fill-opacity="0.672"/>
<circle cx="437.6" cy="53.6" r="2.15" fill-opacity="0.488"/>
<circle cx="429.4" cy="53.0" r="2.15" fill-opacity="0.360"/>
<circle cx="415.9" cy="142.7" r="2.15" fill-opacity="0.200"/>
<circle cx="414.5" cy="96.2" r="2.15" fill-opacity="0.200"/>
<circle cx="417.3" cy="127.8" r="2.15" fill-opacity="0.200"/>
<circle cx="422.6" cy="98.4" r="2.15" fill-opacity="0.200"/>
<circle cx="438.6" cy="73.5" r="2.15" fill-opacity="0.360"/>
<circle cx="431.6" cy="87.2" r="2.15" fill-opacity="0.200"/>
<circle cx="423.6" cy="124.6" r="2.15" fill-opacity="0.200"/>
<circle cx="432.7" cy="94.8" r="2.15" fill-opacity="0.200"/>
<circle cx="418.5" cy="134.8" r="2.15" fill-opacity="0.488"/>
<circle cx="416.9" cy="126.1" r="2.15" fill-opacity="0.200"/>
<circle cx="432.4" cy="134.0" r="2.15" fill-opacity="0.200"/>
<circle cx="417.7" cy="53.7" r="2.15" fill-opacity="0.200"/>
<circle cx="414.3" cy="121.0" r="2.15" fill-opacity="0.790"/>
<circle cx="427.2" cy="67.2" r="2.15" fill-opacity="0.488"/>
<circle cx="419.4" cy="91.6" r="2.15" fill-opacity="0.360"/>
<circle cx="433.5" cy="152.4" r="2.15" fill-opacity="0.200"/>
<circle cx="421.0" cy="108.8" r="2.15" fill-opacity="0.200"/>
<circle cx="420.1" cy="41.5" r="2.15" fill-opacity="0.360"/>
<circle cx="415.0" cy="86.1" r="2.15" fill-opacity="0.200"/>
<circle cx="416.7" cy="137.1" r="2.15" fill-opacity="0.200"/>
<circle cx="424.1" cy="43.9" r="2.15" fill-opacity="0.200"/>
<circle cx="415.5" cy="143.2" r="2.15" fill-opacity="0.866"/>
<circle cx="421.1" cy="54.3" r="2.15" fill-opacity="0.360"/>
<circle cx="419.0" cy="125.9" r="2.15" fill-opacity="0.200"/>
<circle cx="432.9" cy="25.4" r="2.15" fill-opacity="0.200"/>
<circle cx="422.7" cy="26.8" r="2.15" fill-opacity="0.200"/>
<circle cx="434.8" cy="101.5" r="2.15" fill-opacity="0.738"/>
<circle cx="416.7" cy="81.1" r="2.15" fill-opacity="0.200"/>
<circle cx="417.4" cy="21.5" r="2.15" fill-opacity="0.200"/>
<circle cx="417.4" cy="119.0" r="2.15" fill-opacity="0.360"/>
<circle cx="429.0" cy="119.7" r="2.15" fill-opacity="0.200"/>
<circle cx="435.0" cy="38.1" r="2.15" fill-opacity="0.200"/>
<circle cx="414.8" cy="40.2" r="2.15" fill-opacity="0.360"/>
<circle cx="427.5" cy="135.2" r="2.15" fill-opacity="0.200"/>
<circle cx="422.8" cy="73.0" r="2.15" fill-opacity="0.200"/>
<circle cx="420.5" cy="116.4" r="2.15" fill-opacity="0.200"/>
<circle cx="414.5" cy="59.2" r="2.15" fill-opacity="0.200"/>
<circle cx="414.3" cy="114.1" r="2.15" fill-opacity="0.200"/>
<circle cx="419.7" cy="36.0" r="2.15" fill-opacity="0.200"/>
<circle cx="414.5" cy="104.7" r="2.15" fill-opacity="0.360"/>
<circle cx="435.4" cy="65.8" r="2.15" fill-opacity="0.200"/>
<circle cx="418.6" cy="50.0" r="2.15" fill-opacity="0.200"/>
<circle cx="426.9" cy="29.0" r="2.15" fill-opacity="0.200"/>
<circle cx="420.5" cy="136.9" r="2.15" fill-opacity="0.200"/>
<circle cx="438.5" cy="109.3" r="2.15" fill-opacity="0.488"/>
<circle cx="438.2" cy="35.5" r="2.15" fill-opacity="0.200"/>
<circle cx="434.4" cy="75.0" r="2.15" fill-opacity="0.200"/>
<circle cx="430.2" cy="44.8" r="2.15" fill-opacity="0.200"/>
<circle cx="417.2" cy="143.5" r="2.15" fill-opacity="0.200"/>
<circle cx="426.9" cy="91.6" r="2.15" fill-opacity="0.200"/>
<circle cx="418.9" cy="112.4" r="2.15" fill-opacity="0.488"/>
<circle cx="425.9" cy="106.2" r="2.15" fill-opacity="0.360"/>
<circle cx="413.8" cy="56.9" r="2.15" fill-opacity="0.200"/>
<circle cx="414.9" cy="124.6" r="2.15" fill-opacity="0.360"/>
<circle cx="428.0" cy="67.0" r="2.15" fill-opacity="0.590"/>
<circle cx="416.9" cy="146.1" r="2.15" fill-opacity="0.200"/>
<circle cx="427.3" cy="146.4" r="2.15" fill-opacity="0.200"/>
<circle cx="427.1" cy="44.6" r="2.15" fill-opacity="0.200"/>
<circle cx="425.9" cy="115.4" r="2.15" fill-opacity="0.590"/>
<circle cx="424.8" cy="126.3" r="2.15" fill-opacity="0.200"/>
<circle cx="415.5" cy="72.7" r="2.15" fill-opacity="0.200"/>
<circle cx="428.5" cy="149.0" r="2.15" fill-opacity="0.200"/>
<circle cx="418.3" cy="138.4" r="2.15" fill-opacity="0.200"/>
<circle cx="415.6" cy="27.3" r="2.15" fill-opacity="0.200"/>
<circle cx="438.3" cy="35.0" r="2.15" fill-opacity="0.488"/>
<circle cx="430.6" cy="74.2" r="2.15" fill-opacity="0.200"/>
<circle cx="418.9" cy="125.1" r="2.15" fill-opacity="0.893"/>
<circle cx="435.8" cy="121.6" r="2.15" fill-opacity="0.672"/>
<circle cx="414.1" cy="130.0" r="2.15" fill-opacity="0.200"/>
<circle cx="415.9" cy="87.4" r="2.15" fill-opacity="0.200"/>
<circle cx="418.5" cy="123.7" r="2.15" fill-opacity="0.200"/>
<circle cx="435.9" cy="105.5" r="2.15" fill-opacity="0.200"/>
<circle cx="418.7" cy="141.8" r="2.15" fill-opacity="0.200"/>
<circle cx="421.8" cy="91.2" r="2.15" fill-opacity="0.866"/>
<circle cx="424.2" cy="146.3" r="2.15" fill-opacity="0.200"/>
<circle cx="433.5" cy="126.1" r="2.15" fill-opacity="0.200"/>
<circle cx="437.5" cy="26.9" r="2.15" fill-opacity="0.360"/>
<circle cx="415.6" cy="152.0" r="2.15" fill-opacity="0.200"/>
<circle cx="423.6" cy="120.6" r="2.15" fill-opacity="0.200"/>
<circle cx="420.0" cy="107.2" r="2.15" fill-opacity="0.200"/>
<circle cx="415.4" cy="97.1" r="2.15" fill-opacity="0.200"/>
<circle cx="416.6" cy="131.0" r="2.15" fill-opacity="0.360"/>
<circle cx="419.1" cy="150.0" r="2.15" fill-opacity="0.200"/>
<circle cx="438.6" cy="131.3" r="2.15" fill-opacity="0.200"/>
<circle cx="432.0" cy="93.9" r="2.15" fill-opacity="0.200"/>
<circle cx="417.5" cy="111.0" r="2.15" fill-opacity="0.360"/>
<circle cx="418.9" cy="95.4" r="2.15" fill-opacity="0.200"/>
<circle cx="415.4" cy="28.6" r="2.15" fill-opacity="0.672"/>
<circle cx="421.4" cy="120.9" r="2.15" fill-opacity="0.590"/>
<circle cx="432.7" cy="150.8" r="2.15" fill-opacity="0.360"/>
<circle cx="423.2" cy="50.3" r="2.15" fill-opacity="0.360"/>
<circle cx="421.1" cy="142.3" r="2.15" fill-opacity="0.200"/>
<circle cx="424.0" cy="50.9" r="2.15" fill-opacity="0.488"/>
<circle cx="423.0" cy="113.1" r="2.15" fill-opacity="0.200"/>
<circle cx="431.7" cy="21.0" r="2.15" fill-opacity="0.200"/>
<circle cx="428.0" cy="39.8" r="2.15" fill-opacity="0.360"/>
<circle cx="421.4" cy="137.6" r="2.15" fill-opacity="0.200"/>
<circle cx="419.9" cy="148.8" r="2.15" fill-opacity="0.488"/>
<circle cx="430.3" cy="109.9" r="2.15" fill-opacity="0.200"/>
<circle cx="421.1" cy="91.8" r="2.15" fill-opacity="0.200"/>
<circle cx="421.2" cy="149.3" r="2.15" fill-opacity="0.200"/>
<circle cx="438.0" cy="136.6" r="2.15" fill-opacity="0.200"/>
<circle cx="433.3" cy="37.8" r="2.15" fill-opacity="0.200"/>
<circle cx="418.6" cy="112.2" r="2.15" fill-opacity="0.590"/>
<circle cx="421.5" cy="95.1" r="2.15" fill-opacity="0.200"/>
<circle cx="420.5" cy="29.3" r="2.15" fill-opacity="0.672"/>
<circle cx="417.5" cy="21.5" r="2.15" fill-opacity="0.931"/>
<circle cx="414.8" cy="26.3" r="2.15" fill-opacity="0.200"/>
<circle cx="426.4" cy="91.6" r="2.15" fill-opacity="0.832"/>
<circle cx="420.7" cy="111.2" r="2.15" fill-opacity="0.590"/>
<circle cx="417.4" cy="97.4" r="2.15" fill-opacity="0.200"/>
<circle cx="428.6" cy="74.9" r="2.15" fill-opacity="0.200"/>
<circle cx="438.1" cy="124.4" r="2.15" fill-opacity="0.200"/>
<circle cx="413.9" cy="114.5" r="2.15" fill-opacity="0.200"/>
<circle cx="430.3" cy="32.2" r="2.15" fill-opacity="0.200"/>
<circle cx="421.2" cy="120.3" r="2.15" fill-opacity="0.200"/>
<circle cx="421.0" cy="36.0" r="2.15" fill-opacity="0.200"/>
<circle cx="429.8" cy="41.3" r="2.15" fill-opacity="0.200"/>
<circle cx="419.8" cy="94.5" r="2.15" fill-opacity="0.200"/>
<circle cx="418.0" cy="97.9" r="2.15" fill-opacity="0.200"/>
<circle cx="435.1" cy="97.8" r="2.15" fill-opacity="0.200"/>
<circle cx="423.8" cy="103.8" r="2.15" fill-opacity="0.200"/>
<circle cx="420.0" cy="111.8" r="2.15" fill-opacity="0.488"/>
<circle cx="423.0" cy="110.7" r="2.15" fill-opacity="0.360"/>
<circle cx="417.5" cy="71.1" r="2.15" fill-opacity="0.360"/>
<circle cx="433.9" cy="118.7" r="2.15" fill-opacity="0.832"/>
<circle cx="424.9" cy="151.5" r="2.15" fill-opacity="0.200"/>
<circle cx="434.6" cy="38.5" r="2.15" fill-opacity="0.590"/>
<circle cx="420.1" cy="127.8" r="2.15" fill-opacity="0.738"/>
<circle cx="431.8" cy="52.3" r="2.15" fill-opacity="0.200"/>
<circle cx="431.6" cy="84.0" r="2.15" fill-opacity="0.200"/>
<circle cx="422.7" cy="150.3" r="2.15" fill-opacity="0.200"/>
<circle cx="429.8" cy="113.4" r="2.15" fill-opacity="0.200"/>
<circle cx="421.1" cy="90.4" r="2.15" fill-opacity="0.200"/>
<circle cx="419.8" cy="29.2" r="2.15" fill-opacity="0.200"/>
<circle cx="420.3" cy="145.1" r="2.15" fill-opacity="0.200"/>
<circle cx="423.4" cy="94.9" r="2.15" fill-opacity="0.200"/>
<circle cx="414.8" cy="126.0" r="2.15" fill-opacity="0.360"/>
<circle cx="437.4" cy="66.9" r="2.15" fill-opacity="0.200"/>
<circle cx="415.8" cy="110.1" r="2.15" fill-opacity="0.200"/>
<circle cx="415.7" cy="76.0" r="2.15" fill-opacity="0.200"/>
<circle cx="416.5" cy="102.3" r="2.15" fill-opacity="0.488"/>
<circle cx="426.9" cy="36.9" r="2.15" fill-opacity="0.200"/>
<circle cx="427.6" cy="49.5" r="2.15" fill-opacity="0.200"/>
<circle cx="423.5" cy="99.7" r="2.15" fill-opacity="0.590"/>
<circle cx="432.0" cy="124.2" r="2.15" fill-opacity="0.200"/>
<circle cx="428.8" cy="89.5" r="2.15" fill-opacity="0.590"/>
<circle cx="434.7" cy="28.1" r="2.15" fill-opacity="0.488"/>
<circle cx="426.0" cy="137.2" r="2.15" fill-opacity="0.590"/>
<circle cx="437.4" cy="100.6" r="2.15" fill-opacity="0.200"/>
<circle cx="421.8" cy="142.4" r="2.15" fill-opacity="0.590"/>
<circle cx="417.1" cy="119.6" r="2.15" fill-opacity="0.360"/>
<circle cx="428.3" cy="52.4" r="2.15" fill-opacity="0.360"/>
<circle cx="431.3" cy="101.9" r="2.15" fill-opacity="0.360"/>
<circle cx="420.4" cy="119.2" r="2.15" fill-opacity="0.200"/>
<circle cx="426.7" cy="53.7" r="2.15" fill-opacity="0.590"/>
<circle cx="420.8" cy="71.7" r="2.15" fill-opacity="0.200"/>
<circle cx="416.7" cy="21.1" r="2.15" fill-opacity="0.200"/>
<circle cx="433.7" cy="58.8" r="2.15" fill-opacity="0.200"/>
<circle cx="422.7" cy="42.2" r="2.15" fill-opacity="0.200"/>
<circle cx="419.3" cy="150.7" r="2.15" fill-opacity="0.200"/>
<circle cx="436.9" cy="77.1" r="2.15" fill-opacity="0.893"/>
<circle cx="421.2" cy="92.6" r="2.15" fill-opacity="0.200"/>
<circle cx="428.2" cy="26.9" r="2.15" fill-opacity="0.200"/>
<circle cx="420.9" cy="54.9" r="2.15" fill-opacity="0.360"/>
<circle cx="414.7" cy="52.7" r="2.15" fill-opacity="0.200"/>
<circle cx="436.0" cy="41.1" r="2.15" fill-opacity="0.832"/>
<circle cx="425.6" cy="23.9" r="2.15" fill-opacity="0.488"/>
<circle cx="437.4" cy="84.7" r="2.15" fill-opacity="0.200"/>
<circle cx="419.3" cy="75.3" r="2.15" fill-opacity="0.200"/>
<circle cx="421.1" cy="75.8" r="2.15" fill-opacity="0.672"/>
<circle cx="429.9" cy="48.9" r="2.15" fill-opacity="0.590"/>
<circle cx="422.5" cy="78.9" r="2.15" fill-opacity="0.200"/>
<circle cx="416.2" cy="157.2" r="2.15" fill-opacity="0.672"/>
<circle cx="425.3" cy="105.9" r="2.15" fill-opacity="0.672"/>
<circle cx="436.9" cy="83.5" r="2.15" fill-opacity="0.200"/>
<circle cx="419.4" cy="74.0" r="2.15" fill-opacity="0.200"/>
<circle cx="416.4" cy="132.1" r="2.15" fill-opacity="0.200"/>
<circle cx="421.4" cy="102.0" r="2.15" fill-opacity="0.200"/>
<circle cx="431.4" cy="145.7" r="2.15" fill-opacity="0.200"/>
<circle cx="415.3" cy="37.0" r="2.15" fill-opacity="0.360"/>
<circle cx="415.2" cy="139.2" r="2.15" fill-opacity="0.360"/>
<circle cx="422.5" cy="48.4" r="2.15" fill-opacity="0.360"/>
<circle cx="420.0" cy="59.6" r="2.15" fill-opacity="0.360"/>
<circle cx="414.6" cy="44.6" r="2.15" fill-opacity="0.360"/>
<circle cx="426.5" cy="50.7" r="2.15" fill-opacity="0.200"/>
<circle cx="429.5" cy="21.3" r="2.15" fill-opacity="0.360"/>
<circle cx="421.4" cy="116.8" r="2.15" fill-opacity="0.200"/>
<circle cx="413.9" cy="81.8" r="2.15" fill-opacity="0.200"/>
<circle cx="422.8" cy="120.1" r="2.15" fill-opacity="0.590"/>
<circle cx="424.1" cy="134.8" r="2.15" fill-opacity="0.488"/>
<circle cx="418.6" cy="117.5" r="2.15" fill-opacity="0.200"/>
<circle cx="433.1" cy="32.4" r="2.15" fill-opacity="0.200"/>
<circle cx="437.9" cy="58.8" r="2.15" fill-opacity="0.200"/>
<circle cx="421.4" cy="96.5" r="2.15" fill-opacity="0.590"/>
<circle cx="416.0" cy="125.2" r="2.15" fill-opacity="0.200"/>
<circle cx="416.1" cy="112.2" r="2.15" fill-opacity="0.200"/>
<circle cx="418.3" cy="77.0" r="2.15" fill-opacity="0.360"/>
<circle cx="428.1" cy="65.7" r="2.15" fill-opacity="0.360"/>
<circle cx="434.9" cy="111.6" r="2.15" fill-opacity="0.738"/>
<circle cx="416.4" cy="128.2" r="2.15" fill-opacity="0.672"/>
<circle cx="415.9" cy="75.8" r="2.15" fill-opacity="0.200"/>
<circle cx="422.3" cy="106.8" r="2.15" fill-opacity="0.790"/>
<circle cx="419.2" cy="122.6" r="2.15" fill-opacity="0.738"/>
<circle cx="435.0" cy="68.1" r="2.15" fill-opacity="0.360"/>
<circle cx="429.8" cy="68.9" r="2.15" fill-opacity="0.738"/>
<circle cx="414.8" cy="67.4" r="2.15" fill-opacity="0.200"/>
<circle cx="419.3" cy="71.9" r="2.15" fill-opacity="0.360"/>
<circle cx="427.7" cy="69.3" r="2.15" fill-opacity="0.200"/>
<circle cx="415.4" cy="151.3" r="2.15" fill-opacity="0.200"/>
<circle cx="434.7" cy="58.8" r="2.15" fill-opacity="0.488"/>
<circle cx="419.1" cy="33.7" r="2.15" fill-opacity="0.200"/>
<circle cx="419.5" cy="118.3" r="2.15" fill-opacity="0.672"/>
<circle cx="418.8" cy="155.4" r="2.15" fill-opacity="0.590"/>
<circle cx="433.4" cy="25.1" r="2.15" fill-opacity="0.200"/>
<circle cx="433.4" cy="61.3" r="2.15" fill-opacity="0.200"/>
<circle cx="425.1" cy="56.1" r="2.15" fill-opacity="0.893"/>
<circle cx="435.8" cy="37.3" r="2.15" fill-opacity="0.200"/>
<circle cx="419.1" cy="37.4" r="2.15" fill-opacity="0.200"/>
<circle cx="414.2" cy="50.3" r="2.15" fill-opacity="0.200"/>
<circle cx="428.5" cy="131.0" r="2.15" fill-opacity="0.590"/>
<circle cx="427.6" cy="82.8" r="2.15" fill-opacity="0.200"/>
<circle cx="415.1" cy="23.8" r="2.15" fill-opacity="0.488"/>
<circle cx="421.8" cy="114.8" r="2.15" fill-opacity="0.200"/>
<circle cx="417.0" cy="47.0" r="2.15" fill-opacity="0.672"/>
<circle cx="419.9" cy="150.9" r="2.15" fill-opacity="0.200"/>
<circle cx="432.5" cy="119.2" r="2.15" fill-opacity="0.200"/>
<circle cx="415.5" cy="140.5" r="2.15" fill-opacity="0.360"/>
<circle cx="437.8" cy="40.1" r="2.15" fill-opacity="0.672"/>
<circle cx="433.1" cy="132.2" r="2.15" fill-opacity="0.200"/>
<circle cx="421.9" cy="60.1" r="2.15" fill-opacity="0.200"/>
<circle cx="438.2" cy="42.3" r="2.15" fill-opacity="0.200"/>
<circle cx="429.4" cy="38.3" r="2.15" fill-opacity="0.590"/>
<circle cx="419.2" cy="131.1" r="2.15" fill-opacity="0.738"/>
<circle cx="426.4" cy="117.8" r="2.15" fill-opacity="0.360"/>
<circle cx="414.1" cy="100.1" r="2.15" fill-opacity="0.200"/>
<circle cx="415.1" cy="51.1" r="2.15" fill-opacity="0.200"/>
<circle cx="415.9" cy="132.8" r="2.15" fill-opacity="0.672"/>
<circle cx="413.8" cy="93.4" r="2.15" fill-opacity="0.200"/>
<circle cx="430.8" cy="29.9" r="2.15" fill-opacity="0.790"/>
<circle cx="415.1" cy="56.1" r="2.15" fill-opacity="0.200"/>
<circle cx="425.0" cy="144.9" r="2.15" fill-opacity="0.200"/>
<circle cx="418.3" cy="44.9" r="2.15" fill-opacity="0.360"/>
<circle cx="415.1" cy="103.5" r="2.15" fill-opacity="0.200"/>
<circle cx="426.0" cy="136.7" r="2.15" fill-opacity="0.488"/>
<circle cx="416.1" cy="99.4" r="2.15" fill-opacity="0.200"/>
<circle cx="431.8" cy="114.7" r="2.15" fill-opacity="0.360"/>
<circle cx="415.5" cy="94.9" r="2.15" fill-opacity="0.200"/>
<circle cx="426.9" cy="113.2" r="2.15" fill-opacity="0.200"/>
<circle cx="415.0" cy="124.2" r="2.15" fill-opacity="0.360"/>
<circle cx="425.3" cy="110.1" r="2.15" fill-opacity="0.488"/>
<circle cx="436.9" cy="70.9" r="2.15" fill-opacity="0.672"/>
<circle cx="429.5" cy="124.3" r="2.15" fill-opacity="0.200"/>
<circle cx="426.5" cy="72.1" r="2.15" fill-opacity="0.200"/>
<circle cx="415.6" cy="135.1" r="2.15" fill-opacity="0.672"/>
<circle cx="414.0" cy="128.2" r="2.15" fill-opacity="0.738"/>
<circle cx="423.7" cy="107.2" r="2.15" fill-opacity="0.200"/>
<circle cx="427.5" cy="77.2" r="2.15" fill-opacity="0.200"/>
<circle cx="421.8" cy="31.8" r="2.15" fill-opacity="0.200"/>
<circle cx="418.1" cy="135.6" r="2.15" fill-opacity="0.200"/>
<circle cx="427.5" cy="89.9" r="2.15" fill-opacity="0.488"/>
<circle cx="418.7" cy="126.5" r="2.15" fill-opacity="0.200"/>
<circle cx="421.7" cy="102.1" r="2.15" fill-opacity="0.488"/>
<circle cx="426.4" cy="114.6" r="2.15" fill-opacity="0.590"/>
<circle cx="414.0" cy="83.2" r="2.15" fill-opacity="0.200"/>
<circle cx="427.2" cy="56.7" r="2.15" fill-opacity="0.200"/>
<circle cx="417.7" cy="97.4" r="2.15" fill-opacity="0.200"/>
<circle cx="415.3" cy="107.1" r="2.15" fill-opacity="0.200"/>
<circle cx="424.9" cy="101.5" r="2.15" fill-opacity="0.200"/>
<circle cx="427.6" cy="39.1" r="2.15" fill-opacity="0.200"/>
<circle cx="417.4" cy="134.2" r="2.15" fill-opacity="0.200"/>
<circle cx="430.3" cy="27.1" r="2.15" fill-opacity="0.200"/>
<circle cx="430.5" cy="23.8" r="2.15" fill-opacity="0.738"/>
<circle cx="428.2" cy="110.8" r="2.15" fill-opacity="0.200"/>
<circle cx="419.0" cy="71.2" r="2.15" fill-opacity="0.488"/>
<circle cx="434.1" cy="142.2" r="2.15" fill-opacity="0.488"/>
<circle cx="434.0" cy="75.1" r="2.15" fill-opacity="0.200"/>
<circle cx="416.0" cy="115.8" r="2.15" fill-opacity="0.200"/>
<circle cx="422.2" cy="118.3" r="2.15" fill-opacity="0.200"/>
<circle cx="419.9" cy="50.5" r="2.15" fill-opacity="0.360"/>
<circle cx="414.8" cy="129.8" r="2.15" fill-opacity="0.488"/>
<circle cx="415.6" cy="92.0" r="2.15" fill-opacity="0.914"/>
<circle cx="415.6" cy="26.8" r="2.15" fill-opacity="0.200"/>
<circle cx="415.6" cy="27.8" r="2.15" fill-opacity="0.360"/>
<circle cx="438.8" cy="103.4" r="2.15" fill-opacity="0.200"/>
<circle cx="417.8" cy="21.8" r="2.15" fill-opacity="0.200"/>
<circle cx="417.5" cy="113.8" r="2.15" fill-opacity="0.360"/>
<circle cx="431.6" cy="100.1" r="2.15" fill-opacity="0.200"/>
<circle cx="434.0" cy="40.8" r="2.15" fill-opacity="0.360"/>
<circle cx="428.9" cy="71.1" r="2.15" fill-opacity="0.200"/>
<circle cx="425.7" cy="93.4" r="2.15" fill-opacity="0.360"/>
<circle cx="433.6" cy="94.7" r="2.15" fill-opacity="0.790"/>
<circle cx="425.6" cy="68.2" r="2.15" fill-opacity="0.360"/>
<circle cx="431.1" cy="104.9" r="2.15" fill-opacity="0.200"/>
<circle cx="428.1" cy="73.0" r="2.15" fill-opacity="0.360"/>
<circle cx="417.0" cy="91.0" r="2.15" fill-opacity="0.360"/>
<circle cx="418.1" cy="60.8" r="2.15" fill-opacity="0.590"/>
<circle cx="438.3" cy="134.4" r="2.15" fill-opacity="0.200"/>
<circle cx="431.0" cy="172.8" r="2.15" fill-opacity="0.200"/>
<circle cx="434.1" cy="87.4" r="2.15" fill-opacity="0.590"/>
<circle cx="435.7" cy="29.6" r="2.15" fill-opacity="0.200"/>
<circle cx="434.5" cy="87.1" r="2.15" fill-opacity="0.200"/>
<circle cx="415.5" cy="83.2" r="2.15" fill-opacity="0.200"/>
<circle cx="420.1" cy="93.2" r="2.15" fill-opacity="0.200"/>
<circle cx="418.8" cy="146.9" r="2.15" fill-opacity="0.200"/>
<circle cx="418.1" cy="162.3" r="2.15" fill-opacity="0.200"/>
<circle cx="414.5" cy="108.9" r="2.15" fill-opacity="0.360"/>
<circle cx="415.7" cy="65.7" r="2.15" fill-opacity="0.200"/>
<circle cx="421.3" cy="146.0" r="2.15" fill-opacity="0.672"/>
<circle cx="428.0" cy="43.3" r="2.15" fill-opacity="0.200"/>
<circle cx="425.7" cy="73.0" r="2.15" fill-opacity="0.360"/>
<circle cx="436.3" cy="104.9" r="2.15" fill-opacity="0.200"/>
<circle cx="429.8" cy="142.4" r="2.15" fill-opacity="0.200"/>
<circle cx="419.8" cy="123.0" r="2.15" fill-opacity="0.200"/>
<circle cx="432.7" cy="89.0" r="2.15" fill-opacity="0.200"/>
<circle cx="416.9" cy="21.2" r="2.15" fill-opacity="0.590"/>
<circle cx="427.8" cy="80.9" r="2.15" fill-opacity="0.866"/>
<circle cx="417.3" cy="69.9" r="2.15" fill-opacity="0.200"/>
<circle cx="414.9" cy="116.9" r="2.15" fill-opacity="0.200"/>
<circle cx="437.2" cy="38.8" r="2.15" fill-opacity="0.200"/>
<circle cx="422.4" cy="70.4" r="2.15" fill-opacity="0.360"/>
<circle cx="415.8" cy="50.6" r="2.15" fill-opacity="0.200"/>
<circle cx="426.6" cy="63.2" r="2.15" fill-opacity="0.832"/>
<circle cx="413.9" cy="136.4" r="2.15" fill-opacity="0.200"/>
<circle cx="419.0" cy="141.3" r="2.15" fill-opacity="0.200"/>
<circle cx="421.7" cy="150.8" r="2.15" fill-opacity="0.200"/>
<circle cx="422.0" cy="143.5" r="2.15" fill-opacity="0.590"/>
<circle cx="423.6" cy="90.5" r="2.15" fill-opacity="0.200"/>
<circle cx="421.7" cy="87.2" r="2.15" fill-opacity="0.672"/>
<circle cx="430.7" cy="108.9" r="2.15" fill-opacity="0.200"/>
<circle cx="426.6" cy="119.4" r="2.15" fill-opacity="0.488"/>
<circle cx="428.3" cy="138.6" r="2.15" fill-opacity="0.200"/>
<circle cx="418.4" cy="70.7" r="2.15" fill-opacity="0.790"/>
<circle cx="427.0" cy="21.3" r="2.15" fill-opacity="0.360"/>
<circle cx="431.1" cy="113.4" r="2.15" fill-opacity="0.672"/>
<circle cx="423.2" cy="23.2" r="2.15" fill-opacity="0.200"/>
<circle cx="423.7" cy="112.6" r="2.15" fill-opacity="0.590"/>
<circle cx="428.6" cy="146.1" r="2.15" fill-opacity="0.200"/>
<circle cx="414.4" cy="127.8" r="2.15" fill-opacity="0.200"/>
<circle cx="421.5" cy="35.6" r="2.15" fill-opacity="0.360"/>
<circle cx="429.3" cy="81.0" r="2.15" fill-opacity="0.672"/>
<circle cx="431.4" cy="61.8" r="2.15" fill-opacity="0.672"/>
<circle cx="420.4" cy="152.1" r="2.15" fill-opacity="0.360"/>
<circle cx="424.3" cy="52.5" r="2.15" fill-opacity="0.200"/>
<circle cx="437.1" cy="66.8" r="2.15" fill-opacity="0.200"/>
<circle cx="416.9" cy="69.7" r="2.15" fill-opacity="0.200"/>
<circle cx="432.3" cy="75.8" r="2.15" fill-opacity="0.360"/>
<circle cx="426.7" cy="153.6" r="2.15" fill-opacity="0.200"/>
<circle cx="421.3" cy="46.7" r="2.15" fill-opacity="0.931"/>
<circle cx="418.7" cy="130.6" r="2.15" fill-opacity="0.672"/>
<circle cx="437.5" cy="27.5" r="2.15" fill-opacity="0.200"/>
<circle cx="428.9" cy="135.6" r="2.15" fill-opacity="0.200"/>
<circle cx="419.8" cy="60.0" r="2.15" fill-opacity="0.200"/>
<circle cx="428.8" cy="30.3" r="2.15" fill-opacity="0.360"/>
<circle cx="413.9" cy="109.5" r="2.15" fill-opacity="0.200"/>
<circle cx="436.8" cy="55.7" r="2.15" fill-opacity="0.200"/>
<circle cx="415.0" cy="112.1" r="2.15" fill-opacity="0.488"/>
<circle cx="419.4" cy="75.0" r="2.15" fill-opacity="0.200"/>
<circle cx="417.4" cy="110.0" r="2.15" fill-opacity="0.832"/>
<circle cx="422.6" cy="48.8" r="2.15" fill-opacity="0.200"/>
<circle cx="432.5" cy="37.0" r="2.15" fill-opacity="0.672"/>
<circle cx="438.0" cy="69.1" r="2.15" fill-opacity="0.200"/>
<circle cx="428.9" cy="146.4" r="2.15" fill-opacity="0.200"/>
<circle cx="425.7" cy="121.9" r="2.15" fill-opacity="0.360"/>
<circle cx="415.0" cy="127.0" r="2.15" fill-opacity="0.200"/>
<circle cx="428.6" cy="147.9" r="2.15" fill-opacity="0.672"/>
<circle cx="429.6" cy="115.2" r="2.15" fill-opacity="0.672"/>
<circle cx="415.4" cy="154.2" r="2.15" fill-opacity="0.488"/>
<circle cx="425.4" cy="51.8" r="2.15" fill-opacity="0.200"/>
<circle cx="420.6" cy="149.1" r="2.15" fill-opacity="0.790"/>
<circle cx="415.1" cy="22.9" r="2.15" fill-opacity="0.200"/>
<circle cx="416.7" cy="129.1" r="2.15" fill-opacity="0.200"/>
<circle cx="423.2" cy="121.2" r="2.15" fill-opacity="0.200"/>
<circle cx="419.0" cy="123.7" r="2.15" fill-opacity="0.488"/>
<circle cx="437.2" cy="112.1" r="2.15" fill-opacity="0.200"/>
<circle cx="421.2" cy="124.1" r="2.15" fill-opacity="0.790"/>
<circle cx="430.5" cy="27.9" r="2.15" fill-opacity="0.738"/>
<circle cx="433.4" cy="116.6" r="2.15" fill-opacity="0.738"/>
<circle cx="414.7" cy="87.7" r="2.15" fill-opacity="0.200"/>
<circle cx="414.6" cy="137.1" r="2.15" fill-opacity="0.488"/>
<circle cx="425.6" cy="74.8" r="2.15" fill-opacity="0.200"/>
<circle cx="428.4" cy="38.5" r="2.15" fill-opacity="0.200"/>
<circle cx="419.7" cy="68.8" r="2.15" fill-opacity="0.488"/>
<circle cx="426.7" cy="26.5" r="2.15" fill-opacity="0.200"/>
<circle cx="421.5" cy="26.3" r="2.15" fill-opacity="0.200"/>
<circle cx="437.7" cy="29.6" r="2.15" fill-opacity="0.893"/>
<circle cx="419.1" cy="74.1" r="2.15" fill-opacity="0.200"/>
<circle cx="417.3" cy="148.8" r="2.15" fill-opacity="0.200"/>
<circle cx="414.2" cy="128.2" r="2.15" fill-opacity="0.200"/>
<circle cx="415.6" cy="96.6" r="2.15" fill-opacity="0.360"/>
<circle cx="437.2" cy="75.5" r="2.15" fill-opacity="0.200"/>
<circle cx="433.5" cy="52.9" r="2.15" fill-opacity="0.200"/>
<circle cx="432.6" cy="87.0" r="2.15" fill-opacity="0.200"/>
<circle cx="425.9" cy="142.1" r="2.15" fill-opacity="0.488"/>
<circle cx="427.5" cy="151.4" r="2.15" fill-opacity="0.200"/>
<circle cx="419.5" cy="101.6" r="2.15" fill-opacity="0.360"/>
<circle cx="432.0" cy="104.1" r="2.15" fill-opacity="0.200"/>
<circle cx="433.5" cy="91.7" r="2.15" fill-opacity="0.200"/>
<circle cx="431.5" cy="95.8" r="2.15" fill-opacity="0.200"/>
<circle cx="414.2" cy="151.3" r="2.15" fill-opacity="0.672"/>
<circle cx="432.8" cy="104.8" r="2.15" fill-opacity="0.200"/>
<circle cx="426.9" cy="127.7" r="2.15" fill-opacity="0.360"/>
<circle cx="428.5" cy="153.5" r="2.15" fill-opacity="0.200"/>
<circle cx="426.8" cy="66.8" r="2.15" fill-opacity="0.200"/>
<circle cx="421.3" cy="107.0" r="2.15" fill-opacity="0.200"/>
<circle cx="416.3" cy="148.2" r="2.15" fill-opacity="0.832"/>
<circle cx="422.2" cy="83.5" r="2.15" fill-opacity="0.200"/>
<circle cx="432.2" cy="98.2" r="2.15" fill-opacity="0.200"/>
<circle cx="421.0" cy="72.6" r="2.15" fill-opacity="0.200"/>
<circle cx="435.4" cy="71.7" r="2.15" fill-opacity="0.200"/>
<circle cx="427.7" cy="32.5" r="2.15" fill-opacity="0.360"/>
<circle cx="422.4" cy="155.9" r="2.15" fill-opacity="0.200"/>
<circle cx="426.3" cy="83.8" r="2.15" fill-opacity="0.200"/>
<circle cx="422.9" cy="25.5" r="2.15" fill-opacity="0.200"/>
<circle cx="435.0" cy="101.7" r="2.15" fill-opacity="0.590"/>
<circle cx="422.6" cy="68.6" r="2.15" fill-opacity="0.590"/>
<circle cx="418.7" cy="94.3" r="2.15" fill-opacity="0.200"/>
<circle cx="435.7" cy="57.9" r="2.15" fill-opacity="0.200"/>
<circle cx="438.0" cy="66.2" r="2.15" fill-opacity="0.200"/>
<circle cx="420.3" cy="149.9" r="2.15" fill-opacity="0.200"/>
<circle cx="414.0" cy="104.4" r="2.15" fill-opacity="0.200"/>
<circle cx="426.6" cy="32.4" r="2.15" fill-opacity="0.672"/>
<circle cx="417.9" cy="85.4" r="2.15" fill-opacity="0.931"/>
<circle cx="436.8" cy="27.3" r="2.15" fill-opacity="0.672"/>
<circle cx="416.7" cy="122.7" r="2.15" fill-opacity="0.200"/>
<circle cx="433.9" cy="88.0" r="2.15" fill-opacity="0.200"/>
<circle cx="437.1" cy="138.7" r="2.15" fill-opacity="0.488"/>
<circle cx="427.6" cy="103.2" r="2.15" fill-opacity="0.488"/>
<circle cx="415.8" cy="106.5" r="2.15" fill-opacity="0.200"/>
<circle cx="424.3" cy="98.8" r="2.15" fill-opacity="0.200"/>
<circle cx="419.4" cy="123.6" r="2.15" fill-opacity="0.488"/>
<circle cx="420.1" cy="52.6" r="2.15" fill-opacity="0.200"/>
<circle cx="423.6" cy="131.8" r="2.15" fill-opacity="0.200"/>
<circle cx="423.7" cy="59.5" r="2.15" fill-opacity="0.360"/>
<circle cx="429.1" cy="33.0" r="2.15" fill-opacity="0.488"/>
<circle cx="414.1" cy="49.9" r="2.15" fill-opacity="0.200"/>
<circle cx="416.9" cy="115.5" r="2.15" fill-opacity="0.200"/>
<circle cx="417.1" cy="31.4" r="2.15" fill-opacity="0.200"/>
<circle cx="423.9" cy="29.0" r="2.15" fill-opacity="0.200"/>
<circle cx="420.5" cy="145.2" r="2.15" fill-opacity="0.738"/>
<circle cx="422.9" cy="41.4" r="2.15" fill-opacity="0.200"/>
<circle cx="420.0" cy="60.6" r="2.15" fill-opacity="0.200"/>
<circle cx="431.8" cy="138.7" r="2.15" fill-opacity="0.200"/>
<circle cx="424.7" cy="43.4" r="2.15" fill-opacity="0.488"/>
<circle cx="420.5" cy="106.1" r="2.15" fill-opacity="0.360"/>
<circle cx="414.2" cy="77.8" r="2.15" fill-opacity="0.200"/>
<circle cx="420.5" cy="145.7" r="2.15" fill-opacity="0.200"/>
<circle cx="415.0" cy="114.8" r="2.15" fill-opacity="0.200"/>
<circle cx="430.6" cy="78.8" r="2.15" fill-opacity="0.360"/>
<circle cx="415.5" cy="29.2" r="2.15" fill-opacity="0.488"/>
<circle cx="419.3" cy="31.0" r="2.15" fill-opacity="0.200"/>
<circle cx="436.5" cy="103.0" r="2.15" fill-opacity="0.488"/>
<circle cx="416.6" cy="98.5" r="2.15" fill-opacity="0.200"/>
<circle cx="423.8" cy="43.0" r="2.15" fill-opacity="0.200"/>
<circle cx="415.0" cy="21.5" r="2.15" fill-opacity="0.200"/>
<circle cx="415.4" cy="147.1" r="2.15" fill-opacity="0.200"/>
<circle cx="437.0" cy="118.2" r="2.15" fill-opacity="0.360"/>
<circle cx="422.1" cy="100.8" r="2.15" fill-opacity="0.993"/>
<circle cx="432.7" cy="72.8" r="2.15" fill-opacity="0.200"/>
<circle cx="428.6" cy="122.3" r="2.15" fill-opacity="0.360"/>
<circle cx="431.0" cy="51.2" r="2.15" fill-opacity="0.200"/>
<circle cx="423.0" cy="114.1" r="2.15" fill-opacity="0.200"/>
<circle cx="418.7" cy="153.0" r="2.15" fill-opacity="0.200"/>
<circle cx="425.8" cy="107.7" r="2.15" fill-opacity="0.200"/>
<circle cx="418.1" cy="90.6" r="2.15" fill-opacity="0.360"/>
<circle cx="418.9" cy="38.2" r="2.15" fill-opacity="0.200"/>
<circle cx="425.8" cy="86.9" r="2.15" fill-opacity="0.200"/>
<circle cx="427.9" cy="61.5" r="2.15" fill-opacity="0.200"/>
<circle cx="414.8" cy="109.4" r="2.15" fill-opacity="0.200"/>
<circle cx="426.5" cy="127.1" r="2.15" fill-opacity="0.488"/>
<circle cx="421.3" cy="111.8" r="2.15" fill-opacity="0.590"/>
<circle cx="428.3" cy="121.6" r="2.15" fill-opacity="0.200"/>
<circle cx="438.5" cy="51.9" r="2.15" fill-opacity="0.200"/>
<circle cx="435.6" cy="57.1" r="2.15" fill-opacity="0.360"/>
<circle cx="418.7" cy="112.3" r="2.15" fill-opacity="0.200"/>
<circle cx="424.3" cy="73.0" r="2.15" fill-opacity="0.200"/>
<circle cx="431.2" cy="143.9" r="2.15" fill-opacity="0.360"/>
<circle cx="416.2" cy="126.0" r="2.15" fill-opacity="0.200"/>
<circle cx="427.0" cy="86.7" r="2.15" fill-opacity="0.360"/>
<circle cx="433.5" cy="121.8" r="2.15" fill-opacity="0.488"/>
<circle cx="431.5" cy="78.2" r="2.15" fill-opacity="0.360"/>
<circle cx="415.8" cy="89.8" r="2.15" fill-opacity="0.200"/>
<circle cx="435.5" cy="42.1" r="2.15" fill-opacity="0.200"/>
<circle cx="419.3" cy="156.2" r="2.15" fill-opacity="0.200"/>
<circle cx="418.5" cy="98.7" r="2.15" fill-opacity="0.200"/>
<circle cx="435.0" cy="25.2" r="2.15" fill-opacity="0.590"/>
<circle cx="429.2" cy="90.9" r="2.15" fill-opacity="0.488"/>
<circle cx="414.4" cy="27.5" r="2.15" fill-opacity="0.590"/>
<circle cx="436.8" cy="18.9" r="2.15" fill-opacity="0.488"/>
<circle cx="427.3" cy="70.2" r="2.15" fill-opacity="0.200"/>
<circle cx="432.1" cy="121.4" r="2.15" fill-opacity="0.200"/>
<circle cx="433.7" cy="125.6" r="2.15" fill-opacity="0.200"/>
<circle cx="418.7" cy="79.4" r="2.15" fill-opacity="0.360"/>
<circle cx="425.8" cy="85.7" r="2.15" fill-opacity="0.488"/>
<circle cx="431.5" cy="144.2" r="2.15" fill-opacity="0.360"/>
<circle cx="416.7" cy="134.8" r="2.15" fill-opacity="0.790"/>
<circle cx="436.7" cy="40.7" r="2.15" fill-opacity="0.200"/>
<circle cx="434.3" cy="29.4" r="2.15" fill-opacity="0.200"/>
<circle cx="426.7" cy="50.1" r="2.15" fill-opacity="0.200"/>
<circle cx="422.5" cy="65.1" r="2.15" fill-opacity="0.590"/>
<circle cx="418.3" cy="126.1" r="2.15" fill-opacity="0.200"/>
<circle cx="427.6" cy="150.8" r="2.15" fill-opacity="0.360"/>
<circle cx="436.0" cy="18.8" r="2.15" fill-opacity="0.200"/>
<circle cx="431.6" cy="88.8" r="2.15" fill-opacity="0.200"/>
<circle cx="418.0" cy="111.4" r="2.15" fill-opacity="0.200"/>
<circle cx="434.0" cy="25.0" r="2.15" fill-opacity="0.832"/>
<circle cx="418.9" cy="135.6" r="2.15" fill-opacity="0.200"/>
<circle cx="427.1" cy="19.9" r="2.15" fill-opacity="0.200"/>
<circle cx="423.0" cy="33.3" r="2.15" fill-opacity="0.738"/>
<circle cx="437.5" cy="115.6" r="2.15" fill-opacity="0.590"/>
<circle cx="416.0" cy="79.5" r="2.15" fill-opacity="0.200"/>
<circle cx="414.7" cy="33.8" r="2.15" fill-opacity="0.360"/>
<circle cx="437.7" cy="113.2" r="2.15" fill-opacity="0.200"/>
<circle cx="415.0" cy="53.9" r="2.15" fill-opacity="0.200"/>
<circle cx="417.0" cy="103.3" r="2.15" fill-opacity="0.200"/>
<circle cx="429.4" cy="142.4" r="2.15" fill-opacity="0.200"/>
<circle cx="416.8" cy="115.1" r="2.15" fill-opacity="0.360"/>
<circle cx="417.7" cy="52.5" r="2.15" fill-opacity="0.200"/>
<circle cx="416.3" cy="47.3" r="2.15" fill-opacity="0.200"/>
<circle cx="416.4" cy="105.8" r="2.15" fill-opacity="0.200"/>
<circle cx="432.2" cy="111.0" r="2.15" fill-opacity="0.200"/>
<circle cx="418.7" cy="133.3" r="2.15" fill-opacity="0.200"/>
<circle cx="425.2" cy="118.3" r="2.15" fill-opacity="0.200"/>
<circle cx="414.1" cy="120.9" r="2.15" fill-opacity="0.590"/>
<circle cx="429.6" cy="39.7" r="2.15" fill-opacity="0.200"/>
<circle cx="424.7" cy="100.1" r="2.15" fill-opacity="0.200"/>
<circle cx="419.2" cy="54.2" r="2.15" fill-opacity="0.200"/>
<circle cx="430.8" cy="145.7" r="2.15" fill-opacity="0.200"/>
<circle cx="422.2" cy="34.7" r="2.15" fill-opacity="0.200"/>
<circle cx="432.0" cy="74.5" r="2.15" fill-opacity="0.200"/>
<circle cx="435.7" cy="60.5" r="2.15" fill-opacity="0.200"/>
<circle cx="434.7" cy="86.1" r="2.15" fill-opacity="0.200"/>
<circle cx="414.5" cy="68.2" r="2.15" fill-opacity="0.488"/>
<circle cx="418.3" cy="117.3" r="2.15" fill-opacity="0.200"/>
<circle cx="433.2" cy="118.2" r="2.15" fill-opacity="0.200"/>
<circle cx="417.4" cy="89.9" r="2.15" fill-opacity="0.590"/>
<circle cx="430.9" cy="30.8" r="2.15" fill-opacity="0.360"/>
<circle cx="418.7" cy="97.5" r="2.15" fill-opacity="0.200"/>
<circle cx="433.4" cy="38.7" r="2.15" fill-opacity="0.488"/>
<circle cx="430.6" cy="125.3" r="2.15" fill-opacity="0.200"/>
<circle cx="433.0" cy="65.9" r="2.15" fill-opacity="0.200"/>
<circle cx="429.2" cy="82.2" r="2.15" fill-opacity="0.590"/>
<circle cx="434.6" cy="116.8" r="2.15" fill-opacity="0.200"/>
<circle cx="414.5" cy="127.6" r="2.15" fill-opacity="0.200"/>
<circle cx="414.2" cy="118.1" r="2.15" fill-opacity="0.200"/>
<circle cx="420.4" cy="89.9" r="2.15" fill-opacity="0.200"/>
<circle cx="428.8" cy="131.2" r="2.15" fill-opacity="0.200"/>
<circle cx="418.2" cy="152.2" r="2.15" fill-opacity="0.200"/>
<circle cx="415.4" cy="46.0" r="2.15" fill-opacity="0.672"/>
<circle cx="415.9" cy="129.2" r="2.15" fill-opacity="0.200"/>
<circle cx="421.8" cy="125.8" r="2.15" fill-opacity="0.200"/>
<circle cx="427.3" cy="22.2" r="2.15" fill-opacity="0.200"/>
<circle cx="417.2" cy="141.6" r="2.15" fill-opacity="0.200"/>
<circle cx="419.4" cy="48.8" r="2.15" fill-opacity="0.200"/>
<circle cx="418.6" cy="117.2" r="2.15" fill-opacity="0.200"/>
<circle cx="428.3" cy="143.0" r="2.15" fill-opacity="0.200"/>
<circle cx="416.3" cy="79.6" r="2.15" fill-opacity="0.200"/>
<circle cx="438.0" cy="98.4" r="2.15" fill-opacity="0.200"/>
<circle cx="427.5" cy="63.4" r="2.15" fill-opacity="0.200"/>
<circle cx="423.2" cy="67.2" r="2.15" fill-opacity="0.590"/>
<circle cx="425.1" cy="108.7" r="2.15" fill-opacity="0.200"/>
<circle cx="430.5" cy="129.1" r="2.15" fill-opacity="0.200"/>
<circle cx="427.5" cy="147.3" r="2.15" fill-opacity="0.360"/>
<circle cx="415.3" cy="44.4" r="2.15" fill-opacity="0.200"/>
<circle cx="434.1" cy="78.2" r="2.15" fill-opacity="0.200"/>
<circle cx="426.2" cy="39.2" r="2.15" fill-opacity="0.360"/>
<circle cx="417.4" cy="87.0" r="2.15" fill-opacity="0.200"/>
<circle cx="436.6" cy="60.9" r="2.15" fill-opacity="0.200"/>
<circle cx="415.6" cy="128.4" r="2.15" fill-opacity="0.200"/>
<circle cx="420.5" cy="111.2" r="2.15" fill-opacity="0.200"/>
<circle cx="435.2" cy="53.2" r="2.15" fill-opacity="0.200"/>
<circle cx="422.2" cy="64.4" r="2.15" fill-opacity="0.200"/>
<circle cx="417.8" cy="108.6" r="2.15" fill-opacity="0.200"/>
<circle cx="424.7" cy="71.5" r="2.15" fill-opacity="0.738"/>
<circle cx="425.0" cy="36.2" r="2.15" fill-opacity="0.200"/>
<circle cx="428.9" cy="85.1" r="2.15" fill-opacity="0.200"/>
<circle cx="428.9" cy="130.7" r="2.15" fill-opacity="0.488"/>
<circle cx="416.9" cy="145.7" r="2.15" fill-opacity="0.200"/>
<circle cx="438.6" cy="124.8" r="2.15" fill-opacity="0.672"/>
<circle cx="431.1" cy="52.0" r="2.15" fill-opacity="0.200"/>
<circle cx="415.0" cy="141.5" r="2.15" fill-opacity="0.200"/>
<circle cx="420.2" cy="146.1" r="2.15" fill-opacity="0.200"/>
<circle cx="414.2" cy="79.2" r="2.15" fill-opacity="0.360"/>
<circle cx="423.2" cy="102.6" r="2.15" fill-opacity="0.832"/>
<circle cx="428.0" cy="137.9" r="2.15" fill-opacity="0.200"/>
<circle cx="429.9" cy="34.1" r="2.15" fill-opacity="0.200"/>
<circle cx="428.2" cy="132.0" r="2.15" fill-opacity="0.738"/>
<circle cx="413.9" cy="35.2" r="2.15" fill-opacity="0.488"/>
<circle cx="419.2" cy="91.5" r="2.15" fill-opacity="0.200"/>
<circle cx="421.6" cy="104.1" r="2.15" fill-opacity="0.200"/>
<circle cx="430.1" cy="134.8" r="2.15" fill-opacity="0.200"/>
<circle cx="430.1" cy="139.2" r="2.15" fill-opacity="0.360"/>
<circle cx="419.4" cy="84.0" r="2.15" fill-opacity="0.200"/>
<circle cx="438.8" cy="27.2" r="2.15" fill-opacity="0.488"/>
<circle cx="420.1" cy="49.1" r="2.15" fill-opacity="0.200"/>
<circle cx="434.9" cy="92.8" r="2.15" fill-opacity="0.200"/>
<circle cx="436.6" cy="132.1" r="2.15" fill-opacity="0.200"/>
<circle cx="416.2" cy="140.5" r="2.15" fill-opacity="0.200"/>
<circle cx="421.0" cy="150.1" r="2.15" fill-opacity="0.590"/>
<circle cx="419.6" cy="105.3" r="2.15" fill-opacity="0.200"/>
<circle cx="438.6" cy="26.8" r="2.15" fill-opacity="0.200"/>
<circle cx="418.5" cy="93.8" r="2.15" fill-opacity="0.738"/>
<circle cx="428.4" cy="75.4" r="2.15" fill-opacity="0.200"/>
<circle cx="421.1" cy="84.0" r="2.15" fill-opacity="0.200"/>
<circle cx="436.7" cy="26.7" r="2.15" fill-opacity="0.200"/>
<circle cx="415.6" cy="101.9" r="2.15" fill-opacity="0.200"/>
<circle cx="430.2" cy="120.2" r="2.15" fill-opacity="0.200"/>
<circle cx="423.9" cy="25.8" r="2.15" fill-opacity="0.738"/>
<circle cx="420.8" cy="66.5" r="2.15" fill-opacity="0.200"/>
<circle cx="424.0" cy="116.3" r="2.15" fill-opacity="0.200"/>
<circle cx="418.8" cy="107.5" r="2.15" fill-opacity="0.738"/>
<circle cx="426.0" cy="71.0" r="2.15" fill-opacity="0.200"/>
<circle cx="420.6" cy="156.9" r="2.15" fill-opacity="0.360"/>
<circle cx="423.1" cy="124.3" r="2.15" fill-opacity="0.488"/>
<circle cx="432.5" cy="36.2" r="2.15" fill-opacity="0.200"/>
<circle cx="421.4" cy="110.4" r="2.15" fill-opacity="0.893"/>
<circle cx="426.0" cy="24.6" r="2.15" fill-opacity="0.200"/>
<circle cx="427.2" cy="113.4" r="2.15" fill-opacity="0.200"/>
<circle cx="419.9" cy="113.0" r="2.15" fill-opacity="0.200"/>
<circle cx="422.7" cy="119.9" r="2.15" fill-opacity="0.200"/>
<circle cx="429.2" cy="135.3" r="2.15" fill-opacity="0.672"/>
<circle cx="420.1" cy="146.2" r="2.15" fill-opacity="0.200"/>
<circle cx="424.7" cy="38.0" r="2.15" fill-opacity="0.200"/>
<circle cx="430.6" cy="126.9" r="2.15" fill-opacity="0.200"/>
<circle cx="413.9" cy="94.8" r="2.15" fill-opacity="0.200"/>
<circle cx="425.7" cy="110.5" r="2.15" fill-opacity="0.790"/>
<circle cx="429.0" cy="123.7" r="2.15" fill-opacity="0.995"/>
<circle cx="437.9" cy="57.2" r="2.15" fill-opacity="0.790"/>
<circle cx="418.8" cy="153.7" r="2.15" fill-opacity="0.360"/>
<circle cx="415.1" cy="118.1" r="2.15" fill-opacity="0.360"/>
<circle cx="417.3" cy="80.0" r="2.15" fill-opacity="0.488"/>
<circle cx="429.2" cy="42.7" r="2.15" fill-opacity="0.200"/>
<circle cx="415.2" cy="138.9" r="2.15" fill-opacity="0.200"/>
<circle cx="414.7" cy="93.1" r="2.15" fill-opacity="0.200"/>
<circle cx="420.0" cy="48.6" r="2.15" fill-opacity="0.200"/>
<circle cx="438.7" cy="129.0" r="2.15" fill-opacity="0.200"/>
<circle cx="419.2" cy="105.9" r="2.15" fill-opacity="0.590"/>
<circle cx="416.4" cy="34.9" r="2.15" fill-opacity="0.488"/>
<circle cx="433.3" cy="80.5" r="2.15" fill-opacity="0.200"/>
<circle cx="435.7" cy="51.6" r="2.15" fill-opacity="0.590"/>
<circle cx="420.2" cy="119.0" r="2.15" fill-opacity="0.200"/>
<circle cx="417.8" cy="126.1" r="2.15" fill-opacity="0.200"/>
<circle cx="419.5" cy="136.4" r="2.15" fill-opacity="0.200"/>
<circle cx="414.0" cy="109.7" r="2.15" fill-opacity="0.360"/>
<circle cx="419.9" cy="98.7" r="2.15" fill-opacity="0.360"/>
<circle cx="422.3" cy="127.8" r="2.15" fill-opacity="0.200"/>
<circle cx="416.4" cy="97.6" r="2.15" fill-opacity="0.200"/>
<circle cx="425.4" cy="125.7" r="2.15" fill-opacity="0.360"/>
<circle cx="416.6" cy="138.2" r="2.15" fill-opacity="0.200"/>
<circle cx="414.2" cy="146.8" r="2.15" fill-opacity="0.200"/>
<circle cx="422.3" cy="113.0" r="2.15" fill-opacity="0.488"/>
<circle cx="418.1" cy="109.1" r="2.15" fill-opacity="0.866"/>
<circle cx="437.1" cy="90.5" r="2.15" fill-opacity="0.672"/>
<circle cx="418.9" cy="135.3" r="2.15" fill-opacity="0.200"/>
<circle cx="430.6" cy="63.3" r="2.15" fill-opacity="0.590"/>
<circle cx="432.0" cy="103.0" r="2.15" fill-opacity="0.200"/>
<circle cx="418.5" cy="50.4" r="2.15" fill-opacity="0.200"/>
<circle cx="427.4" cy="125.3" r="2.15" fill-opacity="0.200"/>
<circle cx="422.6" cy="94.3" r="2.15" fill-opacity="0.360"/>
<circle cx="415.7" cy="139.7" r="2.15" fill-opacity="0.200"/>
<circle cx="425.1" cy="21.4" r="2.15" fill-opacity="0.360"/>
<circle cx="415.2" cy="130.8" r="2.15" fill-opacity="0.200"/>
<circle cx="430.7" cy="22.6" r="2.15" fill-opacity="0.200"/>
<circle cx="417.2" cy="54.1" r="2.15" fill-opacity="0.200"/>
<circle cx="419.4" cy="107.6" r="2.15" fill-opacity="0.200"/>
<circle cx="420.3" cy="41.7" r="2.15" fill-opacity="0.832"/>
<circle cx="415.7" cy="137.9" r="2.15" fill-opacity="0.200"/>
<circle cx="419.3" cy="134.9" r="2.15" fill-opacity="0.956"/>
<circle cx="423.2" cy="119.7" r="2.15" fill-opacity="0.590"/>
<circle cx="435.7" cy="50.5" r="2.15" fill-opacity="0.200"/>
<circle cx="424.3" cy="108.3" r="2.15" fill-opacity="0.200"/>
<circle cx="433.3" cy="33.8" r="2.15" fill-opacity="0.488"/>
<circle cx="435.7" cy="21.7" r="2.15" fill-opacity="0.590"/>
<circle cx="415.9" cy="26.9" r="2.15" fill-opacity="0.200"/>
<circle cx="420.3" cy="93.8" r="2.15" fill-opacity="0.866"/>
<circle cx="415.1" cy="78.1" r="2.15" fill-opacity="0.200"/>
<circle cx="422.4" cy="81.2" r="2.15" fill-opacity="0.200"/>
<circle cx="419.5" cy="133.7" r="2.15" fill-opacity="0.200"/>
<circle cx="416.0" cy="107.8" r="2.15" fill-opacity="0.200"/>
<circle cx="424.3" cy="20.1" r="2.15" fill-opacity="0.200"/>
<circle cx="426.5" cy="50.4" r="2.15" fill-opacity="0.360"/>
<circle cx="417.2" cy="122.2" r="2.15" fill-opacity="0.200"/>
<circle cx="429.6" cy="108.9" r="2.15" fill-opacity="0.360"/>
<circle cx="417.4" cy="31.7" r="2.15" fill-opacity="0.200"/>
<circle cx="434.6" cy="30.9" r="2.15" fill-opacity="0.590"/>
<circle cx="424.3" cy="107.5" r="2.15" fill-opacity="0.200"/>
<circle cx="423.3" cy="132.0" r="2.15" fill-opacity="0.360"/>
<circle cx="425.9" cy="41.9" r="2.15" fill-opacity="0.360"/>
<circle cx="431.0" cy="126.4" r="2.15" fill-opacity="0.200"/>
<circle cx="426.1" cy="94.4" r="2.15" fill-opacity="0.360"/>
<circle cx="432.5" cy="136.2" r="2.15" fill-opacity="0.200"/>
<circle cx="428.4" cy="69.6" r="2.15" fill-opacity="0.590"/>
<circle cx="416.7" cy="118.2" r="2.15" fill-opacity="0.360"/>
<circle cx="429.7" cy="20.0" r="2.15" fill-opacity="0.488"/>
<circle cx="428.9" cy="152.2" r="2.15" fill-opacity="0.200"/>
<circle cx="429.9" cy="68.6" r="2.15" fill-opacity="0.488"/>
<circle cx="436.8" cy="88.4" r="2.15" fill-opacity="0.200"/>
<circle cx="418.4" cy="114.3" r="2.15" fill-opacity="0.200"/>
<circle cx="434.1" cy="58.0" r="2.15" fill-opacity="0.672"/>
<circle cx="423.0" cy="28.0" r="2.15" fill-opacity="0.200"/>
<circle cx="424.3" cy="140.0" r="2.15" fill-opacity="0.360"/>
<circle cx="426.3" cy="97.8" r="2.15" fill-opacity="0.200"/>
<circle cx="414.6" cy="42.1" r="2.15" fill-opacity="0.672"/>
<circle cx="427.6" cy="70.1" r="2.15" fill-opacity="0.200"/>
<circle cx="417.0" cy="36.5" r="2.15" fill-opacity="0.200"/>
<circle cx="434.1" cy="109.2" r="2.15" fill-opacity="0.200"/>
<circle cx="418.5" cy="137.0" r="2.15" fill-opacity="0.738"/>
<circle cx="418.1" cy="123.1" r="2.15" fill-opacity="0.488"/>
<circle cx="415.3" cy="86.3" r="2.15" fill-opacity="0.672"/>
<circle cx="422.7" cy="50.6" r="2.15" fill-opacity="0.738"/>
<circle cx="435.8" cy="44.2" r="2.15" fill-opacity="0.200"/>
<circle cx="429.9" cy="37.0" r="2.15" fill-opacity="0.200"/>
<circle cx="421.4" cy="94.4" r="2.15" fill-opacity="0.360"/>
<circle cx="414.8" cy="104.0" r="2.15" fill-opacity="0.200"/>
<circle cx="418.7" cy="61.8" r="2.15" fill-opacity="0.200"/>
<circle cx="418.1" cy="155.1" r="2.15" fill-opacity="0.200"/>
<circle cx="435.7" cy="52.6" r="2.15" fill-opacity="0.200"/>
<circle cx="431.7" cy="133.2" r="2.15" fill-opacity="0.200"/>
<circle cx="417.5" cy="39.1" r="2.15" fill-opacity="0.200"/>
<circle cx="428.3" cy="30.7" r="2.15" fill-opacity="0.200"/>
<circle cx="416.9" cy="121.5" r="2.15" fill-opacity="0.200"/>
<circle cx="414.7" cy="104.4" r="2.15" fill-opacity="0.360"/>
<circle cx="416.8" cy="109.8" r="2.15" fill-opacity="0.590"/>
<circle cx="425.8" cy="51.2" r="2.15" fill-opacity="0.200"/>
<circle cx="416.5" cy="148.3" r="2.15" fill-opacity="0.200"/>
<circle cx="416.8" cy="103.9" r="2.15" fill-opacity="0.738"/>
<circle cx="422.7" cy="146.0" r="2.15" fill-opacity="0.672"/>
<circle cx="423.7" cy="56.5" r="2.15" fill-opacity="0.360"/>
<circle cx="419.8" cy="123.9" r="2.15" fill-opacity="0.200"/>
<circle cx="418.3" cy="24.7" r="2.15" fill-opacity="0.200"/>
<circle cx="429.9" cy="148.7" r="2.15" fill-opacity="0.200"/>
<circle cx="417.5" cy="130.2" r="2.15" fill-opacity="0.360"/>
<circle cx="416.1" cy="69.4" r="2.15" fill-opacity="0.200"/>
<circle cx="436.0" cy="104.5" r="2.15" fill-opacity="0.738"/>
<circle cx="416.9" cy="114.8" r="2.15" fill-opacity="0.360"/>
<circle cx="415.1" cy="119.7" r="2.15" fill-opacity="0.200"/>
<circle cx="415.0" cy="66.4" r="2.15" fill-opacity="0.200"/>
<circle cx="422.7" cy="57.3" r="2.15" fill-opacity="0.200"/>
<circle cx="417.9" cy="113.6" r="2.15" fill-opacity="0.488"/>
<circle cx="426.2" cy="32.3" r="2.15" fill-opacity="0.360"/>
<circle cx="431.0" cy="152.0" r="2.15" fill-opacity="0.200"/>
<circle cx="435.1" cy="125.5" r="2.15" fill-opacity="0.200"/>
<circle cx="428.0" cy="26.0" r="2.15" fill-opacity="0.200"/>
<circle cx="427.6" cy="131.5" r="2.15" fill-opacity="0.200"/>
<circle cx="422.0" cy="109.1" r="2.15" fill-opacity="0.200"/>
<circle cx="418.5" cy="89.7" r="2.15" fill-opacity="0.488"/>
<circle cx="429.3" cy="81.9" r="2.15" fill-opacity="0.200"/>
<circle cx="417.7" cy="38.3" r="2.15" fill-opacity="0.360"/>
<circle cx="434.7" cy="96.7" r="2.15" fill-opacity="0.488"/>
<circle cx="419.2" cy="102.7" r="2.15" fill-opacity="0.200"/>
<circle cx="428.1" cy="48.5" r="2.15" fill-opacity="0.200"/>
<circle cx="423.4" cy="137.9" r="2.15" fill-opacity="0.200"/>
<circle cx="428.8" cy="76.9" r="2.15" fill-opacity="0.200"/>
<circle cx="438.3" cy="132.5" r="2.15" fill-opacity="0.672"/>
<circle cx="431.6" cy="73.9" r="2.15" fill-opacity="0.360"/>
<circle cx="416.0" cy="112.8" r="2.15" fill-opacity="0.360"/>
<circle cx="421.9" cy="133.9" r="2.15" fill-opacity="0.672"/>
<circle cx="413.8" cy="107.3" r="2.15" fill-opacity="0.200"/>
<circle cx="438.5" cy="153.0" r="2.15" fill-opacity="0.790"/>
<circle cx="419.9" cy="116.3" r="2.15" fill-opacity="0.200"/>
<circle cx="417.5" cy="115.0" r="2.15" fill-opacity="0.360"/>
<circle cx="437.2" cy="126.4" r="2.15" fill-opacity="0.200"/>
<circle cx="424.0" cy="142.6" r="2.15" fill-opacity="0.866"/>
<circle cx="433.2" cy="37.9" r="2.15" fill-opacity="0.200"/>
<circle cx="436.3" cy="138.5" r="2.15" fill-opacity="0.200"/>
<circle cx="416.3" cy="116.9" r="2.15" fill-opacity="0.488"/>
<circle cx="421.9" cy="123.0" r="2.15" fill-opacity="0.200"/>
<circle cx="422.7" cy="106.2" r="2.15" fill-opacity="0.360"/>
<circle cx="436.8" cy="108.9" r="2.15" fill-opacity="0.590"/>
<circle cx="426.2" cy="49.3" r="2.15" fill-opacity="0.360"/>
<circle cx="416.9" cy="114.9" r="2.15" fill-opacity="0.200"/>
<circle cx="415.5" cy="112.7" r="2.15" fill-opacity="0.200"/>
<circle cx="415.8" cy="75.0" r="2.15" fill-opacity="0.200"/>
<circle cx="434.2" cy="134.2" r="2.15" fill-opacity="0.360"/>
<circle cx="414.6" cy="115.9" r="2.15" fill-opacity="0.360"/>
<circle cx="425.7" cy="82.4" r="2.15" fill-opacity="0.590"/>
<circle cx="419.6" cy="94.3" r="2.15" fill-opacity="0.200"/>
<circle cx="428.4" cy="74.3" r="2.15" fill-opacity="0.200"/>
<circle cx="418.7" cy="30.4" r="2.15" fill-opacity="0.200"/>
<circle cx="419.1" cy="48.8" r="2.15" fill-opacity="0.488"/>
<circle cx="416.3" cy="150.2" r="2.15" fill-opacity="0.200"/>
<circle cx="424.1" cy="49.1" r="2.15" fill-opacity="0.360"/>
<circle cx="423.1" cy="27.8" r="2.15" fill-opacity="0.200"/>
<circle cx="414.6" cy="154.7" r="2.15" fill-opacity="0.200"/>
<circle cx="438.4" cy="67.0" r="2.15" fill-opacity="0.200"/>
<circle cx="414.3" cy="120.6" r="2.15" fill-opacity="0.200"/>
<circle cx="429.9" cy="43.2" r="2.15" fill-opacity="0.200"/>
<circle cx="432.2" cy="49.7" r="2.15" fill-opacity="0.200"/>
<circle cx="434.7" cy="79.7" r="2.15" fill-opacity="0.200"/>
<circle cx="434.9" cy="103.2" r="2.15" fill-opacity="0.200"/>
<circle cx="416.0" cy="77.7" r="2.15" fill-opacity="0.200"/>
<circle cx="432.8" cy="120.6" r="2.15" fill-opacity="0.200"/>
<circle cx="419.8" cy="117.1" r="2.15" fill-opacity="0.360"/>
<circle cx="416.4" cy="65.7" r="2.15" fill-opacity="0.200"/>
<circle cx="429.3" cy="131.2" r="2.15" fill-opacity="0.200"/>
<circle cx="421.1" cy="103.1" r="2.15" fill-opacity="0.200"/>
<circle cx="417.4" cy="120.0" r="2.15" fill-opacity="0.200"/>
<circle cx="417.5" cy="83.8" r="2.15" fill-opacity="0.200"/>
<circle cx="438.4" cy="72.3" r="2.15" fill-opacity="0.360"/>
<circle cx="429.2" cy="100.4" r="2.15" fill-opacity="0.200"/>
<circle cx="417.3" cy="135.9" r="2.15" fill-opacity="0.590"/>
<circle cx="434.9" cy="121.7" r="2.15" fill-opacity="0.200"/>
<circle cx="419.8" cy="61.6" r="2.15" fill-opacity="0.488"/>
<circle cx="422.7" cy="138.9" r="2.15" fill-opacity="0.200"/>
<circle cx="429.5" cy="52.3" r="2.15" fill-opacity="0.200"/>
<circle cx="415.0" cy="65.5" r="2.15" fill-opacity="0.200"/>
<circle cx="417.6" cy="41.4" r="2.15" fill-opacity="0.200"/>
<circle cx="416.8" cy="89.7" r="2.15" fill-opacity="0.200"/>
<circle cx="432.2" cy="139.2" r="2.15" fill-opacity="0.200"/>
<circle cx="426.1" cy="79.7" r="2.15" fill-opacity="0.488"/>
<circle cx="428.1" cy="49.6" r="2.15" fill-opacity="0.200"/>
<circle cx="416.4" cy="26.9" r="2.15" fill-opacity="0.200"/>
<circle cx="418.9" cy="65.7" r="2.15" fill-opacity="0.200"/>
<circle cx="421.3" cy="24.3" r="2.15" fill-opacity="0.200"/>
<circle cx="421.0" cy="125.2" r="2.15" fill-opacity="0.200"/>
<circle cx="424.3" cy="82.7" r="2.15" fill-opacity="0.200"/>
<circle cx="418.0" cy="111.2" r="2.15" fill-opacity="0.200"/>
<circle cx="438.2" cy="88.0" r="2.15" fill-opacity="0.200"/>
<circle cx="415.9" cy="51.2" r="2.15" fill-opacity="0.200"/>
<circle cx="423.6" cy="105.9" r="2.15" fill-opacity="0.200"/>
<circle cx="421.1" cy="68.2" r="2.15" fill-opacity="0.200"/>
<circle cx="432.2" cy="79.9" r="2.15" fill-opacity="0.866"/>
<circle cx="438.7" cy="163.4" r="2.15" fill-opacity="0.200"/>
<circle cx="418.1" cy="130.0" r="2.15" fill-opacity="0.200"/>
<circle cx="437.1" cy="153.6" r="2.15" fill-opacity="0.200"/>
<circle cx="437.8" cy="33.1" r="2.15" fill-opacity="0.360"/>
<circle cx="423.4" cy="73.8" r="2.15" fill-opacity="0.360"/>
<circle cx="425.2" cy="47.7" r="2.15" fill-opacity="0.672"/>
<circle cx="417.9" cy="133.1" r="2.15" fill-opacity="0.200"/>
<circle cx="419.6" cy="109.0" r="2.15" fill-opacity="0.200"/>
<circle cx="438.3" cy="63.7" r="2.15" fill-opacity="0.200"/>
<circle cx="424.1" cy="139.7" r="2.15" fill-opacity="0.200"/>
<circle cx="436.8" cy="56.0" r="2.15" fill-opacity="0.488"/>
<circle cx="418.7" cy="141.0" r="2.15" fill-opacity="0.200"/>
<circle cx="424.6" cy="32.5" r="2.15" fill-opacity="0.200"/>
<circle cx="436.7" cy="120.6" r="2.15" fill-opacity="0.738"/>
<circle cx="418.4" cy="42.2" r="2.15" fill-opacity="0.200"/>
<circle cx="430.9" cy="48.4" r="2.15" fill-opacity="0.200"/>
<circle cx="429.2" cy="61.2" r="2.15" fill-opacity="0.200"/>
<circle cx="415.0" cy="36.8" r="2.15" fill-opacity="0.200"/>
<circle cx="415.8" cy="87.0" r="2.15" fill-opacity="0.200"/>
<circle cx="417.6" cy="116.6" r="2.15" fill-opacity="0.200"/>
<circle cx="414.2" cy="44.5" r="2.15" fill-opacity="0.200"/>
<circle cx="421.4" cy="79.6" r="2.15" fill-opacity="0.738"/>
<circle cx="416.7" cy="89.4" r="2.15" fill-opacity="0.200"/>
<circle cx="435.6" cy="22.3" r="2.15" fill-opacity="0.790"/>
<circle cx="428.6" cy="60.3" r="2.15" fill-opacity="0.360"/>
<circle cx="425.5" cy="130.8" r="2.15" fill-opacity="0.200"/>
<circle cx="425.8" cy="85.3" r="2.15" fill-opacity="0.200"/>
<circle cx="417.1" cy="88.9" r="2.15" fill-opacity="0.200"/>
<circle cx="417.9" cy="134.9" r="2.15" fill-opacity="0.200"/>
<circle cx="418.7" cy="82.3" r="2.15" fill-opacity="0.360"/>
<circle cx="418.0" cy="104.6" r="2.15" fill-opacity="0.200"/>
<circle cx="416.3" cy="92.1" r="2.15" fill-opacity="0.360"/>
<circle cx="419.3" cy="96.5" r="2.15" fill-opacity="0.200"/>
<circle cx="420.4" cy="65.5" r="2.15" fill-opacity="0.488"/>
<circle cx="437.4" cy="98.6" r="2.15" fill-opacity="0.360"/>
<circle cx="432.4" cy="34.2" r="2.15" fill-opacity="0.488"/>
<circle cx="429.1" cy="37.7" r="2.15" fill-opacity="0.200"/>
<circle cx="419.5" cy="110.5" r="2.15" fill-opacity="0.200"/>
<circle cx="432.4" cy="93.9" r="2.15" fill-opacity="0.200"/>
<circle cx="414.9" cy="126.6" r="2.15" fill-opacity="0.914"/>
<circle cx="427.6" cy="99.6" r="2.15" fill-opacity="0.200"/>
<circle cx="417.4" cy="95.8" r="2.15" fill-opacity="0.738"/>
<circle cx="418.3" cy="41.9" r="2.15" fill-opacity="0.832"/>
<circle cx="419.6" cy="87.8" r="2.15" fill-opacity="0.200"/>
<circle cx="420.0" cy="106.1" r="2.15" fill-opacity="0.200"/>
<circle cx="427.6" cy="122.4" r="2.15" fill-opacity="0.590"/>
<circle cx="425.7" cy="71.2" r="2.15" fill-opacity="0.590"/>
<circle cx="422.0" cy="118.5" r="2.15" fill-opacity="0.360"/>
<circle cx="414.3" cy="136.1" r="2.15" fill-opacity="0.200"/>
<circle cx="424.9" cy="121.6" r="2.15" fill-opacity="0.200"/>
<circle cx="428.5" cy="48.1" r="2.15" fill-opacity="0.200"/>
<circle cx="437.1" cy="149.8" r="2.15" fill-opacity="0.200"/>
<circle cx="421.0" cy="127.9" r="2.15" fill-opacity="0.488"/>
<circle cx="427.0" cy="53.6" r="2.15" fill-opacity="0.360"/>
<circle cx="432.8" cy="28.3" r="2.15" fill-opacity="0.200"/>
<circle cx="421.7" cy="33.3" r="2.15" fill-opacity="0.200"/>
<circle cx="435.4" cy="142.7" r="2.15" fill-opacity="0.200"/>
<circle cx="433.4" cy="125.8" r="2.15" fill-opacity="0.360"/>
<circle cx="426.0" cy="107.1" r="2.15" fill-opacity="0.200"/>
<circle cx="418.3" cy="45.9" r="2.15" fill-opacity="0.200"/>
<circle cx="414.1" cy="83.1" r="2.15" fill-opacity="0.360"/>
<circle cx="419.5" cy="153.1" r="2.15" fill-opacity="0.488"/>
<circle cx="435.0" cy="149.8" r="2.15" fill-opacity="0.200"/>
<circle cx="424.2" cy="98.3" r="2.15" fill-opacity="0.200"/>
<circle cx="431.0" cy="141.4" r="2.15" fill-opacity="0.893"/>
<circle cx="421.6" cy="117.5" r="2.15" fill-opacity="0.200"/>
<circle cx="421.0" cy="150.9" r="2.15" fill-opacity="0.200"/>
<circle cx="424.6" cy="140.7" r="2.15" fill-opacity="0.590"/>
<circle cx="415.0" cy="53.4" r="2.15" fill-opacity="0.200"/>
<circle cx="428.6" cy="150.1" r="2.15" fill-opacity="0.590"/>
<circle cx="429.9" cy="108.4" r="2.15" fill-opacity="0.200"/>
<circle cx="425.4" cy="66.2" r="2.15" fill-opacity="0.200"/>
<circle cx="435.7" cy="58.8" r="2.15" fill-opacity="0.200"/>
<circle cx="424.6" cy="91.5" r="2.15" fill-opacity="0.200"/>
<circle cx="419.6" cy="124.2" r="2.15" fill-opacity="0.200"/>
<circle cx="425.5" cy="46.5" r="2.15" fill-opacity="0.972"/>
<circle cx="423.4" cy="113.4" r="2.15" fill-opacity="0.360"/>
<circle cx="418.5" cy="115.0" r="2.15" fill-opacity="0.200"/>
<circle cx="419.1" cy="48.5" r="2.15" fill-opacity="0.360"/>
<circle cx="417.5" cy="87.7" r="2.15" fill-opacity="0.488"/>
<circle cx="420.6" cy="95.6" r="2.15" fill-opacity="0.200"/>
<circle cx="432.3" cy="128.9" r="2.15" fill-opacity="0.488"/>
<circle cx="437.0" cy="39.6" r="2.15" fill-opacity="0.200"/>
<circle cx="418.1" cy="122.1" r="2.15" fill-opacity="0.360"/>
<circle cx="426.1" cy="139.6" r="2.15" fill-opacity="0.360"/>
<circle cx="421.4" cy="101.2" r="2.15" fill-opacity="0.200"/>
<circle cx="418.7" cy="128.6" r="2.15" fill-opacity="0.738"/>
<circle cx="416.2" cy="94.1" r="2.15" fill-opacity="0.200"/>
<circle cx="417.9" cy="101.6" r="2.15" fill-opacity="0.200"/>
<circle cx="426.8" cy="126.0" r="2.15" fill-opacity="0.200"/>
<circle cx="419.7" cy="151.0" r="2.15" fill-opacity="0.488"/>
<circle cx="414.5" cy="86.5" r="2.15" fill-opacity="0.360"/>
<circle cx="419.6" cy="123.1" r="2.15" fill-opacity="0.200"/>
<circle cx="414.4" cy="63.2" r="2.15" fill-opacity="0.200"/>
<circle cx="421.0" cy="144.4" r="2.15" fill-opacity="0.200"/>
<circle cx="414.7" cy="134.4" r="2.15" fill-opacity="0.200"/>
<circle cx="414.6" cy="100.8" r="2.15" fill-opacity="0.360"/>
<circle cx="422.1" cy="97.4" r="2.15" fill-opacity="0.488"/>
<circle cx="422.7" cy="89.6" r="2.15" fill-opacity="0.200"/>
<circle cx="426.6" cy="77.0" r="2.15" fill-opacity="0.200"/>
<circle cx="417.9" cy="102.7" r="2.15" fill-opacity="0.200"/>
<circle cx="423.4" cy="93.0" r="2.15" fill-opacity="0.200"/>
<circle cx="418.5" cy="115.4" r="2.15" fill-opacity="0.200"/>
<circle cx="418.0" cy="55.1" r="2.15" fill-opacity="0.200"/>
<circle cx="432.0" cy="118.4" r="2.15" fill-opacity="0.200"/>
<circle cx="438.5" cy="45.8" r="2.15" fill-opacity="0.200"/>
<circle cx="420.9" cy="42.9" r="2.15" fill-opacity="0.200"/>
<circle cx="425.2" cy="55.0" r="2.15" fill-opacity="0.200"/>
<circle cx="429.5" cy="44.4" r="2.15" fill-opacity="0.200"/>
<circle cx="432.3" cy="36.5" r="2.15" fill-opacity="0.200"/>
<circle cx="414.2" cy="144.7" r="2.15" fill-opacity="0.200"/>
<circle cx="417.3" cy="81.2" r="2.15" fill-opacity="0.200"/>
<circle cx="421.2" cy="44.1" r="2.15" fill-opacity="0.200"/>
<circle cx="434.8" cy="59.0" r="2.15" fill-opacity="0.893"/>
<circle cx="430.2" cy="78.7" r="2.15" fill-opacity="0.360"/>
<circle cx="419.7" cy="147.4" r="2.15" fill-opacity="0.590"/>
<circle cx="414.1" cy="58.4" r="2.15" fill-opacity="0.200"/>
<circle cx="418.7" cy="94.7" r="2.15" fill-opacity="0.360"/>
<circle cx="418.3" cy="104.2" r="2.15" fill-opacity="0.200"/>
<circle cx="432.2" cy="80.2" r="2.15" fill-opacity="0.200"/>
<circle cx="438.2" cy="23.6" r="2.15" fill-opacity="0.200"/>
<circle cx="427.0" cy="93.0" r="2.15" fill-opacity="0.200"/>
<circle cx="429.8" cy="86.8" r="2.15" fill-opacity="0.200"/>
<circle cx="418.3" cy="153.8" r="2.15" fill-opacity="0.590"/>
<circle cx="432.8" cy="105.4" r="2.15" fill-opacity="0.200"/>
<circle cx="435.8" cy="39.0" r="2.15" fill-opacity="0.200"/>
<circle cx="416.6" cy="141.2" r="2.15" fill-opacity="0.200"/>
<circle cx="415.0" cy="121.1" r="2.15" fill-opacity="0.200"/>
<circle cx="419.8" cy="51.6" r="2.15" fill-opacity="0.200"/>
<circle cx="420.2" cy="28.5" r="2.15" fill-opacity="0.360"/>
<circle cx="417.4" cy="148.5" r="2.15" fill-opacity="0.200"/>
<circle cx="419.3" cy="116.4" r="2.15" fill-opacity="0.200"/>
<circle cx="426.9" cy="125.0" r="2.15" fill-opacity="0.200"/>
<circle cx="422.3" cy="120.3" r="2.15" fill-opacity="0.200"/>
<circle cx="418.5" cy="85.3" r="2.15" fill-opacity="0.200"/>
<circle cx="428.0" cy="37.2" r="2.15" fill-opacity="0.200"/>
<circle cx="437.5" cy="33.5" r="2.15" fill-opacity="0.200"/>
<circle cx="422.5" cy="30.2" r="2.15" fill-opacity="0.200"/>
<circle cx="431.0" cy="77.5" r="2.15" fill-opacity="0.200"/>
<circle cx="424.2" cy="142.0" r="2.15" fill-opacity="0.200"/>
<circle cx="416.0" cy="110.7" r="2.15" fill-opacity="0.200"/>
<circle cx="417.3" cy="116.1" r="2.15" fill-opacity="0.200"/>
<circle cx="415.9" cy="101.8" r="2.15" fill-opacity="0.200"/>
<circle cx="414.0" cy="51.5" r="2.15" fill-opacity="0.200"/>
<circle cx="418.3" cy="83.7" r="2.15" fill-opacity="0.360"/>
<circle cx="420.9" cy="39.2" r="2.15" fill-opacity="0.200"/>
<circle cx="427.2" cy="49.4" r="2.15" fill-opacity="0.200"/>
<circle cx="433.5" cy="123.3" r="2.15" fill-opacity="0.200"/>
<circle cx="415.6" cy="137.6" r="2.15" fill-opacity="0.200"/>
<circle cx="419.0" cy="91.3" r="2.15" fill-opacity="0.590"/>
<circle cx="420.3" cy="70.0" r="2.15" fill-opacity="0.200"/>
<circle cx="421.5" cy="109.8" r="2.15" fill-opacity="0.200"/>
<circle cx="414.3" cy="35.6" r="2.15" fill-opacity="0.200"/>
<circle cx="431.3" cy="134.4" r="2.15" fill-opacity="0.200"/>
<circle cx="417.3" cy="107.2" r="2.15" fill-opacity="0.590"/>
<circle cx="429.2" cy="141.3" r="2.15" fill-opacity="0.590"/>
<circle cx="429.2" cy="61.2" r="2.15" fill-opacity="0.360"/>
<circle cx="415.2" cy="64.5" r="2.15" fill-opacity="0.200"/>
<circle cx="434.2" cy="149.8" r="2.15" fill-opacity="0.488"/>
<circle cx="417.4" cy="146.3" r="2.15" fill-opacity="0.360"/>
<circle cx="420.7" cy="147.4" r="2.15" fill-opacity="0.200"/>
<circle cx="419.5" cy="48.0" r="2.15" fill-opacity="0.200"/>
<circle cx="420.3" cy="148.8" r="2.15" fill-opacity="0.590"/>
<circle cx="417.3" cy="56.9" r="2.15" fill-opacity="0.200"/>
<circle cx="434.2" cy="24.8" r="2.15" fill-opacity="0.200"/>
<circle cx="420.4" cy="93.8" r="2.15" fill-opacity="0.200"/>
<circle cx="424.9" cy="25.3" r="2.15" fill-opacity="0.200"/>
<circle cx="430.5" cy="109.0" r="2.15" fill-opacity="0.200"/>
<circle cx="428.6" cy="23.2" r="2.15" fill-opacity="0.360"/>
<circle cx="430.8" cy="59.8" r="2.15" fill-opacity="0.200"/>
<circle cx="430.6" cy="58.7" r="2.15" fill-opacity="0.590"/>
<circle cx="428.6" cy="133.5" r="2.15" fill-opacity="0.956"/>
<circle cx="422.9" cy="151.7" r="2.15" fill-opacity="0.200"/>
<circle cx="427.3" cy="47.3" r="2.15" fill-opacity="0.360"/>
<circle cx="427.0" cy="77.2" r="2.15" fill-opacity="0.200"/>
<circle cx="422.3" cy="152.0" r="2.15" fill-opacity="0.672"/>
<circle cx="419.9" cy="148.6" r="2.15" fill-opacity="0.200"/>
<circle cx="426.5" cy="36.9" r="2.15" fill-opacity="0.200"/>
<circle cx="417.3" cy="154.0" r="2.15" fill-opacity="0.200"/>
<circle cx="432.7" cy="131.0" r="2.15" fill-opacity="0.360"/>
<circle cx="415.0" cy="89.5" r="2.15" fill-opacity="0.488"/>
<circle cx="414.2" cy="139.4" r="2.15" fill-opacity="0.200"/>
<circle cx="436.6" cy="105.7" r="2.15" fill-opacity="0.738"/>
<circle cx="421.9" cy="113.8" r="2.15" fill-opacity="0.200"/>
<circle cx="426.2" cy="130.6" r="2.15" fill-opacity="0.200"/>
<circle cx="414.4" cy="84.7" r="2.15" fill-opacity="0.200"/>
<circle cx="432.4" cy="110.2" r="2.15" fill-opacity="0.590"/>
<circle cx="414.1" cy="121.0" r="2.15" fill-opacity="0.488"/>
<circle cx="424.0" cy="141.4" r="2.15" fill-opacity="0.590"/>
<circle cx="430.7" cy="80.7" r="2.15" fill-opacity="0.200"/>
<circle cx="425.6" cy="98.3" r="2.15" fill-opacity="0.738"/>
<circle cx="438.1" cy="29.8" r="2.15" fill-opacity="0.790"/>
<circle cx="417.4" cy="37.4" r="2.15" fill-opacity="0.200"/>
<circle cx="431.1" cy="43.7" r="2.15" fill-opacity="0.360"/>
<circle cx="421.5" cy="153.2" r="2.15" fill-opacity="0.200"/>
<circle cx="420.1" cy="105.7" r="2.15" fill-opacity="0.200"/>
<circle cx="438.1" cy="95.4" r="2.15" fill-opacity="0.200"/>
<circle cx="427.1" cy="133.6" r="2.15" fill-opacity="0.200"/>
<circle cx="434.5" cy="143.4" r="2.15" fill-opacity="0.200"/>
<circle cx="425.9" cy="144.7" r="2.15" fill-opacity="0.866"/>
<circle cx="419.1" cy="105.2" r="2.15" fill-opacity="0.200"/>
<circle cx="415.6" cy="137.1" r="2.15" fill-opacity="0.200"/>
<circle cx="416.0" cy="139.8" r="2.15" fill-opacity="0.360"/>
<circle cx="428.9" cy="107.4" r="2.15" fill-opacity="0.590"/>
<circle cx="414.0" cy="101.3" r="2.15" fill-opacity="0.200"/>
<circle cx="418.1" cy="114.2" r="2.15" fill-opacity="0.200"/>
<circle cx="414.5" cy="122.6" r="2.15" fill-opacity="0.200"/>
<circle cx="429.2" cy="31.0" r="2.15" fill-opacity="0.200"/>
<circle cx="418.6" cy="138.1" r="2.15" fill-opacity="0.360"/>
<circle cx="429.9" cy="52.2" r="2.15" fill-opacity="0.200"/>
<circle cx="418.5" cy="138.1" r="2.15" fill-opacity="0.488"/>
<circle cx="435.3" cy="76.6" r="2.15" fill-opacity="0.200"/>
<circle cx="421.2" cy="33.0" r="2.15" fill-opacity="0.200"/>
<circle cx="418.2" cy="87.4" r="2.15" fill-opacity="0.488"/>
<circle cx="414.0" cy="30.6" r="2.15" fill-opacity="0.200"/>
<circle cx="415.1" cy="72.1" r="2.15" fill-opacity="0.488"/>
<circle cx="423.5" cy="147.5" r="2.15" fill-opacity="0.360"/>
<circle cx="431.6" cy="52.3" r="2.15" fill-opacity="0.200"/>
<circle cx="417.2" cy="30.8" r="2.15" fill-opacity="0.360"/>
<circle cx="436.9" cy="162.9" r="2.15" fill-opacity="0.200"/>
<circle cx="428.0" cy="128.7" r="2.15" fill-opacity="0.200"/>
<circle cx="434.6" cy="118.7" r="2.15" fill-opacity="0.488"/>
<circle cx="416.1" cy="39.3" r="2.15" fill-opacity="0.672"/>
<circle cx="415.4" cy="33.7" r="2.15" fill-opacity="0.200"/>
<circle cx="425.5" cy="41.3" r="2.15" fill-opacity="0.200"/>
<circle cx="415.8" cy="93.4" r="2.15" fill-opacity="0.200"/>
<circle cx="425.3" cy="128.3" r="2.15" fill-opacity="0.360"/>
<circle cx="416.1" cy="99.8" r="2.15" fill-opacity="0.200"/>
<circle cx="414.1" cy="92.8" r="2.15" fill-opacity="0.200"/>
<circle cx="435.7" cy="146.7" r="2.15" fill-opacity="0.200"/>
<circle cx="432.5" cy="60.7" r="2.15" fill-opacity="0.200"/>
<circle cx="416.0" cy="24.4" r="2.15" fill-opacity="0.200"/>
<circle cx="428.7" cy="102.0" r="2.15" fill-opacity="0.200"/>
<circle cx="415.9" cy="36.5" r="2.15" fill-opacity="0.965"/>
<circle cx="418.3" cy="145.8" r="2.15" fill-opacity="0.488"/>
<circle cx="424.5" cy="98.8" r="2.15" fill-opacity="0.200"/>
<circle cx="431.0" cy="52.6" r="2.15" fill-opacity="0.360"/>
<circle cx="433.0" cy="53.7" r="2.15" fill-opacity="0.590"/>
<circle cx="426.5" cy="81.6" r="2.15" fill-opacity="0.360"/>
<circle cx="415.9" cy="149.3" r="2.15" fill-opacity="0.488"/>
<circle cx="416.4" cy="41.0" r="2.15" fill-opacity="0.360"/>
<circle cx="423.7" cy="48.8" r="2.15" fill-opacity="0.360"/>
<circle cx="417.7" cy="68.2" r="2.15" fill-opacity="0.200"/>
<circle cx="429.2" cy="109.3" r="2.15" fill-opacity="0.200"/>
<circle cx="433.7" cy="35.1" r="2.15" fill-opacity="0.200"/>
<circle cx="419.9" cy="55.8" r="2.15" fill-opacity="0.200"/>
<circle cx="416.4" cy="113.8" r="2.15" fill-opacity="0.360"/>
<circle cx="414.2" cy="73.8" r="2.15" fill-opacity="0.200"/>
<circle cx="432.5" cy="148.4" r="2.15" fill-opacity="0.200"/>
<circle cx="421.8" cy="54.5" r="2.15" fill-opacity="0.200"/>
<circle cx="416.6" cy="123.7" r="2.15" fill-opacity="0.200"/>
<circle cx="431.3" cy="134.7" r="2.15" fill-opacity="0.200"/>
<circle cx="435.5" cy="41.2" r="2.15" fill-opacity="0.200"/>
<circle cx="416.2" cy="138.0" r="2.15" fill-opacity="0.893"/>
<circle cx="422.7" cy="46.1" r="2.15" fill-opacity="0.360"/>
<circle cx="431.6" cy="20.0" r="2.15" fill-opacity="0.360"/>
<circle cx="416.4" cy="27.7" r="2.15" fill-opacity="0.488"/>
<circle cx="435.6" cy="18.6" r="2.15" fill-opacity="0.200"/>
<circle cx="417.1" cy="142.1" r="2.15" fill-opacity="0.488"/>
<circle cx="417.4" cy="53.8" r="2.15" fill-opacity="0.590"/>
<circle cx="428.1" cy="102.8" r="2.15" fill-opacity="0.488"/>
<circle cx="415.6" cy="38.4" r="2.15" fill-opacity="0.590"/>
<circle cx="433.0" cy="134.7" r="2.15" fill-opacity="0.488"/>
<circle cx="429.0" cy="39.0" r="2.15" fill-opacity="0.200"/>
<circle cx="416.2" cy="92.4" r="2.15" fill-opacity="0.200"/>
<circle cx="415.9" cy="136.6" r="2.15" fill-opacity="0.488"/>
<circle cx="435.6" cy="53.1" r="2.15" fill-opacity="0.200"/>
<circle cx="417.7" cy="28.4" r="2.15" fill-opacity="0.200"/>
<circle cx="436.5" cy="35.8" r="2.15" fill-opacity="0.738"/>
<circle cx="430.0" cy="22.1" r="2.15" fill-opacity="0.200"/>
<circle cx="437.4" cy="108.5" r="2.15" fill-opacity="0.360"/>
<circle cx="414.4" cy="59.5" r="2.15" fill-opacity="0.360"/>
<circle cx="434.1" cy="93.4" r="2.15" fill-opacity="0.200"/>
<circle cx="438.0" cy="29.0" r="2.15" fill-opacity="0.488"/>
<circle cx="427.5" cy="71.7" r="2.15" fill-opacity="0.200"/>
<circle cx="419.2" cy="34.2" r="2.15" fill-opacity="0.200"/>
<circle cx="417.9" cy="41.1" r="2.15" fill-opacity="0.360"/>
<circle cx="421.8" cy="25.9" r="2.15" fill-opacity="0.360"/>
<circle cx="414.5" cy="127.7" r="2.15" fill-opacity="0.200"/>
<circle cx="422.0" cy="140.5" r="2.15" fill-opacity="0.488"/>
<circle cx="424.4" cy="141.2" r="2.15" fill-opacity="0.200"/>
<circle cx="427.3" cy="94.9" r="2.15" fill-opacity="0.488"/>
<circle cx="416.4" cy="139.4" r="2.15" fill-opacity="0.488"/>
<circle cx="414.8" cy="33.8" r="2.15" fill-opacity="0.200"/>
<circle cx="422.7" cy="84.9" r="2.15" fill-opacity="0.200"/>
<circle cx="417.4" cy="25.5" r="2.15" fill-opacity="0.200"/>
<circle cx="425.2" cy="76.7" r="2.15" fill-opacity="0.832"/>
<circle cx="418.9" cy="35.6" r="2.15" fill-opacity="0.200"/>
<circle cx="419.4" cy="50.8" r="2.15" fill-opacity="0.200"/>
<circle cx="427.7" cy="106.8" r="2.15" fill-opacity="0.200"/>
<circle cx="415.5" cy="23.2" r="2.15" fill-opacity="0.200"/>
<circle cx="432.1" cy="133.5" r="2.15" fill-opacity="0.200"/>
<circle cx="415.8" cy="90.7" r="2.15" fill-opacity="0.488"/>
<circle cx="427.5" cy="30.6" r="2.15" fill-opacity="0.488"/>
<circle cx="427.3" cy="26.0" r="2.15" fill-opacity="0.590"/>
<circle cx="425.3" cy="76.7" r="2.15" fill-opacity="0.590"/>
<circle cx="434.1" cy="121.9" r="2.15" fill-opacity="0.200"/>
<circle cx="428.0" cy="38.0" r="2.15" fill-opacity="0.200"/>
<circle cx="415.2" cy="132.2" r="2.15" fill-opacity="0.200"/>
<circle cx="433.3" cy="79.7" r="2.15" fill-opacity="0.200"/>
<circle cx="431.7" cy="131.6" r="2.15" fill-opacity="0.738"/>
<circle cx="435.1" cy="44.9" r="2.15" fill-opacity="0.200"/>
<circle cx="422.9" cy="46.9" r="2.15" fill-opacity="0.200"/>
<circle cx="417.5" cy="133.5" r="2.15" fill-opacity="0.360"/>
<circle cx="433.4" cy="93.3" r="2.15" fill-opacity="0.200"/>
<circle cx="415.3" cy="108.1" r="2.15" fill-opacity="0.590"/>
<circle cx="420.1" cy="31.7" r="2.15" fill-opacity="0.790"/>
<circle cx="431.9" cy="100.2" r="2.15" fill-opacity="0.200"/>
<circle cx="420.5" cy="141.1" r="2.15" fill-opacity="0.200"/>
<circle cx="426.8" cy="109.7" r="2.15" fill-opacity="0.790"/>
<circle cx="422.6" cy="110.5" r="2.15" fill-opacity="0.360"/>
<circle cx="437.3" cy="165.7" r="2.15" fill-opacity="0.200"/>
<circle cx="414.5" cy="56.5" r="2.15" fill-opacity="0.360"/>
<circle cx="432.5" cy="85.7" r="2.15" fill-opacity="0.200"/>
<circle cx="418.8" cy="142.6" r="2.15" fill-opacity="0.360"/>
<circle cx="435.9" cy="108.4" r="2.15" fill-opacity="0.200"/>
<circle cx="427.1" cy="101.2" r="2.15" fill-opacity="0.200"/>
<circle cx="416.7" cy="39.1" r="2.15" fill-opacity="0.200"/>
<circle cx="433.6" cy="120.0" r="2.15" fill-opacity="0.200"/>
<circle cx="416.0" cy="143.3" r="2.15" fill-opacity="0.200"/>
<circle cx="430.9" cy="126.3" r="2.15" fill-opacity="0.672"/>
<circle cx="422.9" cy="112.3" r="2.15" fill-opacity="0.200"/>
<circle cx="438.5" cy="101.0" r="2.15" fill-opacity="0.590"/>
<circle cx="416.8" cy="96.8" r="2.15" fill-opacity="0.672"/>
<circle cx="414.1" cy="67.7" r="2.15" fill-opacity="0.200"/>
<circle cx="414.7" cy="79.9" r="2.15" fill-opacity="0.200"/>
<circle cx="417.1" cy="95.1" r="2.15" fill-opacity="0.488"/>
<circle cx="430.9" cy="108.4" r="2.15" fill-opacity="0.200"/>
<circle cx="427.1" cy="154.1" r="2.15" fill-opacity="0.200"/>
<circle cx="423.6" cy="148.7" r="2.15" fill-opacity="0.200"/>
<circle cx="416.4" cy="96.9" r="2.15" fill-opacity="0.590"/>
<circle cx="434.2" cy="100.1" r="2.15" fill-opacity="0.200"/>
<circle cx="429.4" cy="116.2" r="2.15" fill-opacity="0.200"/>
<circle cx="416.9" cy="132.9" r="2.15" fill-opacity="0.360"/>
<circle cx="415.3" cy="100.8" r="2.15" fill-opacity="0.200"/>
<circle cx="429.8" cy="139.6" r="2.15" fill-opacity="0.488"/>
<circle cx="433.5" cy="56.1" r="2.15" fill-opacity="0.590"/>
<circle cx="422.8" cy="112.9" r="2.15" fill-opacity="0.200"/>
<circle cx="416.3" cy="150.0" r="2.15" fill-opacity="0.200"/>
<circle cx="417.5" cy="67.5" r="2.15" fill-opacity="0.200"/>
<circle cx="423.6" cy="120.1" r="2.15" fill-opacity="0.200"/>
<circle cx="427.0" cy="26.3" r="2.15" fill-opacity="0.672"/>
<circle cx="414.4" cy="135.7" r="2.15" fill-opacity="0.200"/>
<circle cx="426.8" cy="22.3" r="2.15" fill-opacity="0.200"/>
<circle cx="415.6" cy="25.4" r="2.15" fill-opacity="0.200"/>
<circle cx="418.8" cy="95.7" r="2.15" fill-opacity="0.790"/>
<circle cx="435.6" cy="103.1" r="2.15" fill-opacity="0.488"/>
<circle cx="424.5" cy="71.7" r="2.15" fill-opacity="0.200"/>
<circle cx="431.3" cy="99.5" r="2.15" fill-opacity="0.200"/>
<circle cx="431.8" cy="41.3" r="2.15" fill-opacity="0.360"/>
<circle cx="428.1" cy="143.6" r="2.15" fill-opacity="0.200"/>
<circle cx="420.0" cy="139.0" r="2.15" fill-opacity="0.200"/>
<circle cx="420.7" cy="86.0" r="2.15" fill-opacity="0.200"/>
<circle cx="416.0" cy="30.3" r="2.15" fill-opacity="0.200"/>
<circle cx="419.8" cy="121.5" r="2.15" fill-opacity="0.200"/>
<circle cx="431.9" cy="128.1" r="2.15" fill-opacity="0.200"/>
<circle cx="415.5" cy="76.9" r="2.15" fill-opacity="0.200"/>
<circle cx="424.2" cy="38.8" r="2.15" fill-opacity="0.590"/>
<circle cx="414.5" cy="138.7" r="2.15" fill-opacity="0.200"/>
<circle cx="418.3" cy="87.4" r="2.15" fill-opacity="0.672"/>
<circle cx="415.6" cy="29.0" r="2.15" fill-opacity="0.360"/>
<circle cx="427.5" cy="36.3" r="2.15" fill-opacity="0.200"/>
<circle cx="421.2" cy="70.3" r="2.15" fill-opacity="0.488"/>
<circle cx="416.6" cy="117.1" r="2.15" fill-opacity="0.488"/>
<circle cx="427.4" cy="92.1" r="2.15" fill-opacity="0.200"/>
<circle cx="437.6" cy="98.0" r="2.15" fill-opacity="0.200"/>
<circle cx="418.5" cy="123.3" r="2.15" fill-opacity="0.200"/>
<circle cx="414.8" cy="102.7" r="2.15" fill-opacity="0.200"/>
<circle cx="433.4" cy="57.5" r="2.15" fill-opacity="0.200"/>
<circle cx="419.1" cy="141.4" r="2.15" fill-opacity="0.200"/>
<circle cx="431.5" cy="58.4" r="2.15" fill-opacity="0.200"/>
<circle cx="417.4" cy="22.5" r="2.15" fill-opacity="0.200"/>
<circle cx="432.8" cy="49.5" r="2.15" fill-opacity="0.200"/>
<circle cx="419.0" cy="129.5" r="2.15" fill-opacity="0.360"/>
<circle cx="430.6" cy="137.1" r="2.15" fill-opacity="0.200"/>
<circle cx="417.8" cy="48.8" r="2.15" fill-opacity="0.590"/>
<circle cx="415.3" cy="41.0" r="2.15" fill-opacity="0.200"/>
<circle cx="427.0" cy="42.0" r="2.15" fill-opacity="0.200"/>
<circle cx="416.3" cy="115.9" r="2.15" fill-opacity="0.200"/>
<circle cx="422.2" cy="47.9" r="2.15" fill-opacity="0.200"/>
<circle cx="418.0" cy="101.6" r="2.15" fill-opacity="0.200"/>
<circle cx="431.3" cy="92.1" r="2.15" fill-opacity="0.360"/>
<circle cx="419.0" cy="31.9" r="2.15" fill-opacity="0.200"/>
<circle cx="416.0" cy="75.0" r="2.15" fill-opacity="0.360"/>
<circle cx="431.9" cy="60.9" r="2.15" fill-opacity="0.200"/>
<circle cx="418.3" cy="114.1" r="2.15" fill-opacity="0.200"/>
<circle cx="418.8" cy="104.8" r="2.15" fill-opacity="0.200"/>
<circle cx="420.7" cy="32.8" r="2.15" fill-opacity="0.200"/>
<circle cx="423.8" cy="115.7" r="2.15" fill-opacity="0.200"/>
<circle cx="421.3" cy="88.6" r="2.15" fill-opacity="0.200"/>
<circle cx="415.0" cy="81.2" r="2.15" fill-opacity="0.672"/>
<circle cx="414.3" cy="152.2" r="2.15" fill-opacity="0.200"/>
<circle cx="427.9" cy="94.3" r="2.15" fill-opacity="0.200"/>
<circle cx="421.3" cy="112.4" r="2.15" fill-opacity="0.200"/>
<circle cx="422.5" cy="52.7" r="2.15" fill-opacity="0.738"/>
<circle cx="425.8" cy="48.6" r="2.15" fill-opacity="0.200"/>
<circle cx="420.4" cy="125.1" r="2.15" fill-opacity="0.200"/>
<circle cx="421.0" cy="146.0" r="2.15" fill-opacity="0.200"/>
<circle cx="429.1" cy="152.5" r="2.15" fill-opacity="0.200"/>
<circle cx="427.2" cy="105.6" r="2.15" fill-opacity="0.360"/>
<circle cx="431.0" cy="58.9" r="2.15" fill-opacity="0.488"/>
<circle cx="425.9" cy="25.7" r="2.15" fill-opacity="0.738"/>
<circle cx="417.7" cy="54.4" r="2.15" fill-opacity="0.200"/>
<circle cx="427.2" cy="123.2" r="2.15" fill-opacity="0.200"/>
<circle cx="420.8" cy="102.3" r="2.15" fill-opacity="0.200"/>
<circle cx="423.5" cy="23.8" r="2.15" fill-opacity="0.200"/>
<circle cx="420.0" cy="40.9" r="2.15" fill-opacity="0.200"/>
<circle cx="414.8" cy="114.3" r="2.15" fill-opacity="0.832"/>
<circle cx="418.3" cy="86.7" r="2.15" fill-opacity="0.590"/>
<circle cx="417.2" cy="31.0" r="2.15" fill-opacity="0.200"/>
<circle cx="422.5" cy="114.5" r="2.15" fill-opacity="0.672"/>
<circle cx="434.0" cy="66.5" r="2.15" fill-opacity="0.360"/>
<circle cx="415.5" cy="72.6" r="2.15" fill-opacity="0.200"/>
<circle cx="428.7" cy="63.9" r="2.15" fill-opacity="0.200"/>
<circle cx="428.9" cy="90.7" r="2.15" fill-opacity="0.200"/>
<circle cx="418.4" cy="130.5" r="2.15" fill-opacity="0.200"/>
<circle cx="426.6" cy="39.7" r="2.15" fill-opacity="0.200"/>
<circle cx="437.4" cy="99.9" r="2.15" fill-opacity="0.488"/>
<circle cx="416.9" cy="110.5" r="2.15" fill-opacity="0.200"/>
<circle cx="418.1" cy="134.4" r="2.15" fill-opacity="0.790"/>
<circle cx="420.5" cy="101.2" r="2.15" fill-opacity="0.200"/>
<circle cx="436.6" cy="30.8" r="2.15" fill-opacity="0.360"/>
<circle cx="416.1" cy="134.8" r="2.15" fill-opacity="0.200"/>
<circle cx="417.6" cy="129.2" r="2.15" fill-opacity="0.360"/>
<circle cx="420.5" cy="94.7" r="2.15" fill-opacity="0.977"/>
<circle cx="416.4" cy="91.3" r="2.15" fill-opacity="0.200"/>
<circle cx="427.1" cy="19.9" r="2.15" fill-opacity="0.488"/>
<circle cx="432.5" cy="30.3" r="2.15" fill-opacity="0.200"/>
<circle cx="428.3" cy="54.3" r="2.15" fill-opacity="0.200"/>
<circle cx="422.4" cy="117.6" r="2.15" fill-opacity="0.200"/>
<circle cx="417.9" cy="88.9" r="2.15" fill-opacity="0.200"/>
<circle cx="415.8" cy="73.9" r="2.15" fill-opacity="0.832"/>
<circle cx="431.4" cy="117.1" r="2.15" fill-opacity="0.200"/>
<circle cx="416.1" cy="93.5" r="2.15" fill-opacity="0.832"/>
<circle cx="429.9" cy="108.4" r="2.15" fill-opacity="0.590"/>
<circle cx="415.5" cy="132.9" r="2.15" fill-opacity="0.200"/>
<circle cx="419.9" cy="36.6" r="2.15" fill-opacity="0.931"/>
<circle cx="416.3" cy="114.6" r="2.15" fill-opacity="0.200"/>
<circle cx="434.2" cy="70.6" r="2.15" fill-opacity="0.360"/>
<circle cx="418.5" cy="119.5" r="2.15" fill-opacity="0.488"/>
<circle cx="432.6" cy="88.0" r="2.15" fill-opacity="0.200"/>
<circle cx="414.0" cy="133.8" r="2.15" fill-opacity="0.590"/>
<circle cx="426.6" cy="111.2" r="2.15" fill-opacity="0.200"/>
<circle cx="424.7" cy="73.7" r="2.15" fill-opacity="0.200"/>
<circle cx="417.1" cy="108.0" r="2.15" fill-opacity="0.200"/>
<circle cx="415.3" cy="87.7" r="2.15" fill-opacity="0.200"/>
<circle cx="415.8" cy="111.3" r="2.15" fill-opacity="0.200"/>
<circle cx="436.6" cy="106.4" r="2.15" fill-opacity="0.200"/>
<circle cx="417.2" cy="119.2" r="2.15" fill-opacity="0.200"/>
<circle cx="436.7" cy="22.1" r="2.15" fill-opacity="0.200"/>
<circle cx="435.9" cy="24.9" r="2.15" fill-opacity="0.488"/>
<circle cx="424.4" cy="74.3" r="2.15" fill-opacity="0.200"/>
<circle cx="420.4" cy="132.2" r="2.15" fill-opacity="0.200"/>
<circle cx="420.9" cy="96.6" r="2.15" fill-opacity="0.200"/>
<circle cx="427.0" cy="67.5" r="2.15" fill-opacity="0.200"/>
<circle cx="416.4" cy="69.6" r="2.15" fill-opacity="0.200"/>
<circle cx="421.9" cy="65.5" r="2.15" fill-opacity="0.200"/>
<circle cx="419.5" cy="120.2" r="2.15" fill-opacity="0.200"/>
<circle cx="421.6" cy="44.1" r="2.15" fill-opacity="0.488"/>
<circle cx="420.6" cy="142.4" r="2.15" fill-opacity="0.360"/>
<circle cx="423.5" cy="139.1" r="2.15" fill-opacity="0.200"/>
<circle cx="415.0" cy="99.0" r="2.15" fill-opacity="0.200"/>
<circle cx="421.5" cy="45.4" r="2.15" fill-opacity="0.488"/>
<circle cx="428.6" cy="139.3" r="2.15" fill-opacity="0.200"/>
<circle cx="420.2" cy="135.8" r="2.15" fill-opacity="0.200"/>
<circle cx="427.1" cy="40.5" r="2.15" fill-opacity="0.200"/>
<circle cx="433.5" cy="105.5" r="2.15" fill-opacity="0.200"/>
<circle cx="417.6" cy="144.6" r="2.15" fill-opacity="0.200"/>
<circle cx="426.7" cy="163.4" r="2.15" fill-opacity="0.360"/>
<circle cx="426.8" cy="77.1" r="2.15" fill-opacity="0.200"/>
<circle cx="420.0" cy="131.3" r="2.15" fill-opacity="0.200"/>
<circle cx="421.8" cy="131.3" r="2.15" fill-opacity="0.200"/>
<circle cx="417.8" cy="32.4" r="2.15" fill-opacity="0.200"/>
<circle cx="414.1" cy="105.6" r="2.15" fill-opacity="0.893"/>
<circle cx="420.8" cy="44.0" r="2.15" fill-opacity="0.200"/>
<circle cx="422.0" cy="135.0" r="2.15" fill-opacity="0.200"/>
<circle cx="438.6" cy="81.2" r="2.15" fill-opacity="0.200"/>
<circle cx="417.7" cy="94.3" r="2.15" fill-opacity="0.360"/>
<circle cx="428.0" cy="74.0" r="2.15" fill-opacity="0.200"/>
<circle cx="421.3" cy="57.4" r="2.15" fill-opacity="0.360"/>
<circle cx="414.7" cy="129.7" r="2.15" fill-opacity="0.200"/>
<circle cx="418.7" cy="83.3" r="2.15" fill-opacity="0.200"/>
<circle cx="416.4" cy="128.0" r="2.15" fill-opacity="0.200"/>
<circle cx="414.6" cy="72.0" r="2.15" fill-opacity="0.200"/>
<circle cx="425.0" cy="143.3" r="2.15" fill-opacity="0.200"/>
<circle cx="419.8" cy="117.4" r="2.15" fill-opacity="0.200"/>
<circle cx="434.3" cy="79.6" r="2.15" fill-opacity="0.200"/>
<circle cx="414.2" cy="128.2" r="2.15" fill-opacity="0.738"/>
<circle cx="420.9" cy="130.9" r="2.15" fill-opacity="0.488"/>
<circle cx="415.6" cy="148.5" r="2.15" fill-opacity="0.200"/>
<circle cx="422.8" cy="51.6" r="2.15" fill-opacity="0.488"/>
<circle cx="419.7" cy="46.8" r="2.15" fill-opacity="0.200"/>
<circle cx="425.6" cy="64.3" r="2.15" fill-opacity="0.200"/>
<circle cx="430.8" cy="135.6" r="2.15" fill-opacity="0.360"/>
<circle cx="420.5" cy="69.5" r="2.15" fill-opacity="0.200"/>
<circle cx="425.7" cy="133.9" r="2.15" fill-opacity="0.200"/>
<circle cx="416.4" cy="83.6" r="2.15" fill-opacity="0.200"/>
<circle cx="416.2" cy="33.4" r="2.15" fill-opacity="0.672"/>
<circle cx="415.9" cy="40.4" r="2.15" fill-opacity="0.200"/>
<circle cx="413.9" cy="51.0" r="2.15" fill-opacity="0.200"/>
<circle cx="417.8" cy="23.7" r="2.15" fill-opacity="0.200"/>
<circle cx="429.8" cy="66.0" r="2.15" fill-opacity="0.200"/>
<circle cx="426.8" cy="132.3" r="2.15" fill-opacity="0.200"/>
<circle cx="438.1" cy="146.4" r="2.15" fill-opacity="0.360"/>
<circle cx="428.0" cy="77.2" r="2.15" fill-opacity="0.200"/>
<circle cx="425.3" cy="68.6" r="2.15" fill-opacity="0.360"/>
<circle cx="436.4" cy="83.8" r="2.15" fill-opacity="0.200"/>
<circle cx="420.2" cy="142.1" r="2.15" fill-opacity="0.590"/>
<circle cx="425.2" cy="50.7" r="2.15" fill-opacity="0.200"/>
<circle cx="419.1" cy="123.1" r="2.15" fill-opacity="0.200"/>
<circle cx="420.0" cy="145.1" r="2.15" fill-opacity="0.360"/>
<circle cx="423.8" cy="84.4" r="2.15" fill-opacity="0.200"/>
<circle cx="423.7" cy="137.1" r="2.15" fill-opacity="0.200"/>
<circle cx="417.5" cy="34.3" r="2.15" fill-opacity="0.488"/>
<circle cx="424.5" cy="53.8" r="2.15" fill-opacity="0.200"/>
<circle cx="418.8" cy="96.3" r="2.15" fill-opacity="0.200"/>
<circle cx="434.8" cy="124.2" r="2.15" fill-opacity="0.360"/>
<circle cx="429.9" cy="145.2" r="2.15" fill-opacity="0.738"/>
<circle cx="420.4" cy="105.0" r="2.15" fill-opacity="0.200"/>
<circle cx="415.9" cy="75.5" r="2.15" fill-opacity="0.200"/>
<circle cx="421.4" cy="36.3" r="2.15" fill-opacity="0.488"/>
<circle cx="418.2" cy="137.4" r="2.15" fill-opacity="0.200"/>
<circle cx="434.1" cy="119.8" r="2.15" fill-opacity="0.200"/>
<circle cx="423.8" cy="91.2" r="2.15" fill-opacity="0.672"/>
<circle cx="421.4" cy="104.8" r="2.15" fill-opacity="0.200"/>
<circle cx="426.4" cy="88.4" r="2.15" fill-opacity="0.200"/>
<circle cx="431.2" cy="78.5" r="2.15" fill-opacity="0.200"/>
<circle cx="426.4" cy="50.7" r="2.15" fill-opacity="0.200"/>
<circle cx="425.5" cy="140.8" r="2.15" fill-opacity="0.200"/>
<circle cx="418.7" cy="100.6" r="2.15" fill-opacity="0.200"/>
<circle cx="435.4" cy="98.1" r="2.15" fill-opacity="0.200"/>
<circle cx="434.2" cy="121.1" r="2.15" fill-opacity="0.200"/>
<circle cx="415.0" cy="101.5" r="2.15" fill-opacity="0.200"/>
<circle cx="415.1" cy="135.2" r="2.15" fill-opacity="0.488"/>
<circle cx="416.0" cy="47.4" r="2.15" fill-opacity="0.200"/>
<circle cx="416.6" cy="144.4" r="2.15" fill-opacity="0.200"/>
<circle cx="423.2" cy="73.3" r="2.15" fill-opacity="0.200"/>
<circle cx="424.3" cy="42.5" r="2.15" fill-opacity="0.590"/>
<circle cx="421.2" cy="174.4" r="2.15" fill-opacity="0.200"/>
<circle cx="424.4" cy="35.9" r="2.15" fill-opacity="0.200"/>
<circle cx="421.3" cy="141.5" r="2.15" fill-opacity="0.200"/>
<circle cx="414.1" cy="80.3" r="2.15" fill-opacity="0.200"/>
<circle cx="424.2" cy="109.7" r="2.15" fill-opacity="0.200"/>
<circle cx="428.3" cy="123.7" r="2.15" fill-opacity="0.200"/>
<circle cx="429.0" cy="105.6" r="2.15" fill-opacity="0.200"/>
<circle cx="417.3" cy="64.0" r="2.15" fill-opacity="0.488"/>
<circle cx="438.7" cy="72.7" r="2.15" fill-opacity="0.488"/>
<circle cx="437.1" cy="112.4" r="2.15" fill-opacity="0.200"/>
<circle cx="417.5" cy="32.7" r="2.15" fill-opacity="0.200"/>
<circle cx="437.4" cy="92.8" r="2.15" fill-opacity="0.200"/>
<circle cx="436.1" cy="104.6" r="2.15" fill-opacity="0.200"/>
<circle cx="434.5" cy="77.6" r="2.15" fill-opacity="0.200"/>
<circle cx="425.6" cy="148.2" r="2.15" fill-opacity="0.200"/>
<circle cx="413.9" cy="121.6" r="2.15" fill-opacity="0.866"/>
<circle cx="415.3" cy="140.8" r="2.15" fill-opacity="0.200"/>
<circle cx="414.7" cy="21.1" r="2.15" fill-opacity="0.488"/>
<circle cx="437.7" cy="85.7" r="2.15" fill-opacity="0.200"/>
<circle cx="418.1" cy="156.1" r="2.15" fill-opacity="0.790"/>
<circle cx="425.2" cy="59.1" r="2.15" fill-opacity="0.200"/>
<circle cx="421.3" cy="26.7" r="2.15" fill-opacity="0.200"/>
<circle cx="417.0" cy="129.9" r="2.15" fill-opacity="0.931"/>
<circle cx="416.3" cy="110.1" r="2.15" fill-opacity="0.200"/>
<circle cx="417.3" cy="110.6" r="2.15" fill-opacity="0.488"/>
<circle cx="417.0" cy="54.4" r="2.15" fill-opacity="0.738"/>
<circle cx="423.7" cy="121.2" r="2.15" fill-opacity="0.360"/>
<circle cx="423.1" cy="63.8" r="2.15" fill-opacity="0.672"/>
<circle cx="427.9" cy="146.8" r="2.15" fill-opacity="0.200"/>
<circle cx="416.1" cy="119.5" r="2.15" fill-opacity="0.360"/>
<circle cx="424.8" cy="71.6" r="2.15" fill-opacity="0.200"/>
<circle cx="425.5" cy="143.2" r="2.15" fill-opacity="0.360"/>
<circle cx="420.3" cy="94.7" r="2.15" fill-opacity="0.200"/>
<circle cx="423.9" cy="150.6" r="2.15" fill-opacity="0.590"/>
<circle cx="426.5" cy="108.9" r="2.15" fill-opacity="0.200"/>
<circle cx="415.8" cy="140.8" r="2.15" fill-opacity="0.200"/>
<circle cx="415.1" cy="85.6" r="2.15" fill-opacity="0.200"/>
<circle cx="436.1" cy="106.8" r="2.15" fill-opacity="0.200"/>
<circle cx="431.4" cy="96.9" r="2.15" fill-opacity="0.200"/>
<circle cx="434.4" cy="85.6" r="2.15" fill-opacity="0.672"/>
<circle cx="414.2" cy="100.4" r="2.15" fill-opacity="0.200"/>
<circle cx="420.2" cy="83.4" r="2.15" fill-opacity="0.200"/>
<circle cx="429.4" cy="39.2" r="2.15" fill-opacity="0.200"/>
<circle cx="424.5" cy="101.4" r="2.15" fill-opacity="0.360"/>
<circle cx="415.4" cy="133.3" r="2.15" fill-opacity="0.360"/>
<circle cx="427.7" cy="100.8" r="2.15" fill-opacity="0.590"/>
<circle cx="424.4" cy="74.6" r="2.15" fill-opacity="0.590"/>
<circle cx="417.7" cy="37.8" r="2.15" fill-opacity="0.200"/>
<circle cx="437.0" cy="99.5" r="2.15" fill-opacity="0.200"/>
<circle cx="416.2" cy="85.7" r="2.15" fill-opacity="0.200"/>
<circle cx="429.1" cy="34.5" r="2.15" fill-opacity="0.200"/>
<circle cx="416.8" cy="151.8" r="2.15" fill-opacity="0.200"/>
<circle cx="418.3" cy="92.6" r="2.15" fill-opacity="0.672"/>
<circle cx="421.6" cy="96.3" r="2.15" fill-opacity="0.200"/>
<circle cx="415.2" cy="131.2" r="2.15" fill-opacity="0.590"/>
<circle cx="421.0" cy="23.9" r="2.15" fill-opacity="0.200"/>
<circle cx="415.3" cy="108.3" r="2.15" fill-opacity="0.200"/>
<circle cx="414.0" cy="129.2" r="2.15" fill-opacity="0.360"/>
<circle cx="423.9" cy="75.1" r="2.15" fill-opacity="0.360"/>
<circle cx="416.2" cy="69.7" r="2.15" fill-opacity="0.360"/>
<circle cx="414.4" cy="107.6" r="2.15" fill-opacity="0.672"/>
<circle cx="420.6" cy="101.8" r="2.15" fill-opacity="0.200"/>
<circle cx="415.7" cy="83.4" r="2.15" fill-opacity="0.200"/>
<circle cx="422.0" cy="99.0" r="2.15" fill-opacity="0.590"/>
<circle cx="421.4" cy="37.5" r="2.15" fill-opacity="0.488"/>
<circle cx="416.2" cy="158.0" r="2.15" fill-opacity="0.360"/>
<circle cx="422.5" cy="59.9" r="2.15" fill-opacity="0.200"/>
<circle cx="424.4" cy="138.9" r="2.15" fill-opacity="0.200"/>
<circle cx="416.2" cy="119.5" r="2.15" fill-opacity="0.672"/>
<circle cx="427.6" cy="36.5" r="2.15" fill-opacity="0.360"/>
<circle cx="438.3" cy="111.9" r="2.15" fill-opacity="0.200"/>
<circle cx="416.1" cy="99.8" r="2.15" fill-opacity="0.200"/>
<circle cx="432.3" cy="78.1" r="2.15" fill-opacity="0.200"/>
<circle cx="418.7" cy="48.9" r="2.15" fill-opacity="0.200"/>
<circle cx="437.9" cy="134.8" r="2.15" fill-opacity="0.360"/>
<circle cx="422.5" cy="157.7" r="2.15" fill-opacity="0.200"/>
<circle cx="425.4" cy="136.3" r="2.15" fill-opacity="0.200"/>
<circle cx="414.9" cy="139.1" r="2.15" fill-opacity="0.200"/>
<circle cx="418.2" cy="30.6" r="2.15" fill-opacity="0.590"/>
<circle cx="431.2" cy="99.6" r="2.15" fill-opacity="0.200"/>
<circle cx="417.5" cy="69.1" r="2.15" fill-opacity="0.200"/>
<circle cx="426.8" cy="26.1" r="2.15" fill-opacity="0.360"/>
<circle cx="438.7" cy="97.2" r="2.15" fill-opacity="0.360"/>
<circle cx="436.0" cy="89.4" r="2.15" fill-opacity="0.200"/>
<circle cx="419.9" cy="70.2" r="2.15" fill-opacity="0.200"/>
<circle cx="429.0" cy="74.9" r="2.15" fill-opacity="0.590"/>
<circle cx="423.9" cy="36.3" r="2.15" fill-opacity="0.672"/>
<circle cx="423.3" cy="143.9" r="2.15" fill-opacity="0.200"/>
<circle cx="429.4" cy="104.4" r="2.15" fill-opacity="0.200"/>
<circle cx="420.2" cy="43.6" r="2.15" fill-opacity="0.200"/>
<circle cx="433.7" cy="77.9" r="2.15" fill-opacity="0.200"/>
<circle cx="422.1" cy="125.8" r="2.15" fill-opacity="0.200"/>
<circle cx="437.1" cy="41.6" r="2.15" fill-opacity="0.200"/>
<circle cx="438.6" cy="49.4" r="2.15" fill-opacity="0.590"/>
<circle cx="428.9" cy="110.9" r="2.15" fill-opacity="0.200"/>
<circle cx="427.9" cy="131.4" r="2.15" fill-opacity="0.488"/>
<circle cx="416.7" cy="115.2" r="2.15" fill-opacity="0.200"/>
<circle cx="423.0" cy="51.7" r="2.15" fill-opacity="0.200"/>
<circle cx="420.6" cy="72.8" r="2.15" fill-opacity="0.360"/>
<circle cx="422.8" cy="148.6" r="2.15" fill-opacity="0.200"/>
<circle cx="436.7" cy="116.4" r="2.15" fill-opacity="0.200"/>
<circle cx="414.5" cy="30.4" r="2.15" fill-opacity="0.200"/>
<circle cx="433.0" cy="54.2" r="2.15" fill-opacity="0.790"/>
<circle cx="436.4" cy="82.8" r="2.15" fill-opacity="0.200"/>
<circle cx="420.9" cy="133.1" r="2.15" fill-opacity="0.200"/>
<circle cx="429.3" cy="46.5" r="2.15" fill-opacity="0.200"/>
<circle cx="420.5" cy="39.9" r="2.15" fill-opacity="0.200"/>
<circle cx="437.9" cy="70.3" r="2.15" fill-opacity="0.488"/>
<circle cx="413.9" cy="87.4" r="2.15" fill-opacity="0.200"/>
<circle cx="414.8" cy="145.9" r="2.15" fill-opacity="0.360"/>
<circle cx="417.4" cy="92.0" r="2.15" fill-opacity="0.200"/>
<circle cx="421.4" cy="77.9" r="2.15" fill-opacity="0.200"/>
<circle cx="415.4" cy="103.2" r="2.15" fill-opacity="0.200"/>
<circle cx="432.7" cy="73.9" r="2.15" fill-opacity="0.200"/>
<circle cx="415.0" cy="78.6" r="2.15" fill-opacity="0.200"/>
<circle cx="417.3" cy="81.9" r="2.15" fill-opacity="0.672"/>
<circle cx="433.0" cy="139.1" r="2.15" fill-opacity="0.200"/>
<circle cx="426.2" cy="96.7" r="2.15" fill-opacity="0.200"/>
<circle cx="419.1" cy="137.9" r="2.15" fill-opacity="0.360"/>
<circle cx="415.8" cy="122.8" r="2.15" fill-opacity="0.200"/>
<circle cx="415.1" cy="130.9" r="2.15" fill-opacity="0.200"/>
<circle cx="432.7" cy="115.3" r="2.15" fill-opacity="0.200"/>
<circle cx="415.4" cy="102.8" r="2.15" fill-opacity="0.200"/>
<circle cx="429.0" cy="32.7" r="2.15" fill-opacity="0.790"/>
<circle cx="429.2" cy="104.5" r="2.15" fill-opacity="0.360"/>
<circle cx="430.6" cy="61.6" r="2.15" fill-opacity="0.360"/>
<circle cx="429.0" cy="44.8" r="2.15" fill-opacity="0.200"/>
<circle cx="416.9" cy="141.9" r="2.15" fill-opacity="0.200"/>
<circle cx="419.1" cy="142.2" r="2.15" fill-opacity="0.200"/>
<circle cx="424.2" cy="107.3" r="2.15" fill-opacity="0.200"/>
<circle cx="419.5" cy="106.6" r="2.15" fill-opacity="0.200"/>
<circle cx="414.8" cy="106.2" r="2.15" fill-opacity="0.200"/>
<circle cx="419.1" cy="23.9" r="2.15" fill-opacity="0.590"/>
<circle cx="430.8" cy="21.0" r="2.15" fill-opacity="0.488"/>
<circle cx="435.9" cy="22.8" r="2.15" fill-opacity="0.200"/>
<circle cx="432.3" cy="92.6" r="2.15" fill-opacity="0.200"/>
<circle cx="414.6" cy="144.7" r="2.15" fill-opacity="0.200"/>
<circle cx="426.2" cy="152.2" r="2.15" fill-opacity="0.488"/>
<circle cx="425.8" cy="76.6" r="2.15" fill-opacity="0.590"/>
<circle cx="420.9" cy="25.9" r="2.15" fill-opacity="0.360"/>
<circle cx="438.4" cy="43.3" r="2.15" fill-opacity="0.360"/>
<circle cx="437.3" cy="96.2" r="2.15" fill-opacity="0.488"/>
<circle cx="428.0" cy="111.3" r="2.15" fill-opacity="0.200"/>
<circle cx="415.9" cy="131.2" r="2.15" fill-opacity="0.488"/>
<circle cx="427.8" cy="60.4" r="2.15" fill-opacity="0.200"/>
<circle cx="434.8" cy="143.6" r="2.15" fill-opacity="0.200"/>
<circle cx="413.9" cy="151.6" r="2.15" fill-opacity="0.488"/>
<circle cx="417.9" cy="143.0" r="2.15" fill-opacity="0.200"/>
<circle cx="437.3" cy="87.3" r="2.15" fill-opacity="0.360"/>
<circle cx="418.3" cy="103.6" r="2.15" fill-opacity="0.200"/>
<circle cx="429.9" cy="56.2" r="2.15" fill-opacity="0.200"/>
<circle cx="416.0" cy="134.0" r="2.15" fill-opacity="0.200"/>
<circle cx="416.0" cy="99.9" r="2.15" fill-opacity="0.360"/>
<circle cx="427.4" cy="119.6" r="2.15" fill-opacity="0.790"/>
<circle cx="417.3" cy="106.7" r="2.15" fill-opacity="0.790"/>
<circle cx="427.6" cy="102.7" r="2.15" fill-opacity="0.488"/>
<circle cx="423.4" cy="34.6" r="2.15" fill-opacity="0.832"/>
<circle cx="424.8" cy="46.5" r="2.15" fill-opacity="0.488"/>
<circle cx="427.9" cy="85.4" r="2.15" fill-opacity="0.200"/>
<circle cx="435.4" cy="64.5" r="2.15" fill-opacity="0.360"/>
<circle cx="426.6" cy="34.0" r="2.15" fill-opacity="0.590"/>
<circle cx="428.8" cy="121.3" r="2.15" fill-opacity="0.200"/>
<circle cx="438.9" cy="73.7" r="2.15" fill-opacity="0.738"/>
<circle cx="415.1" cy="50.3" r="2.15" fill-opacity="0.200"/>
<circle cx="438.3" cy="87.6" r="2.15" fill-opacity="0.200"/>
<circle cx="433.9" cy="144.2" r="2.15" fill-opacity="0.488"/>
<circle cx="421.4" cy="113.4" r="2.15" fill-opacity="0.200"/>
<circle cx="429.4" cy="123.2" r="2.15" fill-opacity="0.790"/>
<circle cx="416.3" cy="137.7" r="2.15" fill-opacity="0.488"/>
<circle cx="426.4" cy="83.2" r="2.15" fill-opacity="0.200"/>
<circle cx="421.4" cy="88.8" r="2.15" fill-opacity="0.200"/>
<circle cx="427.7" cy="68.6" r="2.15" fill-opacity="0.360"/>
<circle cx="425.1" cy="50.7" r="2.15" fill-opacity="0.488"/>
<circle cx="422.9" cy="31.3" r="2.15" fill-opacity="0.200"/>
<circle cx="416.7" cy="41.1" r="2.15" fill-opacity="0.832"/>
<circle cx="422.5" cy="142.5" r="2.15" fill-opacity="0.360"/>
<circle cx="437.6" cy="94.1" r="2.15" fill-opacity="0.200"/>
<circle cx="428.8" cy="65.9" r="2.15" fill-opacity="0.200"/>
<circle cx="422.4" cy="100.7" r="2.15" fill-opacity="0.672"/>
<circle cx="417.1" cy="45.9" r="2.15" fill-opacity="0.738"/>
<circle cx="432.0" cy="110.9" r="2.15" fill-opacity="0.200"/>
<circle cx="430.0" cy="66.0" r="2.15" fill-opacity="0.672"/>
<circle cx="418.6" cy="101.5" r="2.15" fill-opacity="0.200"/>
<circle cx="428.5" cy="68.2" r="2.15" fill-opacity="0.200"/>
<circle cx="428.9" cy="36.7" r="2.15" fill-opacity="0.360"/>
<circle cx="415.9" cy="126.2" r="2.15" fill-opacity="0.200"/>
<circle cx="420.7" cy="71.2" r="2.15" fill-opacity="0.200"/>
<circle cx="427.1" cy="174.3" r="2.15" fill-opacity="0.200"/>
<circle cx="415.0" cy="28.4" r="2.15" fill-opacity="0.200"/>
<circle cx="415.5" cy="66.0" r="2.15" fill-opacity="0.200"/>
<circle cx="414.3" cy="133.2" r="2.15" fill-opacity="0.200"/>
<circle cx="420.2" cy="61.8" r="2.15" fill-opacity="0.200"/>
<circle cx="431.2" cy="99.6" r="2.15" fill-opacity="0.200"/>
<circle cx="436.2" cy="94.8" r="2.15" fill-opacity="0.200"/>
<circle cx="431.5" cy="29.6" r="2.15" fill-opacity="0.200"/>
<circle cx="414.2" cy="39.0" r="2.15" fill-opacity="0.200"/>
<circle cx="423.9" cy="105.3" r="2.15" fill-opacity="0.360"/>
<circle cx="414.4" cy="126.1" r="2.15" fill-opacity="0.488"/>
<circle cx="414.7" cy="127.8" r="2.15" fill-opacity="0.200"/>
<circle cx="418.1" cy="96.0" r="2.15" fill-opacity="0.590"/>
<circle cx="415.5" cy="78.8" r="2.15" fill-opacity="0.200"/>
<circle cx="424.6" cy="89.1" r="2.15" fill-opacity="0.200"/>
<circle cx="415.9" cy="46.4" r="2.15" fill-opacity="0.360"/>
<circle cx="435.9" cy="128.0" r="2.15" fill-opacity="0.832"/>
<circle cx="414.4" cy="139.8" r="2.15" fill-opacity="0.200"/>
<circle cx="420.7" cy="116.6" r="2.15" fill-opacity="0.200"/>
<circle cx="417.1" cy="56.0" r="2.15" fill-opacity="0.200"/>
<circle cx="431.7" cy="139.6" r="2.15" fill-opacity="0.200"/>
<circle cx="428.7" cy="137.4" r="2.15" fill-opacity="0.832"/>
<circle cx="421.1" cy="71.6" r="2.15" fill-opacity="0.200"/>
<circle cx="438.6" cy="91.3" r="2.15" fill-opacity="0.200"/>
<circle cx="426.1" cy="85.0" r="2.15" fill-opacity="0.200"/>
<circle cx="435.6" cy="109.2" r="2.15" fill-opacity="0.200"/>
<circle cx="427.5" cy="97.2" r="2.15" fill-opacity="0.200"/>
<circle cx="430.0" cy="58.1" r="2.15" fill-opacity="0.672"/>
<circle cx="422.7" cy="103.8" r="2.15" fill-opacity="0.360"/>
<circle cx="419.0" cy="141.5" r="2.15" fill-opacity="0.672"/>
<circle cx="428.8" cy="85.9" r="2.15" fill-opacity="0.200"/>
<circle cx="420.4" cy="113.6" r="2.15" fill-opacity="0.738"/>
<circle cx="437.4" cy="111.0" r="2.15" fill-opacity="0.200"/>
<circle cx="429.2" cy="82.0" r="2.15" fill-opacity="0.790"/>
<circle cx="420.0" cy="118.2" r="2.15" fill-opacity="0.200"/>
<circle cx="430.3" cy="89.9" r="2.15" fill-opacity="0.200"/>
<circle cx="432.8" cy="52.8" r="2.15" fill-opacity="0.488"/>
<circle cx="424.8" cy="80.6" r="2.15" fill-opacity="0.360"/>
<circle cx="418.3" cy="31.9" r="2.15" fill-opacity="0.360"/>
<circle cx="418.9" cy="106.4" r="2.15" fill-opacity="0.200"/>
<circle cx="435.2" cy="19.3" r="2.15" fill-opacity="0.200"/>
<circle cx="418.4" cy="154.3" r="2.15" fill-opacity="0.200"/>
<circle cx="437.4" cy="97.0" r="2.15" fill-opacity="0.200"/>
<circle cx="414.5" cy="21.9" r="2.15" fill-opacity="0.200"/>
<circle cx="418.8" cy="96.8" r="2.15" fill-opacity="0.672"/>
<circle cx="416.3" cy="106.6" r="2.15" fill-opacity="0.200"/>
<circle cx="419.1" cy="120.8" r="2.15" fill-opacity="0.200"/>
<circle cx="417.3" cy="147.8" r="2.15" fill-opacity="0.200"/>
<circle cx="429.9" cy="62.6" r="2.15" fill-opacity="0.200"/>
<circle cx="428.8" cy="32.1" r="2.15" fill-opacity="0.360"/>
<circle cx="433.1" cy="85.1" r="2.15" fill-opacity="0.200"/>
<circle cx="433.9" cy="105.3" r="2.15" fill-opacity="0.200"/>
<circle cx="435.8" cy="35.4" r="2.15" fill-opacity="0.360"/>
<circle cx="413.9" cy="109.6" r="2.15" fill-opacity="0.200"/>
<circle cx="415.1" cy="136.7" r="2.15" fill-opacity="0.672"/>
<circle cx="419.4" cy="38.8" r="2.15" fill-opacity="0.488"/>
<circle cx="437.2" cy="79.0" r="2.15" fill-opacity="0.200"/>
<circle cx="433.3" cy="99.0" r="2.15" fill-opacity="0.200"/>
<circle cx="432.5" cy="149.2" r="2.15" fill-opacity="0.590"/>
<circle cx="419.9" cy="96.5" r="2.15" fill-opacity="0.200"/>
<circle cx="427.4" cy="35.1" r="2.15" fill-opacity="0.738"/>
<circle cx="436.2" cy="101.2" r="2.15" fill-opacity="0.200"/>
<circle cx="420.4" cy="48.3" r="2.15" fill-opacity="0.738"/>
<circle cx="422.0" cy="32.7" r="2.15" fill-opacity="0.200"/>
<circle cx="427.6" cy="146.3" r="2.15" fill-opacity="0.200"/>
<circle cx="425.6" cy="81.1" r="2.15" fill-opacity="0.200"/>
<circle cx="433.6" cy="27.8" r="2.15" fill-opacity="0.200"/>
<circle cx="438.7" cy="130.1" r="2.15" fill-opacity="0.360"/>
<circle cx="419.5" cy="127.0" r="2.15" fill-opacity="0.200"/>
<circle cx="424.0" cy="119.2" r="2.15" fill-opacity="0.488"/>
<circle cx="426.0" cy="52.6" r="2.15" fill-opacity="0.738"/>
<circle cx="429.0" cy="51.4" r="2.15" fill-opacity="0.738"/>
<circle cx="421.3" cy="132.1" r="2.15" fill-opacity="0.360"/>
<circle cx="417.6" cy="27.0" r="2.15" fill-opacity="0.488"/>
<circle cx="436.6" cy="27.9" r="2.15" fill-opacity="0.200"/>
<circle cx="422.5" cy="26.4" r="2.15" fill-opacity="0.200"/>
<circle cx="430.8" cy="71.9" r="2.15" fill-opacity="0.360"/>
<circle cx="438.4" cy="100.9" r="2.15" fill-opacity="0.832"/>
<circle cx="434.5" cy="27.7" r="2.15" fill-opacity="0.200"/>
<circle cx="425.7" cy="146.3" r="2.15" fill-opacity="0.200"/>
<circle cx="419.9" cy="84.7" r="2.15" fill-opacity="0.488"/>
<circle cx="415.7" cy="22.0" r="2.15" fill-opacity="0.200"/>
<circle cx="422.3" cy="147.6" r="2.15" fill-opacity="0.200"/>
<circle cx="422.4" cy="45.3" r="2.15" fill-opacity="0.200"/>
<circle cx="418.6" cy="59.9" r="2.15" fill-opacity="0.360"/>
<circle cx="415.9" cy="154.9" r="2.15" fill-opacity="0.200"/>
<circle cx="418.0" cy="92.5" r="2.15" fill-opacity="0.360"/>
<circle cx="423.5" cy="38.5" r="2.15" fill-opacity="0.200"/>
<circle cx="420.7" cy="90.1" r="2.15" fill-opacity="0.738"/>
<circle cx="420.4" cy="110.3" r="2.15" fill-opacity="0.360"/>
<circle cx="414.0" cy="90.4" r="2.15" fill-opacity="0.200"/>
<circle cx="434.0" cy="27.9" r="2.15" fill-opacity="0.488"/>
<circle cx="432.8" cy="22.1" r="2.15" fill-opacity="0.200"/>
<circle cx="424.1" cy="147.5" r="2.15" fill-opacity="0.200"/>
<circle cx="420.1" cy="121.9" r="2.15" fill-opacity="0.200"/>
<circle cx="425.3" cy="128.6" r="2.15" fill-opacity="0.200"/>
<circle cx="414.8" cy="114.9" r="2.15" fill-opacity="0.200"/>
<circle cx="432.2" cy="40.4" r="2.15" fill-opacity="0.200"/>
<circle cx="417.7" cy="41.9" r="2.15" fill-opacity="0.200"/>
<circle cx="434.0" cy="89.4" r="2.15" fill-opacity="0.590"/>
<circle cx="431.7" cy="69.1" r="2.15" fill-opacity="0.200"/>
<circle cx="423.6" cy="107.8" r="2.15" fill-opacity="0.200"/>
<circle cx="436.7" cy="115.0" r="2.15" fill-opacity="0.488"/>
<circle cx="422.4" cy="129.5" r="2.15" fill-opacity="0.200"/>
<circle cx="428.4" cy="75.7" r="2.15" fill-opacity="0.360"/>
<circle cx="435.7" cy="30.6" r="2.15" fill-opacity="0.738"/>
<circle cx="429.0" cy="50.8" r="2.15" fill-opacity="0.200"/>
<circle cx="421.6" cy="104.2" r="2.15" fill-opacity="0.200"/>
<circle cx="419.0" cy="123.5" r="2.15" fill-opacity="0.200"/>
<circle cx="435.1" cy="67.5" r="2.15" fill-opacity="0.200"/>
<circle cx="422.6" cy="71.0" r="2.15" fill-opacity="0.488"/>
<circle cx="438.3" cy="88.4" r="2.15" fill-opacity="0.590"/>
<circle cx="437.7" cy="142.5" r="2.15" fill-opacity="0.200"/>
<circle cx="427.0" cy="145.2" r="2.15" fill-opacity="0.488"/>
<circle cx="423.6" cy="140.6" r="2.15" fill-opacity="0.200"/>
<circle cx="416.2" cy="143.7" r="2.15" fill-opacity="0.200"/>
<circle cx="437.1" cy="60.1" r="2.15" fill-opacity="0.200"/>
<circle cx="438.6" cy="66.0" r="2.15" fill-opacity="0.200"/>
<circle cx="426.6" cy="135.1" r="2.15" fill-opacity="0.200"/>
<circle cx="437.2" cy="128.7" r="2.15" fill-opacity="0.200"/>
<circle cx="419.9" cy="35.3" r="2.15" fill-opacity="0.488"/>
<circle cx="428.3" cy="119.7" r="2.15" fill-opacity="0.590"/>
</g>
<line x1="438.70" y1="184.70" x2="438.70" y2="10.60" stroke="#ff0000" stroke-width="1.1" stroke-dasharray="4.2 4.2"/>
<line x1="400.40" y1="10.60" x2="400.40" y2="185.30" stroke="#000" stroke-width="1.2" />
<line x1="397.60" y1="177.50" x2="400.40" y2="177.50" stroke="#333" stroke-width="1.2" />
<text x="395.80" y="180.60" font-size="8.7" fill="#4d4d4d" text-anchor="end" >0</text>
<line x1="397.60" y1="154.00" x2="400.40" y2="154.00" stroke="#333" stroke-width="1.2" />
<text x="395.80" y="157.10" font-size="8.7" fill="#4d4d4d" text-anchor="end" >30</text>
<line x1="397.60" y1="130.50" x2="400.40" y2="130.50" stroke="#333" stroke-width="1.2" />
<text x="395.80" y="133.60" font-size="8.7" fill="#4d4d4d" text-anchor="end" >60</text>
<line x1="397.60" y1="107.00" x2="400.40" y2="107.00" stroke="#333" stroke-width="1.2" />
<text x="395.80" y="110.10" font-size="8.7" fill="#4d4d4d" text-anchor="end" >90</text>
<line x1="397.60" y1="83.50" x2="400.40" y2="83.50" stroke="#333" stroke-width="1.2" />
<text x="395.80" y="86.60" font-size="8.7" fill="#4d4d4d" text-anchor="end" >120</text>
<line x1="397.60" y1="60.00" x2="400.40" y2="60.00" stroke="#333" stroke-width="1.2" />
<text x="395.80" y="63.10" font-size="8.7" fill="#4d4d4d" text-anchor="end" >150</text>
<line x1="397.60" y1="36.51" x2="400.40" y2="36.51" stroke="#333" stroke-width="1.2" />
<text x="395.80" y="39.61" font-size="8.7" fill="#4d4d4d" text-anchor="end" >180</text>
<line x1="397.60" y1="13.01" x2="400.40" y2="13.01" stroke="#333" stroke-width="1.2" />
<text x="395.80" y="16.11" font-size="8.7" fill="#4d4d4d" text-anchor="end" >210</text>
<line x1="399.80" y1="184.70" x2="685.00" y2="184.70" stroke="#000" stroke-width="1.2" />
<line x1="413.00" y1="184.70" x2="413.00" y2="187.50" stroke="#333" stroke-width="1.2" />
<text x="413.00" y="195.90" font-size="8.7" fill="#4d4d4d" text-anchor="middle" >0.00</text>
<line x1="477.77" y1="184.70" x2="477.77" y2="187.50" stroke="#333" stroke-width="1.2" />
<text x="477.77" y="195.90" font-size="8.7" fill="#4d4d4d" text-anchor="middle" >0.25</text>
<line x1="542.55" y1="184.70" x2="542.55" y2="187.50" stroke="#333" stroke-width="1.2" />
<text x="542.55" y="195.90" font-size="8.7" fill="#4d4d4d" text-anchor="middle" >0.50</text>
<line x1="607.33" y1="184.70" x2="607.33" y2="187.50" stroke="#333" stroke-width="1.2" />
<text x="607.33" y="195.90" font-size="8.7" fill="#4d4d4d" text-anchor="middle" >0.75</text>
<line x1="672.10" y1="184.70" x2="672.10" y2="187.50" stroke="#333" stroke-width="1.2" />
<text x="672.10" y="195.90" font-size="8.7" fill="#4d4d4d" text-anchor="middle" >1.00</text>
<text x="542.60" y="208.30" font-size="10.8" fill="#000" text-anchor="middle" >High−genotype IUR</text>
<text font-size="10.8" fill="#000" text-anchor="middle" transform="translate(361.2,97.5) rotate(-90)">Number of samples</text>
<text font-size="10.8" fill="#000" text-anchor="middle" transform="translate(372.6,96.9) rotate(-90)">with intron usage &gt; 0</text>
<rect x="63.80" y="413.30" width="1.30" height="24.70" fill="#f9aca7"/>
<rect x="65.10" y="425.06" width="1.30" height="12.94" fill="#66d9dc"/>
<rect x="66.40" y="279.83" width="1.30" height="158.17" fill="#f9aca7"/>
<rect x="67.69" y="352.15" width="1.30" height="85.85" fill="#66d9dc"/>
<rect x="68.99" y="333.92" width="1.30" height="104.08" fill="#f9aca7"/>
<rect x="70.29" y="352.15" width="1.30" height="85.85" fill="#66d9dc"/>
<rect x="71.58" y="372.14" width="1.30" height="65.86" fill="#f9aca7"/>
<rect x="72.88" y="370.38" width="1.30" height="67.62" fill="#66d9dc"/>
<rect x="74.18" y="390.96" width="1.30" height="47.04" fill="#f9aca7"/>
<rect x="75.47" y="382.73" width="1.30" height="55.27" fill="#66d9dc"/>
<rect x="76.77" y="400.96" width="1.30" height="37.04" fill="#f9aca7"/>
<rect x="78.06" y="383.90" width="1.30" height="54.10" fill="#66d9dc"/>
<rect x="79.36" y="414.48" width="1.30" height="23.52" fill="#f9aca7"/>
<rect x="80.66" y="392.72" width="1.30" height="45.28" fill="#66d9dc"/>
<rect x="81.95" y="418.01" width="1.30" height="19.99" fill="#f9aca7"/>
<rect x="83.25" y="399.19" width="1.30" height="38.81" fill="#66d9dc"/>
<rect x="84.55" y="420.36" width="1.30" height="17.64" fill="#f9aca7"/>
<rect x="85.84" y="399.19" width="1.30" height="38.81" fill="#66d9dc"/>
<rect x="87.14" y="418.01" width="1.30" height="19.99" fill="#f9aca7"/>
<rect x="88.44" y="405.07" width="1.30" height="32.93" fill="#66d9dc"/>
<rect x="89.73" y="425.06" width="1.30" height="12.94" fill="#f9aca7"/>
<rect x="91.03" y="408.01" width="1.30" height="29.99" fill="#66d9dc"/>
<rect x="92.33" y="425.65" width="1.30" height="12.35" fill="#f9aca7"/>
<rect x="93.62" y="412.13" width="1.30" height="25.87" fill="#66d9dc"/>
<rect x="94.92" y="430.94" width="1.30" height="7.06" fill="#f9aca7"/>
<rect x="96.22" y="419.18" width="1.30" height="18.82" fill="#66d9dc"/>
<rect x="97.51" y="431.53" width="1.30" height="6.47" fill="#f9aca7"/>
<rect x="98.81" y="412.13" width="1.30" height="25.87" fill="#66d9dc"/>
<rect x="100.10" y="427.42" width="1.30" height="10.58" fill="#f9aca7"/>
<rect x="101.40" y="415.07" width="1.30" height="22.93" fill="#66d9dc"/>
<rect x="102.70" y="425.65" width="1.30" height="12.35" fill="#f9aca7"/>
<rect x="103.99" y="415.66" width="1.30" height="22.34" fill="#66d9dc"/>
<rect x="105.29" y="428.59" width="1.30" height="9.41" fill="#f9aca7"/>
<rect x="106.59" y="424.48" width="1.30" height="13.52" fill="#66d9dc"/>
<rect x="107.88" y="429.77" width="1.30" height="8.23" fill="#f9aca7"/>
<rect x="109.18" y="423.30" width="1.30" height="14.70" fill="#66d9dc"/>
<rect x="110.48" y="430.36" width="1.30" height="7.64" fill="#f9aca7"/>
<rect x="111.77" y="418.60" width="1.30" height="19.40" fill="#66d9dc"/>
<rect x="113.07" y="430.94" width="1.30" height="7.06" fill="#f9aca7"/>
<rect x="114.37" y="422.12" width="1.30" height="15.88" fill="#66d9dc"/>
<rect x="115.66" y="430.94" width="1.30" height="7.06" fill="#f9aca7"/>
<rect x="116.96" y="422.12" width="1.30" height="15.88" fill="#66d9dc"/>
<rect x="118.26" y="433.30" width="1.30" height="4.70" fill="#f9aca7"/>
<rect x="119.55" y="424.48" width="1.30" height="13.52" fill="#66d9dc"/>
<rect x="120.85" y="436.24" width="1.30" height="1.76" fill="#f9aca7"/>
<rect x="122.14" y="424.48" width="1.30" height="13.52" fill="#66d9dc"/>
<rect x="123.44" y="436.24" width="1.30" height="1.76" fill="#f9aca7"/>
<rect x="124.74" y="418.01" width="1.30" height="19.99" fill="#66d9dc"/>
<rect x="126.03" y="433.88" width="1.30" height="4.12" fill="#f9aca7"/>
<rect x="127.33" y="410.36" width="1.30" height="27.64" fill="#66d9dc"/>
<rect x="128.63" y="436.24" width="1.30" height="1.76" fill="#f9aca7"/>
<rect x="129.92" y="421.54" width="1.30" height="16.46" fill="#66d9dc"/>
<rect x="131.22" y="435.06" width="1.30" height="2.94" fill="#f9aca7"/>
<rect x="132.52" y="426.24" width="1.30" height="11.76" fill="#66d9dc"/>
<rect x="133.81" y="436.82" width="1.30" height="1.18" fill="#f9aca7"/>
<rect x="135.11" y="422.71" width="1.30" height="15.29" fill="#66d9dc"/>
<rect x="136.41" y="436.24" width="1.30" height="1.76" fill="#f9aca7"/>
<rect x="137.70" y="419.77" width="1.30" height="18.23" fill="#66d9dc"/>
<rect x="139.00" y="435.06" width="1.30" height="2.94" fill="#f9aca7"/>
<rect x="140.30" y="426.24" width="1.30" height="11.76" fill="#66d9dc"/>
<rect x="141.59" y="435.65" width="1.30" height="2.35" fill="#f9aca7"/>
<rect x="142.89" y="422.71" width="1.30" height="15.29" fill="#66d9dc"/>
<rect x="144.18" y="430.36" width="1.30" height="7.64" fill="#f9aca7"/>
<rect x="145.48" y="423.89" width="1.30" height="14.11" fill="#66d9dc"/>
<rect x="146.78" y="433.30" width="1.30" height="4.70" fill="#f9aca7"/>
<rect x="148.07" y="426.24" width="1.30" height="11.76" fill="#66d9dc"/>
<rect x="149.37" y="435.65" width="1.30" height="2.35" fill="#f9aca7"/>
<rect x="150.67" y="424.48" width="1.30" height="13.52" fill="#66d9dc"/>
<rect x="151.96" y="435.06" width="1.30" height="2.94" fill="#f9aca7"/>
<rect x="153.26" y="427.42" width="1.30" height="10.58" fill="#66d9dc"/>
<rect x="154.56" y="434.47" width="1.30" height="3.53" fill="#f9aca7"/>
<rect x="155.85" y="426.24" width="1.30" height="11.76" fill="#66d9dc"/>
<rect x="157.15" y="437.41" width="1.30" height="0.59" fill="#f9aca7"/>
<rect x="158.45" y="428.59" width="1.30" height="9.41" fill="#66d9dc"/>
<rect x="159.74" y="437.41" width="1.30" height="0.59" fill="#f9aca7"/>
<rect x="161.04" y="430.36" width="1.30" height="7.64" fill="#66d9dc"/>
<rect x="162.33" y="436.24" width="1.30" height="1.76" fill="#f9aca7"/>
<rect x="163.63" y="430.36" width="1.30" height="7.64" fill="#66d9dc"/>
<rect x="164.93" y="435.65" width="1.30" height="2.35" fill="#f9aca7"/>
<rect x="166.22" y="427.42" width="1.30" height="10.58" fill="#66d9dc"/>
<rect x="167.52" y="436.24" width="1.30" height="1.76" fill="#f9aca7"/>
<rect x="168.82" y="428.59" width="1.30" height="9.41" fill="#66d9dc"/>
<rect x="170.11" y="435.06" width="1.30" height="2.94" fill="#f9aca7"/>
<rect x="171.41" y="427.42" width="1.30" height="10.58" fill="#66d9dc"/>
<rect x="172.71" y="436.24" width="1.30" height="1.76" fill="#f9aca7"/>
<rect x="174.00" y="426.24" width="1.30" height="11.76" fill="#66d9dc"/>
<rect x="175.30" y="435.65" width="1.30" height="2.35" fill="#f9aca7"/>
<rect x="176.60" y="430.36" width="1.30" height="7.64" fill="#66d9dc"/>
<rect x="177.89" y="436.24" width="1.30" height="1.76" fill="#f9aca7"/>
<rect x="179.19" y="430.94" width="1.30" height="7.06" fill="#66d9dc"/>
<rect x="180.49" y="437.41" width="1.30" height="0.59" fill="#f9aca7"/>
<rect x="181.78" y="429.77" width="1.30" height="8.23" fill="#66d9dc"/>
<rect x="183.08" y="437.41" width="1.30" height="0.59" fill="#f9aca7"/>
<rect x="184.37" y="431.53" width="1.30" height="6.47" fill="#66d9dc"/>
<rect x="185.67" y="437.41" width="1.30" height="0.59" fill="#f9aca7"/>
<rect x="186.97" y="429.77" width="1.30" height="8.23" fill="#66d9dc"/>
<rect x="189.56" y="429.77" width="1.30" height="8.23" fill="#66d9dc"/>
<rect x="190.86" y="437.41" width="1.30" height="0.59" fill="#f9aca7"/>
<rect x="192.15" y="425.65" width="1.30" height="12.35" fill="#66d9dc"/>
<rect x="193.45" y="437.41" width="1.30" height="0.59" fill="#f9aca7"/>
<rect x="194.75" y="430.94" width="1.30" height="7.06" fill="#66d9dc"/>
<rect x="196.04" y="437.41" width="1.30" height="0.59" fill="#f9aca7"/>
<rect x="197.34" y="429.18" width="1.30" height="8.82" fill="#66d9dc"/>
<rect x="198.64" y="436.82" width="1.30" height="1.18" fill="#f9aca7"/>
<rect x="199.93" y="429.77" width="1.30" height="8.23" fill="#66d9dc"/>
<rect x="201.23" y="437.41" width="1.30" height="0.59" fill="#f9aca7"/>
<rect x="202.53" y="432.71" width="1.30" height="5.29" fill="#66d9dc"/>
<rect x="203.82" y="437.41" width="1.30" height="0.59" fill="#f9aca7"/>
<rect x="205.12" y="426.24" width="1.30" height="11.76" fill="#66d9dc"/>
<rect x="207.71" y="431.53" width="1.30" height="6.47" fill="#66d9dc"/>
<rect x="210.30" y="432.71" width="1.30" height="5.29" fill="#66d9dc"/>
<rect x="211.60" y="436.24" width="1.30" height="1.76" fill="#f9aca7"/>
<rect x="212.90" y="426.83" width="1.30" height="11.17" fill="#66d9dc"/>
<rect x="215.49" y="433.88" width="1.30" height="4.12" fill="#66d9dc"/>
<rect x="218.08" y="432.71" width="1.30" height="5.29" fill="#66d9dc"/>
<rect x="219.38" y="435.06" width="1.30" height="2.94" fill="#f9aca7"/>
<rect x="220.68" y="425.65" width="1.30" height="12.35" fill="#66d9dc"/>
<rect x="223.27" y="433.30" width="1.30" height="4.70" fill="#66d9dc"/>
<rect x="224.57" y="436.24" width="1.30" height="1.76" fill="#f9aca7"/>
<rect x="225.86" y="434.47" width="1.30" height="3.53" fill="#66d9dc"/>
<rect x="228.45" y="430.36" width="1.30" height="7.64" fill="#66d9dc"/>
<rect x="229.75" y="436.24" width="1.30" height="1.76" fill="#f9aca7"/>
<rect x="231.05" y="434.47" width="1.30" height="3.53" fill="#66d9dc"/>
<rect x="233.64" y="432.12" width="1.30" height="5.88" fill="#66d9dc"/>
<rect x="234.94" y="436.82" width="1.30" height="1.18" fill="#f9aca7"/>
<rect x="236.23" y="434.47" width="1.30" height="3.53" fill="#66d9dc"/>
<rect x="237.53" y="435.65" width="1.30" height="2.35" fill="#f9aca7"/>
<rect x="238.83" y="433.88" width="1.30" height="4.12" fill="#66d9dc"/>
<rect x="240.12" y="435.65" width="1.30" height="2.35" fill="#f9aca7"/>
<rect x="241.42" y="423.89" width="1.30" height="14.11" fill="#66d9dc"/>
<rect x="244.01" y="432.71" width="1.30" height="5.29" fill="#66d9dc"/>
<rect x="246.60" y="429.77" width="1.30" height="8.23" fill="#66d9dc"/>
<rect x="247.90" y="432.71" width="1.30" height="5.29" fill="#f9aca7"/>
<rect x="249.20" y="433.30" width="1.30" height="4.70" fill="#66d9dc"/>
<rect x="250.49" y="433.88" width="1.30" height="4.12" fill="#f9aca7"/>
<rect x="251.79" y="435.06" width="1.30" height="2.94" fill="#66d9dc"/>
<rect x="253.09" y="433.88" width="1.30" height="4.12" fill="#f9aca7"/>
<rect x="254.38" y="432.12" width="1.30" height="5.88" fill="#66d9dc"/>
<rect x="256.98" y="430.36" width="1.30" height="7.64" fill="#66d9dc"/>
<rect x="258.27" y="436.82" width="1.30" height="1.18" fill="#f9aca7"/>
<rect x="259.57" y="433.30" width="1.30" height="4.70" fill="#66d9dc"/>
<rect x="262.16" y="436.24" width="1.30" height="1.76" fill="#66d9dc"/>
<rect x="263.46" y="436.82" width="1.30" height="1.18" fill="#f9aca7"/>
<rect x="264.76" y="432.71" width="1.30" height="5.29" fill="#66d9dc"/>
<rect x="267.35" y="434.47" width="1.30" height="3.53" fill="#66d9dc"/>
<rect x="269.94" y="432.71" width="1.30" height="5.29" fill="#66d9dc"/>
<rect x="272.53" y="429.77" width="1.30" height="8.23" fill="#66d9dc"/>
<rect x="275.13" y="431.53" width="1.30" height="6.47" fill="#66d9dc"/>
<rect x="277.72" y="433.30" width="1.30" height="4.70" fill="#66d9dc"/>
<rect x="280.31" y="429.18" width="1.30" height="8.82" fill="#66d9dc"/>
<rect x="282.91" y="430.36" width="1.30" height="7.64" fill="#66d9dc"/>
<rect x="285.50" y="425.65" width="1.30" height="12.35" fill="#66d9dc"/>
<rect x="286.80" y="437.41" width="1.30" height="0.59" fill="#f9aca7"/>
<rect x="288.09" y="433.30" width="1.30" height="4.70" fill="#66d9dc"/>
<rect x="290.68" y="430.94" width="1.30" height="7.06" fill="#66d9dc"/>
<rect x="291.98" y="437.41" width="1.30" height="0.59" fill="#f9aca7"/>
<rect x="293.28" y="431.53" width="1.30" height="6.47" fill="#66d9dc"/>
<rect x="295.87" y="431.53" width="1.30" height="6.47" fill="#66d9dc"/>
<rect x="298.46" y="427.42" width="1.30" height="10.58" fill="#66d9dc"/>
<rect x="301.06" y="427.42" width="1.30" height="10.58" fill="#66d9dc"/>
<rect x="303.65" y="416.83" width="1.30" height="21.17" fill="#66d9dc"/>
<rect x="306.24" y="418.60" width="1.30" height="19.40" fill="#66d9dc"/>
<rect x="308.84" y="420.95" width="1.30" height="17.05" fill="#66d9dc"/>
<rect x="311.43" y="420.95" width="1.30" height="17.05" fill="#66d9dc"/>
<rect x="314.02" y="421.54" width="1.30" height="16.46" fill="#66d9dc"/>
<rect x="315.32" y="437.41" width="1.30" height="0.59" fill="#f9aca7"/>
<rect x="316.61" y="388.02" width="1.30" height="49.98" fill="#66d9dc"/>
<rect x="317.91" y="437.41" width="1.30" height="0.59" fill="#f9aca7"/>
<rect x="319.21" y="368.03" width="1.30" height="69.97" fill="#66d9dc"/>
<rect x="320.50" y="436.82" width="1.30" height="1.18" fill="#f9aca7"/>
<rect x="321.80" y="314.52" width="1.30" height="123.48" fill="#66d9dc"/>
<line x1="50.80" y1="272.20" x2="50.80" y2="446.30" stroke="#000" stroke-width="1.2" />
<line x1="48.00" y1="438.00" x2="50.80" y2="438.00" stroke="#333" stroke-width="1.2" />
<text x="46.20" y="441.10" font-size="8.7" fill="#4d4d4d" text-anchor="end" >0</text>
<line x1="48.00" y1="379.20" x2="50.80" y2="379.20" stroke="#333" stroke-width="1.2" />
<text x="46.20" y="382.30" font-size="8.7" fill="#4d4d4d" text-anchor="end" >100</text>
<line x1="48.00" y1="320.40" x2="50.80" y2="320.40" stroke="#333" stroke-width="1.2" />
<text x="46.20" y="323.50" font-size="8.7" fill="#4d4d4d" text-anchor="end" >200</text>
<line x1="50.20" y1="445.70" x2="335.50" y2="445.70" stroke="#000" stroke-width="1.2" />
<line x1="65.00" y1="445.70" x2="65.00" y2="448.50" stroke="#333" stroke-width="1.2" />
<text x="65.00" y="457.20" font-size="8.7" fill="#4d4d4d" text-anchor="middle" >0.00</text>
<line x1="129.18" y1="445.70" x2="129.18" y2="448.50" stroke="#333" stroke-width="1.2" />
<text x="129.18" y="457.20" font-size="8.7" fill="#4d4d4d" text-anchor="middle" >0.25</text>
<line x1="193.35" y1="445.70" x2="193.35" y2="448.50" stroke="#333" stroke-width="1.2" />
<text x="193.35" y="457.20" font-size="8.7" fill="#4d4d4d" text-anchor="middle" >0.50</text>
<line x1="257.52" y1="445.70" x2="257.52" y2="448.50" stroke="#333" stroke-width="1.2" />
<text x="257.52" y="457.20" font-size="8.7" fill="#4d4d4d" text-anchor="middle" >0.75</text>
<line x1="321.70" y1="445.70" x2="321.70" y2="448.50" stroke="#333" stroke-width="1.2" />
<text x="321.70" y="457.20" font-size="8.7" fill="#4d4d4d" text-anchor="middle" >1.00</text>
<text x="193.30" y="469.40" font-size="10.8" fill="#000" text-anchor="middle" >High−genotype IUR</text>
<text font-size="10.8" fill="#000" text-anchor="middle" transform="translate(14.8,358.8) rotate(-90)">Number of colocalised</text>
<text font-size="10.8" fill="#000" text-anchor="middle" transform="translate(26.0,358.0) rotate(-90)">intron/condition pairs</text>
<rect x="123.4" y="239.6" width="15.4" height="15.3" fill="#f9aca7"/>
<text x="145.20" y="250.90" font-size="8.7" fill="#000" text-anchor="start" >Unannotated</text>
<rect x="202.0" y="239.6" width="15.4" height="15.3" fill="#66d9dc"/>
<text x="223.20" y="250.90" font-size="8.7" fill="#000" text-anchor="start" >Annotated</text>
<rect x="419.50" y="280.00" width="116.6" height="6.90" fill="#F8766D"/>
<rect x="419.50" y="286.90" width="116.6" height="3.90" fill="#A3A500"/>
<rect x="419.50" y="290.80" width="116.6" height="133.00" fill="#00BF7D"/>
<rect x="419.50" y="423.80" width="116.6" height="13.90" fill="#E76BF3"/>
<rect x="549.20" y="280.00" width="116.6" height="23.80" fill="#F8766D"/>
<rect x="549.20" y="303.80" width="116.6" height="35.60" fill="#A3A500"/>
<rect x="549.20" y="339.40" width="116.6" height="79.40" fill="#00BF7D"/>
<rect x="549.20" y="418.80" width="116.6" height="1.60" fill="#00B0F6"/>
<rect x="549.20" y="420.40" width="116.6" height="17.30" fill="#E76BF3"/>
<line x1="400.40" y1="272.30" x2="400.40" y2="446.30" stroke="#000" stroke-width="1.2" />
<line x1="397.60" y1="437.70" x2="400.40" y2="437.70" stroke="#333" stroke-width="1.2" />
<text x="395.80" y="440.80" font-size="8.7" fill="#4d4d4d" text-anchor="end" >0.00</text>
<line x1="397.60" y1="398.27" x2="400.40" y2="398.27" stroke="#333" stroke-width="1.2" />
<text x="395.80" y="401.38" font-size="8.7" fill="#4d4d4d" text-anchor="end" >0.25</text>
<line x1="397.60" y1="358.85" x2="400.40" y2="358.85" stroke="#333" stroke-width="1.2" />
<text x="395.80" y="361.95" font-size="8.7" fill="#4d4d4d" text-anchor="end" >0.50</text>
<line x1="397.60" y1="319.43" x2="400.40" y2="319.43" stroke="#333" stroke-width="1.2" />
<text x="395.80" y="322.53" font-size="8.7" fill="#4d4d4d" text-anchor="end" >0.75</text>
<line x1="397.60" y1="280.00" x2="400.40" y2="280.00" stroke="#333" stroke-width="1.2" />
<text x="395.80" y="283.10" font-size="8.7" fill="#4d4d4d" text-anchor="end" >1.00</text>
<line x1="399.80" y1="445.70" x2="685.00" y2="445.70" stroke="#000" stroke-width="1.2" />
<line x1="477.80" y1="445.70" x2="477.80" y2="448.50" stroke="#333" stroke-width="1.2" />
<text x="477.80" y="457.50" font-size="9.1" fill="#4d4d4d" text-anchor="middle" >Common usage</text>
<line x1="607.50" y1="445.70" x2="607.50" y2="448.50" stroke="#333" stroke-width="1.2" />
<text x="607.50" y="457.50" font-size="9.1" fill="#4d4d4d" text-anchor="middle" >Low usage</text>
<text font-size="10.8" fill="#000" text-anchor="middle" transform="translate(361.2,358.8) rotate(-90)">Proportion of colocalised</text>
<text font-size="10.8" fill="#000" text-anchor="middle" transform="translate(372.6,358.0) rotate(-90)">intron/condition pairs</text>
<rect x="452.20" y="239.5" width="15.4" height="15.3" fill="#F8766D"/>
<text x="474.00" y="250.60" font-size="8.7" fill="#000" text-anchor="start" >A</text>
<rect x="485.70" y="239.5" width="15.4" height="15.3" fill="#A3A500"/>
<text x="507.50" y="250.60" font-size="8.7" fill="#000" text-anchor="start" >D</text>
<rect x="519.90" y="239.5" width="15.4" height="15.3" fill="#00BF7D"/>
<text x="541.60" y="250.60" font-size="8.7" fill="#000" text-anchor="start" >DA</text>
<rect x="559.60" y="239.5" width="15.4" height="15.3" fill="#00B0F6"/>
<text x="581.30" y="250.60" font-size="8.7" fill="#000" text-anchor="start" >N</text>
<rect x="593.60" y="239.5" width="15.4" height="15.3" fill="#E76BF3"/>
<text x="615.50" y="250.60" font-size="8.7" fill="#000" text-anchor="start" >NDA</text>
</svg></body></html>
